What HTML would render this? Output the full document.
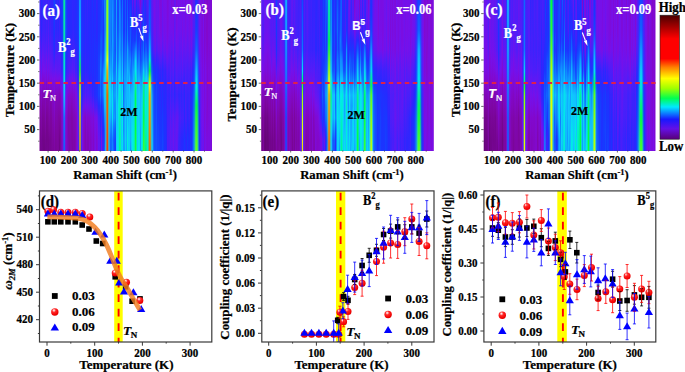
<!DOCTYPE html>
<html><head><meta charset="utf-8"><style>
html,body{margin:0;padding:0;background:#fff;}
#r{position:relative;width:685px;height:372px;overflow:hidden;background:#fff;}
#r i{position:absolute;top:0;height:150.5px;display:block;}
svg{position:absolute;left:0;top:0;}
text{font-family:"Liberation Serif",serif;font-weight:bold;}
</style></head><body><div id="r">
<i style="left:39px;width:1px;background:linear-gradient(#3724fd 0%,#3d22fb 10%,#461ffa 20%,#501df8 27%,#5e18f3 33%,#6f12ed 40%,#790ee2 47%,#7f0ad5 52%,#8108c5 57%,#7f07ae 63%,#7e06a5 70%,#7a0699 78%,#780595 86%,#74058e 93%,#750591 100%);opacity:0.50"></i>
<i style="left:40px;width:1px;background:linear-gradient(#4021fb 0%,#4121fb 10%,#4520fa 20%,#4d1df9 27%,#591af5 33%,#6715f0 40%,#770fe7 47%,#7c0cdb 52%,#8208c9 57%,#8007b7 63%,#7f07ab 70%,#7d069e 78%,#770594 86%,#74058f 93%,#73058d 100%)"></i>
<i style="left:41px;width:1px;background:linear-gradient(#2928ff 0%,#2b27ff 10%,#2d26fe 20%,#3823fc 27%,#461ffa 33%,#531cf8 40%,#6217f2 47%,#7610e9 52%,#7d0cda 57%,#8108c6 63%,#8007b7 70%,#7f06a8 78%,#7c069d 86%,#760593 93%,#74058f 100%)"></i>
<i style="left:42px;width:1px;background:linear-gradient(#3325fd 0%,#3524fd 10%,#3d22fc 20%,#4b1ef9 27%,#5a19f5 33%,#6b14ee 40%,#780ee4 47%,#7e0bd6 52%,#8208c9 57%,#8007b3 63%,#7e06a5 70%,#790698 78%,#750591 86%,#71058a 93%,#72058c 100%)"></i>
<i style="left:43px;width:1px;background:linear-gradient(#3c22fc 0%,#3f21fb 10%,#4121fb 20%,#4a1ef9 27%,#561bf6 33%,#6815ef 40%,#7610ea 47%,#7d0bd8 52%,#8208c9 57%,#8007b6 63%,#7f06a9 70%,#7a0698 78%,#750591 86%,#710589 93%,#6f0586 100%)"></i>
<i style="left:44px;width:1px;background:linear-gradient(#3a23fc 0%,#3c22fc 10%,#4121fb 20%,#4b1ef9 27%,#501df8 33%,#6316f1 40%,#7411eb 47%,#7c0cdb 52%,#8208ca 57%,#8007b3 63%,#7f06aa 70%,#7b069c 78%,#770593 86%,#72058a 93%,#6f0585 100%)"></i>
<i style="left:45px;width:1px;background:linear-gradient(#3a23fc 0%,#3923fc 10%,#3a23fc 20%,#4320fa 27%,#501df8 33%,#5e18f3 40%,#7012ec 47%,#7a0ee1 52%,#8009d2 57%,#8107bf 63%,#8007b8 70%,#7f07ad 78%,#7c069d 86%,#750591 93%,#72058b 100%)"></i>
<i style="left:46px;width:1px;background:linear-gradient(#4121fb 0%,#4221fb 10%,#461ffa 20%,#4e1df9 27%,#5a19f5 33%,#6f12ed 40%,#780ee4 47%,#7e0bd6 52%,#8108c4 57%,#7f07af 63%,#7f06a6 70%,#780595 78%,#75058f 86%,#72058b 93%,#73058d 100%)"></i>
<i style="left:47px;width:1px;background:linear-gradient(#3724fc 0%,#3724fc 10%,#3c22fc 20%,#4320fa 27%,#491ef9 33%,#591af5 40%,#6a14ef 47%,#780fe5 52%,#8009d0 57%,#8007b4 63%,#7f06a6 70%,#790697 78%,#750590 86%,#73058c 93%,#74058f 100%)"></i>
<i style="left:48px;width:1px;background:linear-gradient(#4420fa 0%,#4a1ef9 10%,#4e1df9 20%,#591af5 27%,#5f18f3 33%,#6d13ed 40%,#770fe7 47%,#7e0bd7 52%,#8208c9 57%,#7f07ad 63%,#7f07ab 70%,#7d069f 78%,#790696 86%,#73058c 93%,#72058b 100%)"></i>
<i style="left:49px;width:1px;background:linear-gradient(#3624fd 0%,#3724fc 10%,#3a23fc 20%,#4220fb 27%,#511cf8 33%,#6117f2 40%,#6f12ed 47%,#790ee2 52%,#7f0ad4 57%,#8107bf 63%,#8007b3 70%,#7f06a7 78%,#7c069c 86%,#760592 93%,#760592 100%)"></i>
<i style="left:50px;width:1px;background:linear-gradient(#3923fc 0%,#3c22fc 10%,#4320fa 20%,#4a1ef9 27%,#511cf8 33%,#591af5 40%,#6815ef 47%,#780fe5 52%,#8009d1 57%,#8007b7 63%,#7f06a9 70%,#7d069f 78%,#7b069a 86%,#760593 93%,#770593 100%)"></i>
<i style="left:51px;width:1px;background:linear-gradient(#3225fd 0%,#3524fd 10%,#3823fc 20%,#4121fb 27%,#4b1ef9 33%,#581af6 40%,#6516f0 47%,#790ee4 52%,#8109cf 57%,#8007b8 63%,#7f07ad 70%,#7e06a0 78%,#7b069b 86%,#790697 93%,#780696 100%)"></i>
<i style="left:52px;width:1px;background:linear-gradient(#3026fe 0%,#3524fd 10%,#3524fd 20%,#3d22fc 27%,#4420fa 33%,#541bf7 40%,#6017f2 47%,#7610ea 52%,#7d0bd9 57%,#8108c6 63%,#8107be 70%,#8007b1 78%,#7f06a6 86%,#7d069e 93%,#7a0699 100%)"></i>
<i style="left:53px;width:1px;background:linear-gradient(#2334fe 0%,#2430fe 10%,#252dfe 20%,#292bfe 27%,#3228fd 33%,#461ffa 40%,#6117f2 47%,#770fe7 52%,#7d0bd9 57%,#8009c9 63%,#8008bf 70%,#8007b3 78%,#7e06a7 86%,#7b069e 93%,#7a0599 100%)"></i>
<i style="left:54px;width:1px;background:linear-gradient(#1645ff 0%,#183dff 10%,#1b35ff 20%,#1f32ff 27%,#222fff 33%,#3c23fc 40%,#5d19f4 47%,#7610ea 52%,#7a0dde 57%,#7e0bd6 63%,#8109ce 70%,#8108c1 78%,#8007b4 86%,#7f06a9 93%,#7e06a0 100%)"></i>
<i style="left:55px;width:1px;background:linear-gradient(#282bff 0%,#2c29fe 10%,#3226fd 20%,#3a24fc 27%,#4121fb 33%,#531bf7 40%,#6616f1 47%,#780fe6 52%,#7f0ad2 57%,#8108c0 63%,#8007b8 70%,#7f06aa 78%,#7d06a0 86%,#7b069a 93%,#790697 100%)"></i>
<i style="left:56px;width:1px;background:linear-gradient(#2729ff 0%,#2b27fe 10%,#2d27fe 20%,#3b23fc 27%,#471ffa 33%,#531cf7 40%,#6117f2 47%,#780fe6 52%,#7e0bd6 57%,#8107c1 63%,#8007b6 70%,#7f07ad 78%,#7e06a4 86%,#7c069c 93%,#7a069a 100%)"></i>
<i style="left:57px;width:1px;background:linear-gradient(#3325fd 0%,#3325fd 10%,#3425fd 20%,#3e22fb 27%,#471ffa 33%,#511cf8 40%,#5e18f3 47%,#7510ea 52%,#7e0bd5 57%,#8107c0 63%,#8007b4 70%,#7f06aa 78%,#7e06a2 86%,#7d069f 93%,#7c069c 100%)"></i>
<i style="left:58px;width:1px;background:linear-gradient(#262aff 0%,#2928ff 10%,#2c27fe 20%,#3923fc 27%,#4620fa 33%,#531cf7 40%,#5f18f3 47%,#770fe8 52%,#7f0ad4 57%,#8107bd 63%,#8007b1 70%,#7e06a2 78%,#7d069e 86%,#7a069a 93%,#7b069a 100%)"></i>
<i style="left:59px;width:1px;background:linear-gradient(#4221fb 0%,#3f21fb 10%,#3923fc 20%,#3f21fb 27%,#481ffa 33%,#541bf7 40%,#5f18f3 47%,#780fe5 52%,#8109d0 57%,#8007b5 63%,#8007b1 70%,#7e06a1 78%,#780595 86%,#71058a 93%,#6f0586 100%)"></i>
<i style="left:60px;width:1px;background:linear-gradient(#2729ff 0%,#2828ff 10%,#2928ff 20%,#3524fd 27%,#3c22fc 33%,#4b1ef9 40%,#521cf8 47%,#6715f0 52%,#7b0ddd 57%,#8107c0 63%,#8007b8 70%,#7e06a5 78%,#7b069b 86%,#7b069a 93%,#7d069e 100%)"></i>
<i style="left:61px;width:1px;background:linear-gradient(#1a36ff 0%,#1b35ff 10%,#1b35ff 20%,#212fff 27%,#2828ff 33%,#3026fe 40%,#3c22fc 47%,#591af5 52%,#7211ec 57%,#7e0bd7 63%,#8208cd 70%,#8108c2 78%,#8007bb 86%,#8007b5 93%,#8007b4 100%)"></i>
<i style="left:62px;width:1px;background:linear-gradient(#1841f9 0%,#1742fa 10%,#1841fa 20%,#1c3cfb 27%,#2335fb 33%,#2e31fb 40%,#382efa 47%,#4d27f7 52%,#6120f0 57%,#7417e1 63%,#7713db 70%,#7c0ecf 78%,#7c0ece 86%,#7c0dcb 93%,#7c0dce 100%)"></i>
<i style="left:63px;width:1px;background:linear-gradient(#08b4be 0%,#08b3c3 10%,#08b2c8 20%,#08afcb 27%,#09aacf 33%,#0ba6d9 40%,#0da2e4 47%,#149eeb 52%,#1f96f2 57%,#2f84f6 63%,#366ef8 70%,#3a4ef3 78%,#3b49f0 86%,#3b44ee 93%,#3c41ed 100%)"></i>
<i style="left:64px;width:1px;background:linear-gradient(#02e89d 0%,#02e7a5 10%,#02e6ad 20%,#02e4b1 27%,#02e2b7 33%,#03dfc6 40%,#03ddd6 47%,#05dbe2 52%,#09d3ee 57%,#15bcf9 63%,#189dfd 70%,#196ffc 78%,#1968fc 86%,#1962fc 93%,#195cfc 100%)"></i>
<i style="left:65px;width:1px;background:linear-gradient(#106fec 0%,#106ded 10%,#106bef 20%,#1166f0 27%,#1260f1 33%,#1557f4 40%,#1a52f7 47%,#2649f9 52%,#3c42f8 57%,#5536f3 63%,#642bed 70%,#6a1ee0 78%,#6b1cdb 86%,#6b1bda 93%,#6c1ada 100%)"></i>
<i style="left:66px;width:1px;background:linear-gradient(#173dff 0%,#173eff 10%,#1740ff 20%,#1937ff 27%,#1e32ff 33%,#2729ff 40%,#3524fd 47%,#4e1df9 52%,#6416f1 57%,#770fe6 63%,#7c0cdb 70%,#8208cb 78%,#8208ca 86%,#8208c9 93%,#8208c8 100%)"></i>
<i style="left:67px;width:1px;background:linear-gradient(#212fff 0%,#2030ff 10%,#1f31ff 20%,#242cff 27%,#2729ff 33%,#3624fd 40%,#4320fa 47%,#5a19f5 52%,#6d13ed 57%,#7d0bd8 63%,#8109ce 70%,#8007ba 78%,#8007bb 86%,#8007ba 93%,#8107be 100%)"></i>
<i style="left:68px;width:1px;background:linear-gradient(#2c27fe 0%,#2e26fe 10%,#2b27ff 20%,#3026fe 27%,#3524fd 33%,#4021fb 40%,#491ef9 47%,#5e18f3 52%,#780fe6 57%,#8208cd 63%,#8007bb 70%,#7f07ac 78%,#7f06a8 86%,#7f07ad 93%,#8007b3 100%)"></i>
<i style="left:69px;width:1px;background:linear-gradient(#2a28ff 0%,#2928ff 10%,#2729ff 20%,#2f26fe 27%,#3a23fc 33%,#4320fa 40%,#521cf8 47%,#7112ec 52%,#7c0cdc 57%,#8208cb 63%,#8107bf 70%,#7f07ae 78%,#7f07ac 86%,#7f06a6 93%,#7e06a2 100%)"></i>
<i style="left:70px;width:1px;background:linear-gradient(#252bff 0%,#2729ff 10%,#2729ff 20%,#2e26fe 27%,#3325fd 33%,#4121fb 40%,#4d1df9 47%,#6815ef 52%,#790ee4 57%,#8208cb 63%,#8107c1 70%,#7f07b0 78%,#8007b1 86%,#7f07ad 93%,#7f07b0 100%)"></i>
<i style="left:71px;width:1px;background:linear-gradient(#2729ff 0%,#262aff 10%,#2729ff 20%,#2d26fe 27%,#3724fd 33%,#3f21fb 40%,#4f1df9 47%,#6715f0 52%,#790ee2 57%,#8208ca 63%,#8007b7 70%,#7f06a9 78%,#7f06a9 86%,#7f06a8 93%,#7f07ae 100%)"></i>
<i style="left:72px;width:1px;background:linear-gradient(#2d27fe 0%,#2f26fe 10%,#2e26fe 20%,#3524fd 27%,#4320fa 33%,#4e1df9 40%,#591af5 47%,#7112ec 52%,#7c0cdb 57%,#8208ca 63%,#8107bc 70%,#7f07ab 78%,#7f06a8 86%,#7f06a6 93%,#7e06a3 100%)"></i>
<i style="left:73px;width:1px;background:linear-gradient(#2c27fe 0%,#2d26fe 10%,#3026fe 20%,#3923fc 27%,#3f21fb 33%,#471ffa 40%,#511cf8 47%,#6416f1 52%,#770fe8 57%,#8009d1 63%,#8108c6 70%,#8007b5 78%,#7f07b0 86%,#7f06ab 93%,#7f06ab 100%)"></i>
<i style="left:74px;width:1px;background:linear-gradient(#2c27fe 0%,#2b27ff 10%,#2928ff 20%,#3125fd 27%,#3c22fc 33%,#471ffa 40%,#561bf7 47%,#6b14ee 52%,#780ee4 57%,#8009d1 63%,#8208c7 70%,#8007b9 78%,#8007b1 86%,#7f06a9 93%,#7f06a7 100%)"></i>
<i style="left:75px;width:1px;background:linear-gradient(#2729ff 0%,#2729ff 10%,#262aff 20%,#2828ff 27%,#2f26fe 33%,#3624fd 40%,#3f21fb 47%,#531cf7 52%,#6b14ee 57%,#7b0ddd 63%,#7f0ad3 70%,#8107be 78%,#8007b8 86%,#8007b3 93%,#8007b2 100%)"></i>
<i style="left:76px;width:1px;background:linear-gradient(#262aff 0%,#242cff 10%,#232dff 20%,#262aff 27%,#2e26fe 33%,#3823fc 40%,#4021fb 47%,#561bf6 52%,#6d13ee 57%,#7a0ee1 63%,#7d0cd9 70%,#8208c7 78%,#8208c8 86%,#8208c9 93%,#8208cd 100%)"></i>
<i style="left:77px;width:1px;background:linear-gradient(#1f31ff 0%,#1f31ff 10%,#2030ff 20%,#222eff 27%,#262aff 33%,#2828ff 40%,#2a27ff 47%,#3824fc 52%,#471ffa 57%,#581af6 63%,#6815ef 70%,#780fe6 78%,#790ee4 86%,#7a0ddf 93%,#7b0dde 100%)"></i>
<i style="left:78px;width:1px;background:linear-gradient(#1b3aff 0%,#1b3bff 10%,#1a3cff 20%,#1e38ff 27%,#2036ff 33%,#2136fa 40%,#2138f6 47%,#2934f4 52%,#2f31f4 57%,#392ff3 63%,#432bf1 70%,#4e28ef 78%,#4d27ef 86%,#4d26ef 93%,#4926f0 100%)"></i>
<i style="left:79px;width:1px;background:linear-gradient(#1290ff 0%,#1298ff 10%,#11a1fe 20%,#10a3fb 27%,#0fa6f9 33%,#06c4b3 40%,#22cd6d 47%,#65cd52 52%,#95ce4b 57%,#b9c44b 63%,#bab64b 70%,#bba34b 78%,#bb964b 86%,#bb8d4b 93%,#ba834b 100%)"></i>
<i style="left:80px;width:1px;background:linear-gradient(#138eff 0%,#1296ff 10%,#119ffe 20%,#10a2fb 27%,#0fa5f9 33%,#06c1b3 40%,#22ca6d 47%,#66cc52 52%,#95ce4b 57%,#b9c64b 63%,#bab64b 70%,#bba24b 78%,#bb954b 86%,#bb8a4b 93%,#bb7f4b 100%)"></i>
<i style="left:81px;width:1px;background:linear-gradient(#1e37ff 0%,#1e37ff 10%,#1c3aff 20%,#1d39ff 27%,#1d39ff 33%,#1c3cfa 40%,#1b3ff6 47%,#203ef4 52%,#233ef4 57%,#243ef4 63%,#2f33f4 70%,#4729f0 78%,#4828f0 86%,#4727f0 93%,#4328f1 100%)"></i>
<i style="left:82px;width:1px;background:linear-gradient(#262aff 0%,#232dff 10%,#2030ff 20%,#2030ff 27%,#2030ff 33%,#2030ff 40%,#222eff 47%,#262aff 52%,#2729ff 57%,#2e26fe 63%,#491ffa 70%,#6b14ee 78%,#7311eb 86%,#780fe6 93%,#770fe8 100%)"></i>
<i style="left:83px;width:1px;background:linear-gradient(#262aff 0%,#252bff 10%,#232dff 20%,#232dff 27%,#242cff 33%,#262aff 40%,#252bff 47%,#2f26fe 52%,#3e22fb 57%,#4520fa 63%,#6217f2 70%,#7e0bd6 78%,#8009d0 86%,#8109cf 93%,#8108cd 100%)"></i>
<i style="left:84px;width:1px;background:linear-gradient(#2828ff 0%,#262aff 10%,#252bff 20%,#242cff 27%,#262aff 33%,#262aff 40%,#2729ff 47%,#2f26fe 52%,#3a23fc 57%,#471ffa 63%,#6a14ef 70%,#8108ce 78%,#8108c5 86%,#8107be 93%,#8107bf 100%)"></i>
<i style="left:85px;width:1px;background:linear-gradient(#3026fe 0%,#3126fe 10%,#2f26fe 20%,#3026fe 27%,#3026fe 33%,#3325fd 40%,#3524fd 47%,#3c22fc 52%,#4a1ef9 57%,#561bf6 63%,#7411eb 70%,#8108c6 78%,#8007ba 86%,#8007b5 93%,#8007b3 100%)"></i>
<i style="left:86px;width:1px;background:linear-gradient(#2729ff 0%,#2729ff 10%,#262aff 20%,#2729ff 27%,#2729ff 33%,#2828ff 40%,#2a27ff 47%,#3425fd 52%,#4021fb 57%,#471ffa 63%,#6715f0 70%,#7e0bd6 78%,#8208cc 86%,#8108c3 93%,#8107bd 100%)"></i>
<i style="left:87px;width:1px;background:linear-gradient(#3624fd 0%,#3225fd 10%,#2d27fe 20%,#2b27ff 27%,#2928ff 33%,#2b27ff 40%,#2c27fe 47%,#3724fc 52%,#4320fb 57%,#511cf8 63%,#7012ec 70%,#8208cc 78%,#8107c1 86%,#8007b8 93%,#8007b5 100%)"></i>
<i style="left:88px;width:1px;background:linear-gradient(#2828ff 0%,#2729ff 10%,#2729ff 20%,#2828ff 27%,#2928ff 33%,#2e26fe 40%,#2b27fe 47%,#3424fd 52%,#4221fb 57%,#4e1df9 63%,#6a14ef 70%,#8109cf 78%,#8108c3 86%,#8007b9 93%,#8007b4 100%)"></i>
<i style="left:89px;width:1px;background:linear-gradient(#2e26fe 0%,#2a27ff 10%,#252bff 20%,#242cff 27%,#262aff 33%,#252bff 40%,#232dff 47%,#2a27ff 52%,#3724fc 57%,#491ffa 63%,#6715f0 70%,#8009d1 78%,#8208c9 86%,#8208c7 93%,#8208cd 100%)"></i>
<i style="left:90px;width:1px;background:linear-gradient(#2b27fe 0%,#2729ff 10%,#232dff 20%,#222eff 27%,#222eff 33%,#212fff 40%,#222eff 47%,#2c27fe 52%,#3624fd 57%,#4520fa 63%,#6416f1 70%,#7d0bd8 78%,#8108ce 86%,#8108c3 93%,#8108c2 100%)"></i>
<i style="left:91px;width:1px;background:linear-gradient(#262aff 0%,#262aff 10%,#262aff 20%,#2729ff 27%,#252bff 33%,#252bff 40%,#262aff 47%,#2d27fe 52%,#3524fd 57%,#4121fb 63%,#6017f2 70%,#7c0cdb 78%,#7f0ad4 86%,#8208cc 93%,#8208ca 100%)"></i>
<i style="left:92px;width:1px;background:linear-gradient(#1d33ff 0%,#2030ff 10%,#2030ff 20%,#212fff 27%,#212fff 33%,#212fff 40%,#1f31ff 47%,#222eff 52%,#2729ff 57%,#3225fd 63%,#551bf7 70%,#7a0ddf 78%,#7e0bd7 86%,#7f0ad3 93%,#7e0bd6 100%)"></i>
<i style="left:93px;width:1px;background:linear-gradient(#2c27fe 0%,#2928ff 10%,#2729ff 20%,#252bff 27%,#252bff 33%,#242cff 40%,#262aff 47%,#2928ff 52%,#2f26fe 57%,#3724fd 63%,#6117f2 70%,#7e0bd7 78%,#8109ce 86%,#8208c7 93%,#8108c6 100%)"></i>
<i style="left:94px;width:1px;background:linear-gradient(#212fff 0%,#212fff 10%,#212fff 20%,#1e32ff 27%,#1c34ff 33%,#1d33ff 40%,#1d33ff 47%,#1f31ff 52%,#232dff 57%,#242cff 63%,#461ffa 70%,#770fe7 78%,#7a0de0 86%,#7c0cdb 93%,#7d0cda 100%)"></i>
<i style="left:95px;width:1px;background:linear-gradient(#212fff 0%,#212fff 10%,#222eff 20%,#232dff 27%,#212fff 33%,#242cff 40%,#232dff 47%,#242cff 52%,#232dff 57%,#232dff 63%,#4320fa 70%,#7510ea 78%,#770fe7 86%,#780fe5 93%,#770fe8 100%)"></i>
<i style="left:96px;width:1px;background:linear-gradient(#3425fd 0%,#2f26fe 10%,#2c27fe 20%,#252bff 27%,#2030ff 33%,#1e32ff 40%,#1f31ff 47%,#1d33ff 52%,#1e32ff 57%,#1f31ff 63%,#4520fa 70%,#7710e9 78%,#7c0cdc 86%,#7e0ad5 93%,#7f0ad3 100%)"></i>
<i style="left:97px;width:1px;background:linear-gradient(#2f26fe 0%,#2b27fe 10%,#2a27ff 20%,#262aff 27%,#222eff 33%,#2030ff 40%,#1f31ff 47%,#1e32ff 52%,#1e32ff 57%,#1d33ff 63%,#3923fc 70%,#6914ef 78%,#7710e8 86%,#7b0dde 93%,#7c0cdc 100%)"></i>
<i style="left:98px;width:1px;background:linear-gradient(#1f31ff 0%,#1e32ff 10%,#1d33ff 20%,#1a36ff 27%,#173bff 33%,#1641ff 40%,#1642ff 47%,#1642ff 52%,#1644ff 57%,#1546ff 63%,#232dff 70%,#491ff9 78%,#591af5 86%,#6715f0 93%,#6416f1 100%)"></i>
<i style="left:99px;width:1px;background:linear-gradient(#1f31ff 0%,#1e32ff 10%,#1f31ff 20%,#1c34ff 27%,#1839ff 33%,#1740ff 40%,#1644ff 47%,#1644ff 52%,#1644ff 57%,#1642ff 63%,#222eff 70%,#4420fa 78%,#581af6 86%,#6815ef 93%,#6715f0 100%)"></i>
<i style="left:100px;width:1px;background:linear-gradient(#1937ff 0%,#1937ff 10%,#173eff 20%,#144fff 27%,#1353ff 33%,#1071ff 40%,#1083ff 47%,#1078ff 52%,#1069ff 57%,#1073ff 63%,#1547ff 70%,#2928ff 78%,#3125fd 86%,#3624fd 93%,#3524fd 100%)"></i>
<i style="left:101px;width:1px;background:linear-gradient(#1839ff 0%,#1740ff 10%,#1547ff 20%,#1259ff 27%,#1258ff 33%,#106fff 40%,#106aff 47%,#125aff 52%,#144eff 57%,#144eff 63%,#222eff 70%,#4021fb 78%,#591af5 86%,#7211eb 93%,#7510eb 100%)"></i>
<i style="left:102px;width:1px;background:linear-gradient(#1351ff 0%,#1645ff 10%,#1644ff 20%,#1547ff 27%,#1645ff 33%,#144bff 40%,#1161ff 47%,#1062ff 52%,#1064ff 57%,#115fff 63%,#1643ff 70%,#1b35ff 78%,#2c27fe 86%,#3d22fb 93%,#3c22fc 100%)"></i>
<i style="left:103px;width:1px;background:linear-gradient(#144cff 0%,#1a36ff 10%,#1e32ff 20%,#1d33ff 27%,#1643ff 33%,#1258ff 40%,#108bff 47%,#1094ff 52%,#1095ff 57%,#108bff 63%,#115fff 70%,#173fff 78%,#2729ff 86%,#3d22fc 93%,#3b22fc 100%)"></i>
<i style="left:104px;width:1px;background:linear-gradient(#1083ff 0%,#107eff 10%,#106aff 20%,#1072ff 27%,#107aff 33%,#1090ff 40%,#10a8ff 47%,#0fc6fe 52%,#10c0ff 57%,#10beff 63%,#10b4ff 70%,#1089ff 78%,#115fff 86%,#1353ff 93%,#1160ff 100%)"></i>
<i style="left:105px;width:1px;background:linear-gradient(#1a76eb 0%,#1b83eb 10%,#1c8beb 20%,#1caaeb 27%,#1cbaeb 33%,#22cbea 40%,#1adadd 47%,#19dadc 52%,#1ecae4 57%,#1ec8e3 63%,#22bdea 70%,#23a1eb 78%,#239deb 86%,#23a4eb 93%,#23b0eb 100%)"></i>
<i style="left:106px;width:1px;background:linear-gradient(#5be269 0%,#62e666 10%,#69e464 20%,#6ce464 27%,#6fe764 33%,#99f45d 40%,#9bc64f 47%,#9bb947 52%,#9bab3e 57%,#9b9838 63%,#9b9345 70%,#9b8c56 78%,#9b845c 86%,#9d7d5f 93%,#9d7760 100%)"></i>
<i style="left:107px;width:1px;background:linear-gradient(#88fc10 0%,#94fd0b 10%,#9dfd08 20%,#a2fe07 27%,#a7fe07 33%,#f1fe07 40%,#f7ac05 47%,#f79704 52%,#f78004 57%,#f76004 63%,#f75a03 70%,#f75105 78%,#f74905 86%,#f74405 93%,#f73d04 100%)"></i>
<i style="left:108px;width:1px;background:linear-gradient(#38c4af 0%,#3cc4ad 10%,#3fc0ac 20%,#41c0ac 27%,#43c1ac 33%,#5cceac 40%,#59c8a5 47%,#53cf9d 52%,#53ca89 57%,#53c26c 63%,#53be84 70%,#53b89d 78%,#58a8a4 86%,#5ba0a8 93%,#5e96ac 100%)"></i>
<i style="left:109px;width:1px;background:linear-gradient(#1380f9 0%,#1380f9 10%,#1380f9 20%,#137df9 27%,#1473f9 33%,#157ef9 40%,#15a5f9 47%,#15b6f9 52%,#0fd4ef 57%,#0adfe9 63%,#0dd8ec 70%,#15baf9 78%,#15b1f9 86%,#159ff9 93%,#15a9f9 100%)"></i>
<i style="left:110px;width:1px;background:linear-gradient(#107dff 0%,#1081ff 10%,#107eff 20%,#1086ff 27%,#1083ff 33%,#1096ff 40%,#10abff 47%,#10c4ff 52%,#0ccdfa 57%,#08d8f4 63%,#0ccef9 70%,#10b5ff 78%,#1089ff 86%,#1066ff 93%,#1062ff 100%)"></i>
<i style="left:111px;width:1px;background:linear-gradient(#1077ff 0%,#1074ff 10%,#106fff 20%,#1069ff 27%,#107aff 33%,#1086ff 40%,#109eff 47%,#10a3ff 52%,#10a9ff 57%,#10bcff 63%,#10b4ff 70%,#109aff 78%,#107bff 86%,#1068ff 93%,#1067ff 100%)"></i>
<i style="left:112px;width:1px;background:linear-gradient(#1084ff 0%,#1096ff 10%,#109aff 20%,#10a1ff 27%,#109bff 33%,#10b4ff 40%,#10b1ff 47%,#0dcbfb 52%,#0ad2f7 57%,#05dff0 63%,#04e3ed 70%,#04e2ee 78%,#10abff 86%,#1081ff 93%,#1086ff 100%)"></i>
<i style="left:113px;width:1px;background:linear-gradient(#1074ff 0%,#107bff 10%,#1073ff 20%,#1080ff 27%,#107eff 33%,#1075ff 40%,#1077ff 47%,#108bff 52%,#1085ff 57%,#1097ff 63%,#109fff 70%,#1096ff 78%,#106fff 86%,#125aff 93%,#1067ff 100%)"></i>
<i style="left:114px;width:1px;background:linear-gradient(#1355ff 0%,#1258ff 10%,#1062ff 20%,#115eff 27%,#115fff 33%,#1068ff 40%,#1072ff 47%,#1081ff 52%,#1094ff 57%,#109eff 63%,#1089ff 70%,#109aff 78%,#1062ff 86%,#1547ff 93%,#1641ff 100%)"></i>
<i style="left:115px;width:1px;background:linear-gradient(#144bff 0%,#144dff 10%,#1355ff 20%,#1257ff 27%,#144fff 33%,#115cff 40%,#1074ff 47%,#1086ff 52%,#1092ff 57%,#10a1ff 63%,#108dff 70%,#1081ff 78%,#1355ff 86%,#173fff 93%,#1d33ff 100%)"></i>
<i style="left:116px;width:1px;background:linear-gradient(#10a2ff 0%,#109aff 10%,#10a2ff 20%,#10a1ff 27%,#10a6ff 33%,#10bcff 40%,#0bd0f8 47%,#10beff 52%,#10c4ff 57%,#0dcbfb 63%,#0ccff9 70%,#0dcdfa 78%,#0ad3f6 86%,#0dcdfa 93%,#10c5ff 100%)"></i>
<i style="left:117px;width:1px;background:linear-gradient(#1548ff 0%,#144bff 10%,#144eff 20%,#115fff 27%,#1066ff 33%,#1069ff 40%,#107fff 47%,#1090ff 52%,#1099ff 57%,#10a6ff 63%,#10bfff 70%,#10c0ff 78%,#0bd0f8 86%,#06ddf1 93%,#04e3ed 100%)"></i>
<i style="left:118px;width:1px;background:linear-gradient(#144eff 0%,#154aff 10%,#1259ff 20%,#1069ff 27%,#1073ff 33%,#1086ff 40%,#10aeff 47%,#0fbffe 52%,#0ec3fc 57%,#08d8ef 63%,#01eae3 70%,#02e8e1 78%,#05e2e3 86%,#03e6df 93%,#07dee2 100%)"></i>
<i style="left:119px;width:1px;background:linear-gradient(#1082ff 0%,#108bff 10%,#1087ff 20%,#1099ff 27%,#10a5ff 33%,#10b1ff 40%,#0fc7fe 47%,#07dbf2 52%,#03e5ec 57%,#00eecf 63%,#00f0c5 70%,#00f1b9 78%,#00f2ad 86%,#00f3a4 93%,#00f599 100%)"></i>
<i style="left:120px;width:1px;background:linear-gradient(#1066ff 0%,#1079ff 10%,#107bff 20%,#108dff 27%,#108cff 33%,#10a8ff 40%,#10bbff 47%,#0cc8fa 52%,#08d8f3 57%,#04e5dc 63%,#04e6d6 70%,#03e8cd 78%,#01eec2 86%,#00f1ba 93%,#00f2b3 100%)"></i>
<i style="left:121px;width:1px;background:linear-gradient(#1838ff 0%,#154bff 10%,#125cff 20%,#1066ff 27%,#1071ff 33%,#1083ff 40%,#1090ff 47%,#109fff 52%,#0fb8fe 57%,#0fc1fc 63%,#0fc7fc 70%,#0dcaf9 78%,#0ec8f9 86%,#0ec9f8 93%,#09d5f1 100%)"></i>
<i style="left:122px;width:1px;background:linear-gradient(#1069ff 0%,#1073ff 10%,#1076ff 20%,#108aff 27%,#1097ff 33%,#10aaff 40%,#10c4ff 47%,#0dccfa 52%,#08d7f4 57%,#00ece8 63%,#04e2ee 70%,#01eae9 78%,#01eae9 86%,#04e3ed 93%,#08d8f4 100%)"></i>
<i style="left:123px;width:1px;background:linear-gradient(#1c34ff 0%,#1a36ff 10%,#1937ff 20%,#1740ff 27%,#144eff 33%,#115cff 40%,#1062ff 47%,#1072ff 52%,#1067ff 57%,#1072ff 63%,#1079ff 70%,#1090ff 78%,#108dff 86%,#10a2ff 93%,#10a1ff 100%)"></i>
<i style="left:124px;width:1px;background:linear-gradient(#173bff 0%,#1839ff 10%,#1b35ff 20%,#1549ff 27%,#1160ff 33%,#1075ff 40%,#108eff 47%,#10a0ff 52%,#1092ff 57%,#1098ff 63%,#109cff 70%,#10a7ff 78%,#10a6ff 86%,#10a9ff 93%,#109cff 100%)"></i>
<i style="left:125px;width:1px;background:linear-gradient(#1257ff 0%,#1259ff 10%,#1160ff 20%,#106bff 27%,#1070ff 33%,#107bff 40%,#1092ff 47%,#109cff 52%,#10a1ff 57%,#10a9ff 63%,#10b7ff 70%,#0fc6fe 78%,#0ec8fc 86%,#0bd0f8 93%,#0bd0f8 100%)"></i>
<i style="left:126px;width:1px;background:linear-gradient(#232dff 0%,#1e32ff 10%,#1838ff 20%,#1547ff 27%,#125cff 33%,#1079ff 40%,#1091ff 47%,#10a4ff 52%,#10adff 57%,#10b5ff 63%,#10a4ff 70%,#10acff 78%,#10aaff 86%,#10b0ff 93%,#10a4ff 100%)"></i>
<i style="left:127px;width:1px;background:linear-gradient(#1450ff 0%,#115fff 10%,#1072ff 20%,#1085ff 27%,#10a3ff 33%,#10a8ff 40%,#10b7ff 47%,#10b4ff 52%,#10b8ff 57%,#10baff 63%,#10c4ff 70%,#0bd2f7 78%,#04e2ee 86%,#00eddd 93%,#00eed7 100%)"></i>
<i style="left:128px;width:1px;background:linear-gradient(#252bff 0%,#1f31ff 10%,#173eff 20%,#1549ff 27%,#1072ff 33%,#1088ff 40%,#10a5ff 47%,#10a5ff 52%,#10b4ff 57%,#10b9ff 63%,#10bbff 70%,#10b9ff 78%,#0ecafb 86%,#0ad3f6 93%,#0ccef9 100%)"></i>
<i style="left:129px;width:1px;background:linear-gradient(#1a36ff 0%,#1641ff 10%,#1643ff 20%,#154aff 27%,#1160ff 33%,#1084ff 40%,#109fff 47%,#10beff 52%,#0ecafc 57%,#10c3ff 63%,#0fc6fe 70%,#0ec8fd 78%,#0dcbfb 86%,#0bd1f7 93%,#09d6f4 100%)"></i>
<i style="left:130px;width:1px;background:linear-gradient(#242cff 0%,#1547ff 10%,#1351ff 20%,#115fff 27%,#125bff 33%,#1087ff 40%,#1075ff 47%,#108dff 52%,#1094ff 57%,#10b9ff 63%,#10a7ff 70%,#10bdff 78%,#10b7ff 86%,#10afff 93%,#1091ff 100%)"></i>
<i style="left:131px;width:1px;background:linear-gradient(#262aff 0%,#1c34ff 10%,#173cff 20%,#1838ff 27%,#1642ff 33%,#115eff 40%,#1075ff 47%,#1088ff 52%,#10a2ff 57%,#10bdff 63%,#10c4ff 70%,#0ec9fc 78%,#0ccff9 86%,#0bd1f7 93%,#10c5ff 100%)"></i>
<i style="left:132px;width:1px;background:linear-gradient(#6217f2 0%,#4420fa 10%,#232dff 20%,#173cff 27%,#1450ff 33%,#1079ff 40%,#1092ff 47%,#1096ff 52%,#10aaff 57%,#10bcff 63%,#0fc7fd 70%,#0bcff8 78%,#04e1ee 86%,#03e5ec 93%,#01eae9 100%)"></i>
<i style="left:133px;width:1px;background:linear-gradient(#3724fd 0%,#2c27fe 10%,#1f31ff 20%,#173eff 27%,#1258ff 33%,#106fff 40%,#10a0ff 47%,#10b8fe 52%,#10b9fd 57%,#0ecaf9 63%,#0ad3f4 70%,#09d7f1 78%,#04e2eb 86%,#00edda 93%,#00eed2 100%)"></i>
<i style="left:134px;width:1px;background:linear-gradient(#6815ef 0%,#4221fb 10%,#222eff 20%,#1a38ff 27%,#1267ff 33%,#0e9dfc 40%,#0abbf7 47%,#0ac2e6 52%,#0ad8d5 57%,#06e3be 63%,#04e7b8 70%,#06e4b6 78%,#03f0ad 86%,#05f3a7 93%,#08f2a9 100%)"></i>
<i style="left:135px;width:1px;background:linear-gradient(#6516f1 0%,#4021fb 10%,#262aff 20%,#1642ff 27%,#1089ff 33%,#0bd1f7 40%,#00ece8 47%,#00f1bb 52%,#00f68e 57%,#00fc5c 63%,#00fd52 70%,#00fe45 78%,#05ff3e 86%,#0dff3b 93%,#14ff38 100%)"></i>
<i style="left:136px;width:1px;background:linear-gradient(#3325fd 0%,#2030ff 10%,#1644ff 20%,#115cff 27%,#1082ff 33%,#0eaffc 40%,#0ac6f7 47%,#0ad7e5 52%,#08dcd3 57%,#04e8bb 63%,#03eab6 70%,#00f2ad 78%,#02f4a0 86%,#05f599 93%,#07f596 100%)"></i>
<i style="left:137px;width:1px;background:linear-gradient(#4d1df9 0%,#3724fd 10%,#1f31ff 20%,#1a36ff 27%,#1548ff 33%,#1160ff 40%,#108bff 47%,#109dfe 52%,#10b2fd 57%,#10bffc 63%,#10c1fc 70%,#10c5fc 78%,#0ecaf9 86%,#0dccf8 93%,#0bd1f5 100%)"></i>
<i style="left:138px;width:1px;background:linear-gradient(#4b1ef9 0%,#3225fd 10%,#1e32ff 20%,#1838ff 27%,#1354ff 33%,#1078ff 40%,#109aff 47%,#10aeff 52%,#10c0ff 57%,#0fc8fd 63%,#0bcff9 70%,#09d6f5 78%,#06def0 86%,#03e5ec 93%,#01eae9 100%)"></i>
<i style="left:139px;width:1px;background:linear-gradient(#7311eb 0%,#3923fc 10%,#1e32ff 20%,#1644ff 27%,#125aff 33%,#107bff 40%,#1092ff 47%,#10aaff 52%,#10c3ff 57%,#0ccff9 63%,#0dcafb 70%,#0fc6fe 78%,#09d5f5 86%,#06ddf1 93%,#04e1ee 100%)"></i>
<i style="left:140px;width:1px;background:linear-gradient(#7f0ad4 0%,#6e13ed 10%,#4e1df9 20%,#3823fc 27%,#232dff 33%,#1549ff 40%,#106cff 47%,#1098ff 52%,#10adff 57%,#10b7ff 63%,#10b6ff 70%,#10bdff 78%,#10abff 86%,#10a1ff 93%,#109eff 100%)"></i>
<i style="left:141px;width:1px;background:linear-gradient(#6815f0 0%,#4220fb 10%,#222eff 20%,#1838ff 27%,#144eff 33%,#1354ff 40%,#107aff 47%,#108eff 52%,#10a8ff 57%,#10bdff 63%,#0ccdfa 70%,#0ecafc 78%,#09d6f5 86%,#05e1ee 93%,#04e1ee 100%)"></i>
<i style="left:142px;width:1px;background:linear-gradient(#4b1ef9 0%,#3226fd 10%,#1d33ff 20%,#1641ff 27%,#144eff 33%,#106dff 40%,#0f92fe 47%,#0db2f6 52%,#0dc5ea 57%,#0bd4e3 63%,#08dbdb 70%,#03eacd 78%,#07eacc 86%,#07efc7 93%,#0ceec7 100%)"></i>
<i style="left:143px;width:1px;background:linear-gradient(#212fff 0%,#173eff 10%,#1354ff 20%,#1063ff 27%,#1072ff 33%,#108aff 40%,#0bcdf9 47%,#01ead0 52%,#01f196 57%,#01f582 63%,#01f96a 70%,#03fc4f 78%,#16fd46 86%,#26fe3d 93%,#37fe37 100%)"></i>
<i style="left:144px;width:1px;background:linear-gradient(#3e22fa 0%,#3328fd 10%,#252ffe 20%,#1e35ff 27%,#193eff 33%,#1272ff 40%,#0dadfb 47%,#06cedf 52%,#06dab9 57%,#06e3ac 63%,#05ea9b 70%,#05ef86 78%,#10f57e 86%,#19f96c 93%,#24fa5f 100%)"></i>
<i style="left:145px;width:1px;background:linear-gradient(#3524fd 0%,#212fff 10%,#1937ff 20%,#1640ff 27%,#115dff 33%,#1083ff 40%,#10a2ff 47%,#0ec9fa 52%,#03e6e7 57%,#03e5e7 63%,#00eddf 70%,#00f0c9 78%,#01f3ad 86%,#02f598 93%,#03f96f 100%)"></i>
<i style="left:146px;width:1px;background:linear-gradient(#4520fa 0%,#3b23fc 10%,#242cff 20%,#1937ff 27%,#125bff 33%,#1086ff 40%,#10beff 47%,#08d8f4 52%,#00eed8 57%,#00f0c6 63%,#00efc9 70%,#00f0c4 78%,#00f2b4 86%,#00f3a8 93%,#00f597 100%)"></i>
<i style="left:147px;width:1px;background:linear-gradient(#561cf5 0%,#4023fb 10%,#2e28fe 20%,#2033ff 27%,#1741ff 33%,#0f6bfd 40%,#0f9af8 47%,#15c0f6 52%,#11d9eb 57%,#0aebd1 63%,#0aebce 70%,#0aead2 78%,#0aead1 86%,#0ae9cb 93%,#0ae8cf 100%)"></i>
<i style="left:148px;width:1px;background:linear-gradient(#4529f7 0%,#3831fb 10%,#3238fc 20%,#234afe 27%,#1c5cff 33%,#0e83ed 40%,#0aa8bc 47%,#3ccba8 52%,#58e3a0 57%,#5ad784 63%,#5ad37e 70%,#5acd80 78%,#5ac973 86%,#5ac371 93%,#5abd74 100%)"></i>
<i style="left:149px;width:1px;background:linear-gradient(#1745ff 0%,#1453ff 10%,#1161ff 20%,#1187ff 27%,#10acff 33%,#01e8cf 40%,#01f94a 47%,#86fb15 52%,#dcfd0d 57%,#f1ae09 63%,#f1a309 70%,#f19309 78%,#f18308 86%,#f17309 93%,#f1630a 100%)"></i>
<i style="left:150px;width:1px;background:linear-gradient(#223dfe 0%,#1d48fe 10%,#1854ff 20%,#1573ff 27%,#1391ff 33%,#05c6d9 40%,#04de72 47%,#6cea48 52%,#aef440 57%,#bcbb3a 63%,#bcb335 70%,#bca732 78%,#bc9b31 86%,#bc8f2e 93%,#bc822e 100%)"></i>
<i style="left:151px;width:1px;background:linear-gradient(#4e21f7 0%,#4826f9 10%,#412afa 20%,#3a33fc 27%,#2e3cfd 33%,#1655f6 40%,#0f76df 47%,#258fd6 52%,#34abd4 57%,#38b8d4 63%,#38bbd4 70%,#38bcd3 78%,#36bcd2 86%,#36bdd0 93%,#35bad0 100%)"></i>
<i style="left:152px;width:1px;background:linear-gradient(#6118f2 0%,#561bf6 10%,#4c1ef9 20%,#4022fb 27%,#3a25fc 33%,#2032fe 40%,#154cfd 47%,#135bfc 52%,#126cfc 57%,#138bfc 63%,#1397fc 70%,#139ffc 78%,#13abfc 86%,#13b5fc 93%,#13bafc 100%)"></i>
<i style="left:153px;width:1px;background:linear-gradient(#7012ec 0%,#6715f0 10%,#6117f2 20%,#561bf6 27%,#4d1ef9 33%,#2d27fe 40%,#1a36ff 47%,#1642ff 52%,#1351ff 57%,#125bff 63%,#115eff 70%,#1063ff 78%,#106bff 86%,#106dff 93%,#1071ff 100%)"></i>
<i style="left:154px;width:1px;background:linear-gradient(#7710e9 0%,#7610ea 10%,#7012ec 20%,#6615f0 27%,#5b19f5 33%,#3a23fc 40%,#1e32ff 47%,#1839ff 52%,#173eff 57%,#1642ff 63%,#1644ff 70%,#1546ff 78%,#1547ff 86%,#144bff 93%,#144eff 100%)"></i>
<i style="left:155px;width:1px;background:linear-gradient(#7012ec 0%,#6d13ee 10%,#6d13ee 20%,#6a14ef 27%,#6416f1 33%,#461ffa 40%,#2729ff 47%,#222eff 52%,#1c34ff 57%,#173dff 63%,#173fff 70%,#1642ff 78%,#1546ff 86%,#154aff 93%,#154aff 100%)"></i>
<i style="left:156px;width:1px;background:linear-gradient(#6615f0 0%,#6615f0 10%,#6017f2 20%,#5a19f5 27%,#4e1df9 33%,#3225fd 40%,#1b35ff 47%,#1839ff 52%,#1644ff 57%,#1643ff 63%,#1549ff 70%,#144fff 78%,#1450ff 86%,#144fff 93%,#1352ff 100%)"></i>
<i style="left:157px;width:1px;background:linear-gradient(#6e13ed 0%,#6914ef 10%,#6815f0 20%,#6217f2 27%,#571af6 33%,#3c22fc 40%,#242cff 47%,#2030ff 52%,#1c34ff 57%,#1a36ff 63%,#1a36ff 70%,#1838ff 78%,#173fff 86%,#1644ff 93%,#1546ff 100%)"></i>
<i style="left:158px;width:1px;background:linear-gradient(#6615f0 0%,#6615f0 10%,#6815ef 20%,#6715f0 27%,#6217f2 33%,#3e22fb 40%,#2729ff 47%,#242cff 52%,#1f31ff 57%,#1b35ff 63%,#1c34ff 70%,#1839ff 78%,#1740ff 86%,#1644ff 93%,#1546ff 100%)"></i>
<i style="left:159px;width:1px;background:linear-gradient(#7a0de0 0%,#7610e9 10%,#7411eb 20%,#6a14ee 27%,#6017f2 33%,#4b1ef9 40%,#3325fd 47%,#2a27ff 52%,#262aff 57%,#252bff 63%,#212fff 70%,#1d33ff 78%,#1a36ff 86%,#173cff 93%,#1740ff 100%)"></i>
<i style="left:160px;width:1px;background:linear-gradient(#7c0cdc 0%,#7b0dde 10%,#790ee2 20%,#7411eb 27%,#6914ef 33%,#4f1df9 40%,#2f26fe 47%,#2828ff 52%,#262aff 57%,#212fff 63%,#1e32ff 70%,#1c34ff 78%,#1a36ff 86%,#183aff 93%,#1839ff 100%)"></i>
<i style="left:161px;width:1px;background:linear-gradient(#7b0ddf 0%,#7a0de0 10%,#780ee4 20%,#7510eb 27%,#6c13ee 33%,#4f1df8 40%,#3724fc 47%,#3524fd 52%,#3126fe 57%,#2a28ff 63%,#262aff 70%,#1f31ff 78%,#1b35ff 86%,#1838ff 93%,#183aff 100%)"></i>
<i style="left:162px;width:1px;background:linear-gradient(#6d13ee 0%,#6815ef 10%,#6615f0 20%,#6117f2 27%,#561bf6 33%,#3e22fb 40%,#2928ff 47%,#242cff 52%,#222eff 57%,#2030ff 63%,#1c34ff 70%,#183aff 78%,#173dff 86%,#1643ff 93%,#1644ff 100%)"></i>
<i style="left:163px;width:1px;background:linear-gradient(#770fe7 0%,#7510ea 10%,#7112ec 20%,#6b14ee 27%,#6217f2 33%,#481ffa 40%,#3225fd 47%,#3125fe 52%,#2e26fe 57%,#2729ff 63%,#242cff 70%,#1f31ff 78%,#1a36ff 86%,#183bff 93%,#173cff 100%)"></i>
<i style="left:164px;width:1px;background:linear-gradient(#7710e9 0%,#770fe8 10%,#770fe7 20%,#7610e9 27%,#6c13ee 33%,#531cf8 40%,#3b22fc 47%,#3425fd 52%,#2e26fe 57%,#2b27fe 63%,#2729ff 70%,#212fff 78%,#2030ff 86%,#1f31ff 93%,#1e32ff 100%)"></i>
<i style="left:165px;width:1px;background:linear-gradient(#7710e9 0%,#7411eb 10%,#7112ec 20%,#6a14ef 27%,#6017f3 33%,#491ffa 40%,#3125fd 47%,#2c27fe 52%,#2729ff 57%,#252bff 63%,#222eff 70%,#2030ff 78%,#1f31ff 86%,#1e32ff 93%,#1f31ff 100%)"></i>
<i style="left:166px;width:1px;background:linear-gradient(#780fe6 0%,#770fe7 10%,#770fe8 20%,#7510ea 27%,#7112ec 33%,#591af5 40%,#4320fb 47%,#3a23fc 52%,#3026fe 57%,#2c27fe 63%,#2e26fe 70%,#2928ff 78%,#2928ff 86%,#2729ff 93%,#242cff 100%)"></i>
<i style="left:167px;width:1px;background:linear-gradient(#7d0bd8 0%,#7c0cdc 10%,#7a0ddf 20%,#780ee4 27%,#7211eb 33%,#5f18f3 40%,#4c1ef9 47%,#461ffa 52%,#3d22fb 57%,#3724fd 63%,#3e22fb 70%,#4021fb 78%,#4520fa 86%,#4c1ef9 93%,#511cf8 100%)"></i>
<i style="left:168px;width:1px;background:linear-gradient(#7b0ddf 0%,#7a0ee1 10%,#780fe6 20%,#7112ec 27%,#6715f0 33%,#581af6 40%,#4221fb 47%,#3c22fc 52%,#3923fc 57%,#3524fd 63%,#3a23fc 70%,#4221fb 78%,#481ffa 86%,#4b1ef9 93%,#4c1ef9 100%)"></i>
<i style="left:169px;width:1px;background:linear-gradient(#7610e9 0%,#7411eb 10%,#7211ec 20%,#6c13ee 27%,#6316f1 33%,#521cf8 40%,#4420fa 47%,#3f21fb 52%,#3823fc 57%,#3026fe 63%,#3724fd 70%,#4420fa 78%,#491ffa 86%,#4f1df9 93%,#4e1df9 100%)"></i>
<i style="left:170px;width:1px;background:linear-gradient(#7211eb 0%,#7610e9 10%,#7211ec 20%,#6c13ee 27%,#6914ef 33%,#6117f2 40%,#551bf7 47%,#521cf8 52%,#501df8 57%,#471ffa 63%,#511cf8 70%,#5b19f5 78%,#6117f2 86%,#6316f1 93%,#6117f2 100%)"></i>
<i style="left:171px;width:1px;background:linear-gradient(#7c0cdb 0%,#780fe4 10%,#7211eb 20%,#6516f1 27%,#5b19f5 33%,#4f1df9 40%,#4a1ef9 47%,#4021fb 52%,#3923fc 57%,#3325fd 63%,#4121fb 70%,#4a1ef9 78%,#551bf7 86%,#5b19f4 93%,#591af5 100%)"></i>
<i style="left:172px;width:1px;background:linear-gradient(#790ee3 0%,#770fe8 10%,#7211eb 20%,#6d13ee 27%,#6117f2 33%,#5a19f5 40%,#501df8 47%,#4a1ef9 52%,#4121fb 57%,#3c22fc 63%,#481ffa 70%,#561bf7 78%,#5b19f5 86%,#5f18f3 93%,#5b19f5 100%)"></i>
<i style="left:173px;width:1px;background:linear-gradient(#7a0de0 0%,#790ee2 10%,#780ee4 20%,#7710e8 27%,#7112ec 33%,#6715f0 40%,#5a19f5 47%,#511cf8 52%,#4b1ef9 57%,#4221fb 63%,#4d1df9 70%,#6117f2 78%,#6914ef 86%,#6b14ee 93%,#6914ef 100%)"></i>
<i style="left:174px;width:1px;background:linear-gradient(#6316f1 0%,#5f18f3 10%,#5c19f4 20%,#571af6 27%,#4f1df8 33%,#461ffa 40%,#3e22fb 47%,#3524fd 52%,#2e26fe 57%,#2928ff 63%,#3a23fc 70%,#4f1df9 78%,#561bf6 86%,#591af5 93%,#571af6 100%)"></i>
<i style="left:175px;width:1px;background:linear-gradient(#6a14ef 0%,#6914ef 10%,#6715f0 20%,#6516f1 27%,#5d18f4 33%,#551bf7 40%,#4b1ef9 47%,#4520fa 52%,#3c22fc 57%,#3524fd 63%,#4320fb 70%,#571af6 78%,#5b19f5 86%,#5e18f3 93%,#5d18f4 100%)"></i>
<i style="left:176px;width:1px;background:linear-gradient(#7b0dde 0%,#790ee2 10%,#780fe6 20%,#7411eb 27%,#6d13ed 33%,#6316f2 40%,#581af6 47%,#501df8 52%,#491ef9 57%,#4021fb 63%,#4e1df9 70%,#6117f2 78%,#6516f1 86%,#6615f0 93%,#6715f0 100%)"></i>
<i style="left:177px;width:1px;background:linear-gradient(#780fe5 0%,#770fe8 10%,#7411eb 20%,#6d13ee 27%,#6a14ef 33%,#5e18f3 40%,#521cf8 47%,#4c1ef9 52%,#491ffa 57%,#4021fb 63%,#4e1df9 70%,#6217f2 78%,#6217f2 86%,#5d18f4 93%,#5e18f3 100%)"></i>
<i style="left:178px;width:1px;background:linear-gradient(#7211eb 0%,#6e13ed 10%,#6d13ed 20%,#6b14ee 27%,#6715f0 33%,#5a19f5 40%,#4e1df9 47%,#4520fa 52%,#3e22fb 57%,#3424fd 63%,#4221fb 70%,#551bf7 78%,#4d1df9 86%,#4221fb 93%,#3c22fc 100%)"></i>
<i style="left:179px;width:1px;background:linear-gradient(#7710e8 0%,#7211ec 10%,#6b14ee 20%,#6117f2 27%,#5d18f4 33%,#541bf7 40%,#4c1ef9 47%,#4420fa 52%,#4021fb 57%,#3026fe 63%,#3724fd 70%,#4420fa 78%,#3e22fb 86%,#3624fd 93%,#3a23fc 100%)"></i>
<i style="left:180px;width:1px;background:linear-gradient(#780fe6 0%,#7311eb 10%,#7012ed 20%,#6815f0 27%,#6316f1 33%,#5a19f5 40%,#521cf8 47%,#4b1ef9 52%,#4320fb 57%,#3a23fc 63%,#4021fb 70%,#4b1ef9 78%,#3c22fc 86%,#3225fd 93%,#2f26fe 100%)"></i>
<i style="left:181px;width:1px;background:linear-gradient(#7311eb 0%,#6f12ed 10%,#6a14ee 20%,#6316f1 27%,#5f18f3 33%,#531cf8 40%,#491ff9 47%,#4021fb 52%,#3624fd 57%,#2e26fe 63%,#3425fd 70%,#3e22fb 78%,#3325fd 86%,#2a27ff 93%,#2928ff 100%)"></i>
<i style="left:182px;width:1px;background:linear-gradient(#790ee3 0%,#780fe5 10%,#790ee4 20%,#7610ea 27%,#6f12ed 33%,#6416f1 40%,#5a19f5 47%,#4d1df9 52%,#461ffa 57%,#3c22fc 63%,#3c22fc 70%,#4320fb 78%,#3425fd 86%,#2828ff 93%,#262aff 100%)"></i>
<i style="left:183px;width:1px;background:linear-gradient(#7211eb 0%,#6e13ed 10%,#7012ec 20%,#6914ef 27%,#6117f2 33%,#551bf7 40%,#4b1ef9 47%,#4121fb 52%,#3b23fc 57%,#3823fc 63%,#3b23fc 70%,#4220fb 78%,#3126fe 86%,#252bff 93%,#232dff 100%)"></i>
<i style="left:184px;width:1px;background:linear-gradient(#7411eb 0%,#7012ec 10%,#6f12ed 20%,#6516f1 27%,#5f18f3 33%,#551bf7 40%,#4420fa 47%,#3624fd 52%,#3125fe 57%,#262aff 63%,#242cff 70%,#2828ff 78%,#222eff 86%,#1b35ff 93%,#1c34ff 100%)"></i>
<i style="left:185px;width:1px;background:linear-gradient(#7b0ddd 0%,#790ee2 10%,#780fe5 20%,#7311eb 27%,#6815ef 33%,#581af6 40%,#511cf8 47%,#4d1ef9 52%,#471ffa 57%,#4320fa 63%,#481ffa 70%,#461ffa 78%,#3225fd 86%,#252bff 93%,#212fff 100%)"></i>
<i style="left:186px;width:1px;background:linear-gradient(#780fe6 0%,#7610e9 10%,#7311eb 20%,#6d13ed 27%,#6316f2 33%,#581af6 40%,#4b1ef9 47%,#4420fa 52%,#4021fb 57%,#3d22fb 63%,#3923fc 70%,#3d22fc 78%,#3524fd 86%,#2a27ff 93%,#2d27fe 100%)"></i>
<i style="left:187px;width:1px;background:linear-gradient(#7411eb 0%,#7211ec 10%,#6c13ee 20%,#6316f1 27%,#5f18f3 33%,#521cf8 40%,#4520fa 47%,#4220fb 52%,#4021fb 57%,#3524fd 63%,#3026fe 70%,#2c27fe 78%,#232dff 86%,#1c34ff 93%,#1d33ff 100%)"></i>
<i style="left:188px;width:1px;background:linear-gradient(#780fe5 0%,#7710e9 10%,#7211ec 20%,#6b14ee 27%,#6217f2 33%,#581af5 40%,#4b1ef9 47%,#481ffa 52%,#4221fb 57%,#3824fc 63%,#3923fc 70%,#3624fd 78%,#2a27ff 86%,#242cff 93%,#262aff 100%)"></i>
<i style="left:189px;width:1px;background:linear-gradient(#790ee2 0%,#780ee4 10%,#770fe7 20%,#7112ec 27%,#6c13ee 33%,#5c19f4 40%,#4d1df9 47%,#471ffa 52%,#4420fa 57%,#3d22fb 63%,#3f21fb 70%,#3c22fc 78%,#3026fe 86%,#262aff 93%,#252bff 100%)"></i>
<i style="left:190px;width:1px;background:linear-gradient(#7211eb 0%,#6f12ed 10%,#6a14ef 20%,#6117f2 27%,#5c19f4 33%,#4d1ef9 40%,#3b23fc 47%,#3325fd 52%,#2c27fe 57%,#252bff 63%,#252bff 70%,#262aff 78%,#2030ff 86%,#1c34ff 93%,#1b35ff 100%)"></i>
<i style="left:191px;width:1px;background:linear-gradient(#790ee3 0%,#780fe5 10%,#770fe7 20%,#7112ec 27%,#6b14ee 33%,#5a19f5 40%,#471ffa 47%,#3c22fc 52%,#3026fe 57%,#252bff 63%,#242cff 70%,#242cff 78%,#212fff 86%,#1f31ff 93%,#2030ff 100%)"></i>
<i style="left:192px;width:1px;background:linear-gradient(#7012ec 0%,#6815ef 10%,#6516f1 20%,#5c19f4 27%,#521cf8 33%,#3f22fb 40%,#2f26fe 47%,#222eff 52%,#1d33ff 57%,#183aff 63%,#173eff 70%,#1644ff 78%,#1546ff 86%,#144dff 93%,#144dff 100%)"></i>
<i style="left:193px;width:1px;background:linear-gradient(#581af4 0%,#521cf7 10%,#501ef8 20%,#4a1ff9 27%,#4123fa 33%,#312afd 40%,#2332ff 47%,#1c3aff 52%,#1645fe 57%,#1354fb 63%,#1162f7 70%,#116bf6 78%,#1273f6 86%,#137bf5 93%,#147bf5 100%)"></i>
<i style="left:194px;width:1px;background:linear-gradient(#581bf3 0%,#501ff5 10%,#4a22f7 20%,#412afa 27%,#3731fb 33%,#293ffd 40%,#1e50ff 47%,#185bfd 52%,#116cfa 57%,#0e7ce7 63%,#0c8cd3 70%,#1597cc 78%,#1ba3c9 86%,#20a9c7 93%,#25acc5 100%)"></i>
<i style="left:195px;width:1px;background:linear-gradient(#2f2afd 0%,#292ffd 10%,#2536fe 20%,#1f44fe 27%,#1a52fe 33%,#1672ff 40%,#1292ff 47%,#0eaafa 52%,#06c0ef 57%,#05cebc 63%,#05dd81 70%,#1ee36e 78%,#2fe767 86%,#3dea61 93%,#4bed5c 100%)"></i>
<i style="left:196px;width:1px;background:linear-gradient(#2030ff 0%,#1a36ff 10%,#173fff 20%,#1352ff 27%,#1064ff 33%,#108eff 40%,#10b6ff 47%,#0bd1f8 52%,#01ebe9 57%,#00f4a0 63%,#00fd4d 70%,#24ff32 78%,#3cff28 86%,#50ff20 93%,#64ff18 100%)"></i>
<i style="left:197px;width:1px;background:linear-gradient(#302afc 0%,#2a2efd 10%,#2735fd 20%,#2243fe 27%,#1d51fe 33%,#1870ff 40%,#148fff 47%,#0fa4fa 52%,#07bcef 57%,#05c8bc 63%,#05d581 70%,#1edd6e 78%,#2fe167 86%,#3de461 93%,#4be75c 100%)"></i>
<i style="left:198px;width:1px;background:linear-gradient(#4f1ef6 0%,#4c20f7 10%,#4923f7 20%,#4229fa 27%,#3a30fb 33%,#303efd 40%,#254bfe 47%,#1f54fd 52%,#185ffa 57%,#1366e7 63%,#1077d3 70%,#1682cc 78%,#1b88c9 86%,#208ec7 93%,#2590c5 100%)"></i>
<i style="left:199px;width:1px;background:linear-gradient(#6c13ee 0%,#6a15ee 10%,#6815ef 20%,#6617f0 27%,#6318f1 33%,#5b1df4 40%,#5122f7 47%,#4b25f9 52%,#4428f9 57%,#3c2af7 63%,#312ef5 70%,#2a31f6 78%,#2634f6 86%,#2239f5 93%,#203cf5 100%)"></i>
<i style="left:200px;width:1px;background:linear-gradient(#780ee4 0%,#780fe6 10%,#770fe6 20%,#770fe8 27%,#7610e9 33%,#6f12ed 40%,#6a14ef 47%,#6615f0 52%,#6017f2 57%,#5c19f4 63%,#581af6 70%,#521cf8 78%,#4d1df9 86%,#4b1ef9 93%,#481ffa 100%)"></i>
<i style="left:201px;width:1px;background:linear-gradient(#7b0dde 0%,#7b0ddd 10%,#7c0cdc 20%,#7c0cdb 27%,#7a0ddf 33%,#790ee4 40%,#7510ea 47%,#7610ea 52%,#7510ea 57%,#7012ec 63%,#6e13ed 70%,#7012ec 78%,#6815ef 86%,#6416f1 93%,#6715f0 100%)"></i>
<i style="left:202px;width:1px;background:linear-gradient(#7d0bd9 0%,#7d0bd8 10%,#7d0bd7 20%,#7e0bd7 27%,#7d0bd9 33%,#7c0cdb 40%,#7b0ddd 47%,#7a0de0 52%,#790ee2 57%,#790ee2 63%,#780fe5 70%,#7610ea 78%,#7411eb 86%,#7012ec 93%,#6d13ed 100%)"></i>
<i style="left:203px;width:1px;background:linear-gradient(#6c13ee 0%,#7411eb 10%,#7610ea 20%,#770fe7 27%,#770fe7 33%,#770fe8 40%,#7311eb 47%,#7411eb 52%,#7610ea 57%,#7411eb 63%,#7411eb 70%,#7211eb 78%,#6c13ee 86%,#6516f1 93%,#6416f1 100%)"></i>
<i style="left:204px;width:1px;background:linear-gradient(#8108ce 0%,#8109cf 10%,#8009d0 20%,#8009d0 27%,#8009d1 33%,#7e0ad5 40%,#7d0bd9 47%,#7d0bd9 52%,#7c0cda 57%,#7d0bd8 63%,#7d0cd9 70%,#7e0bd7 78%,#7d0cd9 86%,#7c0cdb 93%,#7c0cdc 100%)"></i>
<i style="left:205px;width:1px;background:linear-gradient(#7e0bd7 0%,#7e0bd7 10%,#7d0bd8 20%,#7c0cda 27%,#7b0ddf 33%,#790ee3 40%,#7710e9 47%,#7610e9 52%,#7610ea 57%,#780fe6 63%,#780ee4 70%,#780fe5 78%,#770fe8 86%,#7610e9 93%,#7610ea 100%)"></i>
<i style="left:206px;width:1px;background:linear-gradient(#8009d0 0%,#8109ce 10%,#8108cd 20%,#8109cf 27%,#7f0ad3 33%,#7e0bd6 40%,#7c0cdc 47%,#7b0dde 52%,#7c0cdc 57%,#7c0cdb 63%,#7d0cda 70%,#7e0bd6 78%,#7d0cd9 86%,#7b0ddf 93%,#7a0de0 100%)"></i>
<i style="left:207px;width:1px;background:linear-gradient(#8208ca 0%,#8208cc 10%,#8208cd 20%,#8208cb 27%,#8208cd 33%,#7f0ad3 40%,#7f0ad2 47%,#8009d0 52%,#8109cf 57%,#800ad2 63%,#8109cf 70%,#7f0ad4 78%,#7d0bd8 86%,#7b0cdd 93%,#7c0cda 100%)"></i>
<i style="left:208px;width:1px;background:linear-gradient(#7f0ad4 0%,#7e0bd6 10%,#7e0bd7 20%,#7d0bd8 27%,#7c0cda 33%,#7c0cda 40%,#7b0ddd 47%,#7b0cdd 52%,#7c0cdb 57%,#7c0cda 63%,#7b0cdd 70%,#7c0cdb 78%,#7b0dde 86%,#7a0de1 93%,#7a0de0 100%)"></i>
<i style="left:209px;width:1px;background:linear-gradient(#7f0ad4 0%,#7e0bd7 10%,#7d0bd7 20%,#7d0cda 27%,#7f0ad4 33%,#7c0cda 40%,#7c0cdb 47%,#7b0cdd 52%,#7c0cdc 57%,#7c0cdc 63%,#7c0cdb 70%,#7b0dde 78%,#7a0ddf 86%,#7a0de0 93%,#7a0de0 100%)"></i>
<i style="left:210px;width:1px;background:linear-gradient(#7d0bd8 0%,#7d0bd8 10%,#7d0bd7 20%,#7e0bd7 27%,#7c0cda 33%,#7c0cdc 40%,#7b0dde 47%,#7a0de0 52%,#7a0de0 57%,#7b0cdd 63%,#7a0ddf 70%,#7a0ddf 78%,#7a0ddf 86%,#7a0ee1 93%,#7a0ee1 100%)"></i>
<i style="left:211px;width:1px;background:linear-gradient(#8009d1 0%,#8009d0 10%,#7f0ad3 20%,#7f0ad3 27%,#800ad2 33%,#8009d1 40%,#8009d1 47%,#8109cf 52%,#8108cd 57%,#8009d0 63%,#8109cf 70%,#8109cf 78%,#7f0ad3 86%,#7d0bd8 93%,#7d0bd9 100%)"></i>
<i style="left:261px;width:1px;background:linear-gradient(#571af6 0%,#5a19f5 10%,#5c19f4 20%,#6815ef 27%,#7411eb 33%,#790ee2 40%,#7c0cdc 47%,#8009d1 52%,#8108c6 57%,#8007ba 63%,#7f07ae 70%,#780696 78%,#750590 86%,#72058c 93%,#73058d 100%);opacity:0.80"></i>
<i style="left:262px;width:1px;background:linear-gradient(#5c19f4 0%,#5b19f5 10%,#5a19f5 20%,#6017f3 27%,#6117f2 33%,#7012ec 40%,#780fe6 47%,#7c0cda 52%,#8108ce 57%,#8007b9 63%,#7f07ac 70%,#770594 78%,#73058e 86%,#700587 93%,#700588 100%)"></i>
<i style="left:263px;width:1px;background:linear-gradient(#541bf7 0%,#531cf8 10%,#501df8 20%,#571af6 27%,#6316f1 33%,#6f12ed 40%,#780fe6 47%,#7d0bd9 52%,#8109ce 57%,#8107be 63%,#8007b2 70%,#7e069f 78%,#7c069c 86%,#7a0699 93%,#7d069e 100%)"></i>
<i style="left:264px;width:1px;background:linear-gradient(#6715f0 0%,#6815f0 10%,#6516f1 20%,#6e13ed 27%,#7112ec 33%,#770fe6 40%,#7b0cdd 47%,#8109cf 52%,#8108c3 57%,#8007b1 63%,#7e06a5 70%,#74058f 78%,#6e0584 86%,#6a047d 93%,#68047a 100%)"></i>
<i style="left:265px;width:1px;background:linear-gradient(#6c13ee 0%,#6b14ee 10%,#6914ef 20%,#6f12ed 27%,#7610e9 33%,#7a0ee1 40%,#7e0bd7 47%,#8208c7 52%,#8007bb 57%,#7f06a9 63%,#7a0699 70%,#700588 78%,#6b047f 86%,#660476 93%,#660476 100%)"></i>
<i style="left:266px;width:1px;background:linear-gradient(#6715f0 0%,#6914ef 10%,#6b14ee 20%,#7211ec 27%,#7510ea 33%,#790ee2 40%,#7c0cdc 47%,#8009d1 52%,#8108c4 57%,#7f07ae 63%,#7e06a1 70%,#72058c 78%,#6e0583 86%,#69047b 93%,#69047c 100%)"></i>
<i style="left:267px;width:1px;background:linear-gradient(#6615f0 0%,#6815ef 10%,#6b14ee 20%,#7311eb 27%,#780fe5 33%,#7c0cda 40%,#7f0ad3 47%,#8208cb 52%,#8107bc 57%,#7f07ae 63%,#7c069c 70%,#700587 78%,#6b047f 86%,#68047a 93%,#69047b 100%)"></i>
<i style="left:268px;width:1px;background:linear-gradient(#6a14ef 0%,#6a14ef 10%,#6914ef 20%,#7012ec 27%,#770fe7 33%,#7a0de0 40%,#7d0bd9 47%,#8109cf 52%,#8108c2 57%,#8007b3 63%,#7f06a6 70%,#760592 78%,#700587 86%,#6b047e 93%,#69047c 100%)"></i>
<i style="left:269px;width:1px;background:linear-gradient(#5e18f3 0%,#6017f2 10%,#6316f1 20%,#6b14ee 27%,#7311eb 33%,#780ee4 40%,#7b0dde 47%,#7e0ad5 52%,#8208cd 57%,#8007ba 63%,#7f06ab 70%,#7a0699 78%,#750591 86%,#710589 93%,#73058e 100%)"></i>
<i style="left:270px;width:1px;background:linear-gradient(#5d18f4 0%,#581af6 10%,#5a19f5 20%,#5e18f3 27%,#6715f0 33%,#7610ea 40%,#7c0cdc 47%,#8009d0 52%,#8108c2 57%,#8007b2 63%,#7f06a7 70%,#7b069b 78%,#770595 86%,#72058b 93%,#72058b 100%)"></i>
<i style="left:271px;width:1px;background:linear-gradient(#5e18f3 0%,#571af6 10%,#541bf7 20%,#5b19f4 27%,#5c19f4 33%,#6217f2 40%,#7411eb 47%,#7b0ddd 52%,#800ad2 57%,#8107c1 63%,#8007b4 70%,#7f06a7 78%,#7b069b 86%,#750591 93%,#73058c 100%)"></i>
<i style="left:272px;width:1px;background:linear-gradient(#591af5 0%,#5a19f5 10%,#5a19f5 20%,#6017f2 27%,#6815f0 33%,#7112ec 40%,#780ee4 47%,#7e0bd7 52%,#8208c9 57%,#8007b6 63%,#7f06a9 70%,#7b069b 78%,#760592 86%,#72058b 93%,#72058a 100%)"></i>
<i style="left:273px;width:1px;background:linear-gradient(#4d1ef9 0%,#501cf8 10%,#541bf7 20%,#5e18f3 27%,#6914ef 33%,#7710e9 40%,#790ee2 47%,#7c0cdb 52%,#7f0ad4 57%,#8208c9 63%,#8107bc 70%,#7f06ab 78%,#7d069f 86%,#770594 93%,#760592 100%)"></i>
<i style="left:274px;width:1px;background:linear-gradient(#6117f2 0%,#5d18f4 10%,#5a19f5 20%,#5e18f3 27%,#6516f1 33%,#7411eb 40%,#7b0dde 47%,#8109cf 52%,#8107c1 57%,#8007b1 63%,#7f06a6 70%,#790697 78%,#750590 86%,#72058b 93%,#72058b 100%)"></i>
<i style="left:275px;width:1px;background:linear-gradient(#4325fa 0%,#4622f9 10%,#4821f8 20%,#501ef5 27%,#551cf4 33%,#6516ef 40%,#6f11e7 47%,#7a0cdb 52%,#7f0ad1 57%,#7f08c7 63%,#7f08b9 70%,#7e06a8 78%,#7a059e 86%,#770597 93%,#75058f 100%)"></i>
<i style="left:276px;width:1px;background:linear-gradient(#173fff 0%,#1839ff 10%,#1b35ff 20%,#1e32ff 27%,#2030ff 33%,#3624fd 40%,#521cf8 47%,#6914ef 52%,#7610ea 57%,#7a0de1 63%,#7e0bd6 70%,#8208c8 78%,#8007b9 86%,#7f07ad 93%,#7e06a0 100%)"></i>
<i style="left:277px;width:1px;background:linear-gradient(#3b27fb 0%,#4024fa 10%,#4323fa 20%,#4920f8 27%,#4c1ff7 33%,#5d18f2 40%,#6d13ed 47%,#770ee0 52%,#7e0bd6 57%,#7f08c4 63%,#7f08b7 70%,#7e06a8 78%,#7b069f 86%,#780598 93%,#790596 100%)"></i>
<i style="left:278px;width:1px;background:linear-gradient(#4d1df9 0%,#4d1df9 10%,#4d1df9 20%,#521cf8 27%,#551bf7 33%,#6117f2 40%,#7012ec 47%,#790ee2 52%,#7d0bd9 57%,#8208ca 63%,#8007bb 70%,#7f06aa 78%,#7e06a2 86%,#7a0699 93%,#7a0698 100%)"></i>
<i style="left:279px;width:1px;background:linear-gradient(#541bf7 0%,#521cf8 10%,#531cf8 20%,#581af5 27%,#5a19f5 33%,#6815f0 40%,#780fe6 47%,#7d0cda 52%,#8108ce 57%,#8107bc 63%,#8007b2 70%,#7e06a1 78%,#7c069d 86%,#7b069b 93%,#7e069f 100%)"></i>
<i style="left:280px;width:1px;background:linear-gradient(#6615f0 0%,#6516f1 10%,#6715f0 20%,#6914ef 27%,#6d13ed 33%,#770fe7 40%,#7c0cdb 47%,#7f0ad3 52%,#8108c3 57%,#8007b4 63%,#7f06a7 70%,#790697 78%,#760591 86%,#760592 93%,#780595 100%)"></i>
<i style="left:281px;width:1px;background:linear-gradient(#7012ec 0%,#6d13ee 10%,#6914ef 20%,#6815ef 27%,#6914ef 33%,#7610ea 40%,#7a0ee1 47%,#7e0bd6 52%,#8108c5 57%,#8007b8 63%,#7f06a8 70%,#7a0699 78%,#74058f 86%,#71058a 93%,#700587 100%)"></i>
<i style="left:282px;width:1px;background:linear-gradient(#5c19f4 0%,#5a19f5 10%,#5b19f5 20%,#5e18f3 27%,#6117f2 33%,#7112ec 40%,#780fe5 47%,#7d0bd8 52%,#8109d0 57%,#8107c0 63%,#8007b4 70%,#7e06a4 78%,#7e06a2 86%,#7b069b 93%,#7c069c 100%)"></i>
<i style="left:283px;width:1px;background:linear-gradient(#461ffa 0%,#491ff9 10%,#4d1df9 20%,#551bf7 27%,#5c19f4 33%,#6615f0 40%,#7211eb 47%,#790ee3 52%,#7d0cd9 57%,#8208cd 63%,#8107c0 70%,#7f07ab 78%,#7e06a3 86%,#7d069f 93%,#7e06a0 100%)"></i>
<i style="left:284px;width:1px;background:linear-gradient(#3230fd 0%,#322ffd 10%,#332efd 20%,#372dfc 27%,#3c2afb 33%,#4b26f9 40%,#5621f5 47%,#611df1 52%,#6b18ed 57%,#7213e2 63%,#7611d9 70%,#7a0dcb 78%,#790dc7 86%,#790cc2 93%,#790cc5 100%)"></i>
<i style="left:285px;width:1px;background:linear-gradient(#1894ff 0%,#198cff 10%,#1984ff 20%,#1a7fff 27%,#1b79fe 33%,#1f71fe 40%,#2267fd 47%,#275ffc 52%,#2a56fa 57%,#2f4af8 63%,#3241f6 70%,#3535f2 78%,#3634f1 86%,#3634f1 93%,#3634f1 100%)"></i>
<i style="left:286px;width:1px;background:linear-gradient(#13adff 0%,#13a3ff 10%,#149aff 20%,#1594ff 27%,#158dff 33%,#1783ff 40%,#1878fe 47%,#1a6ffe 52%,#1c65fd 57%,#1f57fc 63%,#224cfb 70%,#253ef9 78%,#253ef8 86%,#253ef8 93%,#253ef8 100%)"></i>
<i style="left:287px;width:1px;background:linear-gradient(#323afd 0%,#3238fc 10%,#3337fc 20%,#3634fc 27%,#3833fc 33%,#3c30fb 40%,#452bfa 47%,#5127f6 52%,#5f21f0 57%,#6a1be9 63%,#6f15de 70%,#7311d1 78%,#7211cc 86%,#7211cb 93%,#7211cb 100%)"></i>
<i style="left:288px;width:1px;background:linear-gradient(#4320fb 0%,#4520fa 10%,#481ffa 20%,#4a1ef9 27%,#501df8 33%,#581af6 40%,#6316f2 47%,#6e13ed 52%,#790ee3 57%,#7f0ad3 63%,#8208ca 70%,#8007b7 78%,#7f07b0 86%,#7f07ac 93%,#7f07ac 100%)"></i>
<i style="left:289px;width:1px;background:linear-gradient(#4121fb 0%,#3f21fb 10%,#3c22fc 20%,#3b22fc 27%,#4221fb 33%,#501df8 40%,#5b19f4 47%,#6d13ee 52%,#790ee3 57%,#8009d1 63%,#8108c6 70%,#8007b8 78%,#8007b7 86%,#8007b8 93%,#8107bf 100%)"></i>
<i style="left:290px;width:1px;background:linear-gradient(#481ffa 0%,#471ffa 10%,#461ffa 20%,#481ffa 27%,#501df8 33%,#5d18f4 40%,#6715f0 47%,#780fe5 52%,#7c0cda 57%,#8208cc 63%,#8107c0 70%,#7f07af 78%,#8007b1 86%,#7f07ad 93%,#8007b1 100%)"></i>
<i style="left:291px;width:1px;background:linear-gradient(#5c19f4 0%,#5d18f4 10%,#6117f2 20%,#6416f1 27%,#6615f0 33%,#6d13ee 40%,#7710e8 47%,#7a0de1 52%,#7f0ad3 57%,#8108c6 63%,#8007b4 70%,#7f06a7 78%,#7e06a5 86%,#7f06a6 93%,#7f06a7 100%)"></i>
<i style="left:292px;width:1px;background:linear-gradient(#6117f2 0%,#5c19f4 10%,#5c19f4 20%,#5b19f4 27%,#5a19f5 33%,#6316f1 40%,#7311eb 47%,#790ee2 52%,#7f0ad4 57%,#8108c3 63%,#8007b1 70%,#7e06a0 78%,#7b069a 86%,#790696 93%,#780595 100%)"></i>
<i style="left:293px;width:1px;background:linear-gradient(#501df8 0%,#4b1ef9 10%,#471ffa 20%,#471ffa 27%,#4d1df9 33%,#5a19f5 40%,#6d13ed 47%,#790ee3 52%,#7d0bd7 57%,#8208c9 63%,#8108c2 70%,#8007b5 78%,#7f07af 86%,#7f06a7 93%,#7e06a5 100%)"></i>
<i style="left:294px;width:1px;background:linear-gradient(#5d18f4 0%,#591af5 10%,#5a19f5 20%,#5b19f4 27%,#6217f2 33%,#6c13ee 40%,#790ee3 47%,#7d0bd9 52%,#8208cb 57%,#8007b9 63%,#7f07ab 70%,#7c069c 78%,#7a0699 86%,#790697 93%,#790698 100%)"></i>
<i style="left:295px;width:1px;background:linear-gradient(#4e1df9 0%,#4c1ef9 10%,#4b1ef9 20%,#4f1df8 27%,#501df8 33%,#5e18f3 40%,#6b14ee 47%,#770fe8 52%,#7b0ddd 57%,#8109ce 63%,#8108c3 70%,#8007b4 78%,#8007b1 86%,#7f07b0 93%,#8007b5 100%)"></i>
<i style="left:296px;width:1px;background:linear-gradient(#4620fa 0%,#461ffa 10%,#461ffa 20%,#4d1df9 27%,#501df8 33%,#6117f2 40%,#6d13ed 47%,#790ee2 52%,#7d0bd8 57%,#8208c7 63%,#8107bc 70%,#7f07ac 78%,#7f06aa 86%,#7e06a5 93%,#7f06a7 100%)"></i>
<i style="left:297px;width:1px;background:linear-gradient(#481ffa 0%,#4420fa 10%,#4220fb 20%,#4121fb 27%,#4320fb 33%,#4c1ef9 40%,#5a19f5 47%,#6715f0 52%,#7510ea 57%,#7c0cda 63%,#8208ca 70%,#8107bc 78%,#8007b6 86%,#7f07ae 93%,#7f07af 100%)"></i>
<i style="left:298px;width:1px;background:linear-gradient(#3d22fb 0%,#4021fb 10%,#3d22fc 20%,#4320fb 27%,#471ffa 33%,#561bf6 40%,#6316f1 47%,#7411eb 52%,#790ee3 57%,#8009d2 63%,#8208c7 70%,#8007b4 78%,#7f07ae 86%,#7f06a8 93%,#7f07ad 100%)"></i>
<i style="left:299px;width:1px;background:linear-gradient(#3e22fb 0%,#4320fb 10%,#4520fa 20%,#4d1df9 27%,#511cf8 33%,#5b19f5 40%,#6815f0 47%,#7211ec 52%,#790ee3 57%,#7d0cd9 63%,#8109ce 70%,#8107c0 78%,#8007b8 86%,#8007b7 93%,#8007b4 100%)"></i>
<i style="left:300px;width:1px;background:linear-gradient(#4c1ef9 0%,#4620fa 10%,#4320fb 20%,#4320fa 27%,#471ffa 33%,#4e1df9 40%,#581af5 47%,#5d18f4 52%,#6316f1 57%,#6316f1 63%,#6b14ee 70%,#780fe6 78%,#780fe5 86%,#780fe5 93%,#780fe6 100%)"></i>
<i style="left:301px;width:1px;background:linear-gradient(#3429fd 0%,#342cfd 10%,#302ffd 20%,#3131fd 27%,#2f35fd 33%,#323efd 40%,#3247fa 47%,#304de1 52%,#3a4fd2 57%,#4d4fcb 63%,#564fca 70%,#624cc9 78%,#634dc9 86%,#634aca 93%,#5e47cb 100%)"></i>
<i style="left:302px;width:1px;background:linear-gradient(#1646ff 0%,#1453ff 10%,#1260ff 20%,#116bff 27%,#1076ff 33%,#10afff 40%,#06dbf0 47%,#01f578 52%,#40fb2a 57%,#a9fb05 63%,#befb05 70%,#dafb05 78%,#f3fb05 86%,#faea05 93%,#fad205 100%)"></i>
<i style="left:303px;width:1px;background:linear-gradient(#3626fc 0%,#3328fd 10%,#2e2bfe 20%,#2b2cfe 27%,#2a2efe 33%,#2e32fd 40%,#3135fc 47%,#2e38f1 52%,#3238eb 57%,#3d38e7 63%,#4537e6 70%,#5034e5 78%,#5534e4 86%,#5731e4 93%,#5231e5 100%)"></i>
<i style="left:304px;width:1px;background:linear-gradient(#551bf7 0%,#521cf8 10%,#4f1df8 20%,#4f1df9 27%,#4b1ef9 33%,#521cf8 40%,#5f18f3 47%,#6815f0 52%,#6d13ee 57%,#7311eb 63%,#7b0dde 70%,#8009d0 78%,#8208cc 86%,#8108c6 93%,#8108c5 100%)"></i>
<i style="left:305px;width:1px;background:linear-gradient(#3e22fb 0%,#3c22fc 10%,#3c22fc 20%,#3c22fc 27%,#3b23fc 33%,#4620fa 40%,#521cf8 47%,#5d18f4 52%,#6a14ef 57%,#7311eb 63%,#7b0dde 70%,#8108c6 78%,#8107bc 86%,#8007b4 93%,#7f07af 100%)"></i>
<i style="left:306px;width:1px;background:linear-gradient(#4d1df9 0%,#491ffa 10%,#471ffa 20%,#4320fa 27%,#481ffa 33%,#581af6 40%,#6914ef 47%,#7211ec 52%,#770fe7 57%,#7b0ddd 63%,#7f0ad2 70%,#8107bd 78%,#8007b3 86%,#7f06a7 93%,#7f06a7 100%)"></i>
<i style="left:307px;width:1px;background:linear-gradient(#531cf8 0%,#511cf8 10%,#511cf8 20%,#4c1ef9 27%,#4c1ef9 33%,#541bf7 40%,#5e18f3 47%,#6914ef 52%,#7411eb 57%,#790ee2 63%,#7f0ad4 70%,#8107bd 78%,#8007b7 86%,#7f07af 93%,#7f07af 100%)"></i>
<i style="left:308px;width:1px;background:linear-gradient(#3d22fb 0%,#4221fb 10%,#4320fa 20%,#4221fb 27%,#3e22fb 33%,#4c1ef9 40%,#581af6 47%,#6416f1 52%,#7012ec 57%,#790ee2 63%,#7f0ad2 70%,#8107bc 78%,#8007b5 86%,#7f07ad 93%,#7f07ac 100%)"></i>
<i style="left:309px;width:1px;background:linear-gradient(#3b23fc 0%,#3b22fc 10%,#3c22fc 20%,#3c22fc 27%,#3c22fc 33%,#481ffa 40%,#541bf7 47%,#5e18f3 52%,#6d13ed 57%,#7610e9 63%,#7c0cdb 70%,#8208c8 78%,#8108c3 86%,#8108c4 93%,#8108c5 100%)"></i>
<i style="left:310px;width:1px;background:linear-gradient(#3a23fc 0%,#3923fc 10%,#3923fc 20%,#3824fc 27%,#3a23fc 33%,#4520fa 40%,#531cf8 47%,#6117f2 52%,#6e13ed 57%,#780fe5 63%,#7d0bd9 70%,#8108c6 78%,#8107bf 86%,#8007b8 93%,#8007b9 100%)"></i>
<i style="left:311px;width:1px;background:linear-gradient(#3e22fb 0%,#3f21fb 10%,#3d22fc 20%,#3b23fc 27%,#3c22fc 33%,#491ffa 40%,#561bf7 47%,#6316f1 52%,#7311eb 57%,#7a0de0 63%,#8109cf 70%,#8107be 78%,#8007b7 86%,#8007b4 93%,#8007b5 100%)"></i>
<i style="left:312px;width:1px;background:linear-gradient(#3524fd 0%,#3325fd 10%,#3524fd 20%,#3425fd 27%,#3823fc 33%,#4520fa 40%,#531cf8 47%,#5c19f4 52%,#6416f1 57%,#6b14ee 63%,#780fe6 70%,#7e0bd6 78%,#800ad2 86%,#8208cc 93%,#8208cc 100%)"></i>
<i style="left:313px;width:1px;background:linear-gradient(#3325fd 0%,#3624fd 10%,#3923fc 20%,#3b23fc 27%,#3b23fc 33%,#4620fa 40%,#561bf7 47%,#6217f2 52%,#7012ec 57%,#780fe6 63%,#7f0ad3 70%,#8007bb 78%,#8007b7 86%,#8007b6 93%,#8007b3 100%)"></i>
<i style="left:314px;width:1px;background:linear-gradient(#3425fd 0%,#3923fc 10%,#3c22fc 20%,#3d22fc 27%,#3e22fb 33%,#4d1df9 40%,#591af5 47%,#6117f2 52%,#6b14ee 57%,#7311eb 63%,#7b0dde 70%,#8208c9 78%,#8107bd 86%,#8007b3 93%,#7f07ae 100%)"></i>
<i style="left:315px;width:1px;background:linear-gradient(#3026fe 0%,#2f26fe 10%,#2d27fe 20%,#2b27ff 27%,#2a27ff 33%,#3724fd 40%,#4420fa 47%,#4f1df8 52%,#5b19f4 57%,#6416f1 63%,#7610ea 70%,#7e0ad5 78%,#7f0ad4 86%,#7e0bd6 93%,#7d0bd8 100%)"></i>
<i style="left:316px;width:1px;background:linear-gradient(#2e26fe 0%,#2c27fe 10%,#2c27fe 20%,#2a27ff 27%,#2828ff 33%,#3b23fc 40%,#4a1ef9 47%,#511cf8 52%,#5b19f4 57%,#6217f2 63%,#7411eb 70%,#7f0ad5 78%,#8009d1 86%,#8109ce 93%,#8208cc 100%)"></i>
<i style="left:317px;width:1px;background:linear-gradient(#3225fd 0%,#3325fd 10%,#3524fd 20%,#3325fd 27%,#3624fd 33%,#4420fa 40%,#4b1ef9 47%,#4d1df9 52%,#541bf7 57%,#5d18f4 63%,#6e13ed 70%,#7e0bd6 78%,#8109cf 86%,#8208c8 93%,#8208c7 100%)"></i>
<i style="left:318px;width:1px;background:linear-gradient(#3b23fc 0%,#3624fd 10%,#3125fd 20%,#2f26fe 27%,#2c27fe 33%,#3823fc 40%,#461ffa 47%,#4a1ef9 52%,#4c1ef9 57%,#581af6 63%,#6914ef 70%,#7a0ee1 78%,#7f0ad4 86%,#8208ca 93%,#8208cd 100%)"></i>
<i style="left:319px;width:1px;background:linear-gradient(#3d22fb 0%,#3c22fc 10%,#3f21fb 20%,#3e22fb 27%,#3923fc 33%,#3f21fb 40%,#481ffa 47%,#481ffa 52%,#4b1ef9 57%,#471ffa 63%,#581af6 70%,#6b14ee 78%,#7a0de1 86%,#8009d1 93%,#8109ce 100%)"></i>
<i style="left:320px;width:1px;background:linear-gradient(#2828ff 0%,#2928ff 10%,#2b27ff 20%,#2b27ff 27%,#2928ff 33%,#3026fe 40%,#3325fd 47%,#3425fd 52%,#3125fe 57%,#2f26fe 63%,#3824fc 70%,#481ffa 78%,#6715f0 86%,#7b0ddf 93%,#7b0dde 100%)"></i>
<i style="left:321px;width:1px;background:linear-gradient(#2d26fe 0%,#2e26fe 10%,#3026fe 20%,#2c27fe 27%,#2729ff 33%,#232dff 40%,#222eff 47%,#1f31ff 52%,#2030ff 57%,#1e32ff 63%,#252bff 70%,#3425fd 78%,#5f18f3 86%,#790ee2 93%,#790ee3 100%)"></i>
<i style="left:322px;width:1px;background:linear-gradient(#212fff 0%,#232dff 10%,#212fff 20%,#1d33ff 27%,#1b35ff 33%,#1937ff 40%,#1838ff 47%,#1646ff 52%,#144dff 57%,#115eff 63%,#144cff 70%,#173dff 78%,#3524fd 86%,#591af5 93%,#5b19f5 100%)"></i>
<i style="left:323px;width:1px;background:linear-gradient(#1641ff 0%,#173fff 10%,#173cff 20%,#173cff 27%,#1643ff 33%,#1937ff 40%,#1643ff 47%,#1642ff 52%,#1641ff 57%,#1641ff 63%,#1641ff 70%,#252bff 78%,#3d22fc 86%,#4e1df9 93%,#3d22fb 100%)"></i>
<i style="left:324px;width:1px;background:linear-gradient(#1839ff 0%,#1d33ff 10%,#212fff 20%,#1f31ff 27%,#1e32ff 33%,#173cff 40%,#154aff 47%,#1355ff 52%,#1355ff 57%,#144fff 63%,#1642ff 70%,#173dff 78%,#3b23fc 86%,#6316f1 93%,#6017f2 100%)"></i>
<i style="left:325px;width:1px;background:linear-gradient(#144eff 0%,#144fff 10%,#1256ff 20%,#1353ff 27%,#154bff 33%,#144cff 40%,#125aff 47%,#1068ff 52%,#1080ff 57%,#1090ff 63%,#1078ff 70%,#1067ff 78%,#1a36ff 86%,#3026fe 93%,#2b27fe 100%)"></i>
<i style="left:326px;width:1px;background:linear-gradient(#1063ff 0%,#144fff 10%,#173bff 20%,#183aff 27%,#173cff 33%,#1354ff 40%,#1062ff 47%,#1085ff 52%,#108dff 57%,#109eff 63%,#1089ff 70%,#1079ff 78%,#1257ff 86%,#1645ff 93%,#1451ff 100%)"></i>
<i style="left:327px;width:1px;background:linear-gradient(#116cf2 0%,#1167ed 10%,#116be8 20%,#1070df 27%,#1579dc 33%,#2084d7 40%,#2b9ad4 47%,#33a2d4 52%,#39bcd4 57%,#39bbd4 63%,#39b2d4 70%,#39add4 78%,#399dd4 86%,#3982d4 93%,#398ad4 100%)"></i>
<i style="left:328px;width:1px;background:linear-gradient(#04d7c1 0%,#04dbac 10%,#04de96 20%,#04e46a 27%,#23e15e 33%,#59e848 40%,#8aee38 47%,#aff437 52%,#c8e935 57%,#c7b932 63%,#c7ae34 70%,#c99e36 78%,#c98f37 86%,#ca8137 93%,#c87735 100%)"></i>
<i style="left:329px;width:1px;background:linear-gradient(#02e3b8 0%,#02e69f 10%,#02e986 20%,#02ef54 27%,#25f046 33%,#64f42d 40%,#9cf61b 47%,#c7fa1a 52%,#e5eb19 57%,#e4b114 63%,#e4a617 70%,#e49619 78%,#e5861a 86%,#e6761a 93%,#e6671a 100%)"></i>
<i style="left:330px;width:1px;background:linear-gradient(#0f7aeb 0%,#0d84e3 10%,#0c92dc 20%,#0ca7ce 27%,#16b1ca 33%,#28c1c2 40%,#38d3bd 47%,#3de6b3 52%,#42eda6 57%,#42e080 63%,#42dc8b 70%,#42d4a6 78%,#45c9b0 86%,#48bbb6 93%,#48b9b4 100%)"></i>
<i style="left:331px;width:1px;background:linear-gradient(#107ffe 0%,#108afd 10%,#1092fc 20%,#1094fb 27%,#109efb 33%,#12a4fb 40%,#13b9fa 47%,#0adeed 52%,#05efc7 57%,#05f2a5 63%,#05f0b4 70%,#05ecd1 78%,#0dd7ee 86%,#14c2fa 93%,#14c2fa 100%)"></i>
<i style="left:332px;width:1px;background:linear-gradient(#1a36ff 0%,#173bff 10%,#183aff 20%,#1546ff 27%,#1641ff 33%,#1353ff 40%,#1160ff 47%,#108bff 52%,#10a5ff 57%,#10c2ff 63%,#10c3ff 70%,#10beff 78%,#1099ff 86%,#106fff 93%,#1075ff 100%)"></i>
<i style="left:333px;width:1px;background:linear-gradient(#222eff 0%,#1c34ff 10%,#1937ff 20%,#1937ff 27%,#1b35ff 33%,#1642ff 40%,#1257ff 47%,#1074ff 52%,#109bff 57%,#10c3ff 63%,#10b9ff 70%,#10b0ff 78%,#1083ff 86%,#1259ff 93%,#1259ff 100%)"></i>
<i style="left:334px;width:1px;background:linear-gradient(#173eff 0%,#1740ff 10%,#144cff 20%,#154aff 27%,#1547ff 33%,#1548ff 40%,#1160ff 47%,#106fff 52%,#1090ff 57%,#0ec8fd 63%,#0dcafb 70%,#0ccdfa 78%,#1099ff 86%,#1063ff 93%,#144fff 100%)"></i>
<i style="left:335px;width:1px;background:linear-gradient(#242cff 0%,#2729ff 10%,#2030ff 20%,#252bff 27%,#2b27fe 33%,#2a27ff 40%,#222eff 47%,#1b35ff 52%,#154aff 57%,#106fff 63%,#106cff 70%,#1084ff 78%,#144cff 86%,#212fff 93%,#2928ff 100%)"></i>
<i style="left:336px;width:1px;background:linear-gradient(#173bff 0%,#1740ff 10%,#173fff 20%,#1b35ff 27%,#1c34ff 33%,#154bff 40%,#1353ff 47%,#1074ff 52%,#108cff 57%,#10b5ff 63%,#10adff 70%,#10acff 78%,#108bff 86%,#1080ff 93%,#1082ff 100%)"></i>
<i style="left:337px;width:1px;background:linear-gradient(#144fff 0%,#1063ff 10%,#1069ff 20%,#1062ff 27%,#115fff 33%,#1077ff 40%,#107cff 47%,#10a2ff 52%,#0ec9fc 57%,#07daf2 63%,#04e1ee 70%,#01e9ea 78%,#06ddf1 86%,#0bcff8 93%,#09d5f5 100%)"></i>
<i style="left:338px;width:1px;background:linear-gradient(#173eff 0%,#1546ff 10%,#1642ff 20%,#1740ff 27%,#1643ff 33%,#1066ff 40%,#107eff 47%,#10a6ff 52%,#0fc8fd 57%,#03e5ec 63%,#09d6f5 70%,#06dcf1 78%,#06ddf1 86%,#09d5f5 93%,#0bcff8 100%)"></i>
<i style="left:339px;width:1px;background:linear-gradient(#252bff 0%,#1839ff 10%,#1645ff 20%,#1356ff 27%,#1352ff 33%,#1259ff 40%,#125bff 47%,#1074ff 52%,#108aff 57%,#10abff 63%,#0fc7fd 70%,#08d8f3 78%,#0ecafb 86%,#10b0fd 93%,#109bfd 100%)"></i>
<i style="left:340px;width:1px;background:linear-gradient(#144dff 0%,#1258ff 10%,#1063ff 20%,#1077ff 27%,#106eff 33%,#108fff 40%,#109dff 47%,#10bcff 52%,#0bd0f8 57%,#01eae9 63%,#01eae5 70%,#03e7df 78%,#04e4db 86%,#04e4d6 93%,#03e9ce 100%)"></i>
<i style="left:341px;width:1px;background:linear-gradient(#115dff 0%,#115dff 10%,#125aff 20%,#1259ff 27%,#1160ff 33%,#108cff 40%,#109fff 47%,#10bdff 52%,#0ad4f6 57%,#00ece8 63%,#00eed9 70%,#00f0c5 78%,#00f2b3 86%,#00f4a3 93%,#00f694 100%)"></i>
<i style="left:342px;width:1px;background:linear-gradient(#3624fd 0%,#2c27fe 10%,#262aff 20%,#1d33ff 27%,#1548ff 33%,#1073ff 40%,#1097ff 47%,#10b9ff 52%,#09d6f4 57%,#00eed8 63%,#00edde 70%,#00edd9 78%,#00eed4 86%,#01edd0 93%,#03e9ce 100%)"></i>
<i style="left:343px;width:1px;background:linear-gradient(#3425fd 0%,#2d27fe 10%,#2d27fe 20%,#2928ff 27%,#1f31ff 33%,#173fff 40%,#1355ff 47%,#1082ff 52%,#10a5ff 57%,#0dcdfa 63%,#09d4f6 70%,#0bd0f7 78%,#10c5fe 86%,#0fc8fb 93%,#0fc7fc 100%)"></i>
<i style="left:344px;width:1px;background:linear-gradient(#1e32ff 0%,#212fff 10%,#3225fd 20%,#3026fe 27%,#1f31ff 33%,#1937ff 40%,#144dff 47%,#1079ff 52%,#108cff 57%,#10acff 63%,#10a4ff 70%,#10acff 78%,#10bfff 86%,#07daf2 93%,#01e9ea 100%)"></i>
<i style="left:345px;width:1px;background:linear-gradient(#4520fa 0%,#4520fa 10%,#4221fb 20%,#2729ff 27%,#1c34ff 33%,#1644ff 40%,#1161ff 47%,#1082ff 52%,#10a0ff 57%,#0ecafc 63%,#0fc7fd 70%,#0fc6fe 78%,#0dcbfb 86%,#0ec9fc 93%,#0ec8fd 100%)"></i>
<i style="left:346px;width:1px;background:linear-gradient(#2f26fe 0%,#232dff 10%,#1b35ff 20%,#1257ff 27%,#108eff 33%,#10a1ff 40%,#10b7ff 47%,#0ad3f6 52%,#02e6ec 57%,#00ece8 63%,#00f1be 70%,#00efca 78%,#00eed8 86%,#00ede0 93%,#00efcd 100%)"></i>
<i style="left:347px;width:1px;background:linear-gradient(#252bff 0%,#2b27ff 10%,#2928ff 20%,#1f31ff 27%,#1644ff 33%,#1450ff 40%,#1069ff 47%,#107dff 52%,#10a0ff 57%,#10bcff 63%,#10c4ff 70%,#0fc7fd 78%,#0ccdfa 86%,#0ccef9 93%,#0ad2f7 100%)"></i>
<i style="left:348px;width:1px;background:linear-gradient(#551bf7 0%,#5e18f3 10%,#561bf6 20%,#3c22fc 27%,#2a28ff 33%,#1c34ff 40%,#144fff 47%,#1062ff 52%,#107eff 57%,#10a3ff 63%,#1095ff 70%,#10a8ff 78%,#10b1ff 86%,#10beff 93%,#0dccfa 100%)"></i>
<i style="left:349px;width:1px;background:linear-gradient(#7012ec 0%,#6914ef 10%,#5c19f4 20%,#3624fd 27%,#1b35ff 33%,#115fff 40%,#1088ff 47%,#10a3ff 52%,#10b8ff 57%,#06ddf1 63%,#08d8f3 70%,#08d8f3 78%,#07dbf2 86%,#05e0ef 93%,#09d7f4 100%)"></i>
<i style="left:350px;width:1px;background:linear-gradient(#571af6 0%,#481ffa 10%,#4320fa 20%,#242cff 27%,#1b35ff 33%,#1356ff 40%,#1160ff 47%,#107bff 52%,#108eff 57%,#10beff 63%,#10aeff 70%,#10b1ff 78%,#10b2ff 86%,#10b6ff 93%,#10aaff 100%)"></i>
<i style="left:351px;width:1px;background:linear-gradient(#3824fc 0%,#3823fc 10%,#4121fb 20%,#2b27fe 27%,#1f31ff 33%,#1548ff 40%,#1062ff 47%,#107fff 52%,#1098ff 57%,#10b1ff 63%,#10a1ff 70%,#10a5ff 78%,#10afff 86%,#10b6ff 93%,#0fc7fd 100%)"></i>
<i style="left:352px;width:1px;background:linear-gradient(#5d18f4 0%,#591af5 10%,#4f1df8 20%,#2c27fe 27%,#1b35ff 33%,#1547ff 40%,#1352ff 47%,#1073ff 52%,#1097ff 57%,#10baff 63%,#10a7ff 70%,#0dccfa 78%,#0dcafb 86%,#0ec9fc 93%,#0dcbfb 100%)"></i>
<i style="left:353px;width:1px;background:linear-gradient(#4c1ef9 0%,#511cf8 10%,#4e1df9 20%,#3125fe 27%,#1a36ff 33%,#144eff 40%,#106bff 47%,#108eff 52%,#10baff 57%,#09d5f5 63%,#0bd0f8 70%,#08d9f3 78%,#07dcf1 86%,#09d6f5 93%,#0ad3f6 100%)"></i>
<i style="left:354px;width:1px;background:linear-gradient(#8009d0 0%,#7b0dde 10%,#770fe8 20%,#4d1df9 27%,#3a23fc 33%,#232dff 40%,#1641ff 47%,#1161ff 52%,#1083ff 57%,#10b7ff 63%,#10aeff 70%,#10adff 78%,#10b3ff 86%,#10b6ff 93%,#10a6ff 100%)"></i>
<i style="left:355px;width:1px;background:linear-gradient(#790ee2 0%,#7610ea 10%,#6c13ee 20%,#4e1df9 27%,#3125fd 33%,#1937ff 40%,#1353ff 47%,#1077ff 52%,#109dff 57%,#10bbff 63%,#10bfff 70%,#0ec8fd 78%,#10c2ff 86%,#10c2ff 93%,#10bbff 100%)"></i>
<i style="left:356px;width:1px;background:linear-gradient(#7411eb 0%,#6914ef 10%,#571af6 20%,#2f27fd 27%,#1b3bff 33%,#1360ff 40%,#107aff 47%,#0d8dfb 52%,#0ca3f4 57%,#0cc6e6 63%,#0cc4e2 70%,#0ad6d8 78%,#08dbd1 86%,#09decc 93%,#0ddbcc 100%)"></i>
<i style="left:357px;width:1px;background:linear-gradient(#7710e8 0%,#6e13ed 10%,#521cf8 20%,#242dff 27%,#1358ff 33%,#109bff 40%,#0ec4fd 47%,#05dcf0 52%,#01ecd0 57%,#01f498 63%,#00f685 70%,#00fa6a 78%,#00fd53 86%,#05fe45 93%,#13fe3f 100%)"></i>
<i style="left:358px;width:1px;background:linear-gradient(#7211ec 0%,#5f18f3 10%,#511cf8 20%,#272aff 27%,#1649ff 33%,#117bff 40%,#0f9dfe 47%,#0abcf7 52%,#08d5e5 57%,#03e9c1 63%,#02ecb5 70%,#02efa7 78%,#03ed9c 86%,#07eb95 93%,#0fe994 100%)"></i>
<i style="left:359px;width:1px;background:linear-gradient(#8009d0 0%,#7d0bd9 10%,#6d13ed 20%,#4520fa 27%,#232eff 33%,#1646ff 40%,#1068ff 47%,#107cfe 52%,#0f9dfd 57%,#0fc4fb 63%,#0dcef6 70%,#0bd1f3 78%,#0ec7f8 86%,#10b3f8 93%,#10a1f8 100%)"></i>
<i style="left:360px;width:1px;background:linear-gradient(#4b1ef9 0%,#4520fa 10%,#3624fd 20%,#1d33ff 27%,#1351ff 33%,#107eff 40%,#10afff 47%,#10c4ff 52%,#09d6f4 57%,#02e7eb 63%,#00ece8 70%,#02e7eb 78%,#00ede3 86%,#00eddb 93%,#00eed6 100%)"></i>
<i style="left:361px;width:1px;background:linear-gradient(#6316f1 0%,#561bf7 10%,#561bf6 20%,#4520fa 27%,#2928ff 33%,#1547ff 40%,#125cff 47%,#1095ff 52%,#0fc7fd 57%,#05dfef 63%,#04e2ee 70%,#00eed8 78%,#01eae9 86%,#03e5ec 93%,#02e7eb 100%)"></i>
<i style="left:362px;width:1px;background:linear-gradient(#3724fc 0%,#3325fd 10%,#2f26fe 20%,#232dff 27%,#1838ff 33%,#1640ff 40%,#1061ff 47%,#1073ff 52%,#109cff 57%,#10beff 63%,#0fc7fd 70%,#0ad2f7 78%,#0ad2f7 86%,#0ec9fc 93%,#0fc7fd 100%)"></i>
<i style="left:363px;width:1px;background:linear-gradient(#5f18f3 0%,#5a19f5 10%,#4c1ef8 20%,#3427fd 27%,#233aff 33%,#1654ff 40%,#116cfd 47%,#0e7af7 52%,#0c98e9 57%,#0cb5d9 63%,#0cb3d5 70%,#0fc6d2 78%,#13d1d0 86%,#17d2cf 93%,#17dac9 100%)"></i>
<i style="left:364px;width:1px;background:linear-gradient(#4221fb 0%,#3e22fb 10%,#4420fa 20%,#1937ff 27%,#1175ff 33%,#10a7ff 40%,#09d1f5 47%,#01e9dc 52%,#01f0a3 57%,#01f963 63%,#01fc4f 70%,#0dfe42 78%,#1efe3b 86%,#2bfe36 93%,#3afe2f 100%)"></i>
<i style="left:365px;width:1px;background:linear-gradient(#3c22fc 0%,#3026fe 10%,#3823fc 20%,#1d33ff 27%,#135cff 33%,#108dff 40%,#0cb4fa 47%,#08d7ec 52%,#06e0cb 57%,#02f0a2 63%,#02f098 70%,#07f688 78%,#10f68a 86%,#17f780 93%,#1ff777 100%)"></i>
<i style="left:366px;width:1px;background:linear-gradient(#571af6 0%,#6117f2 10%,#5f17f3 20%,#4a1ff9 27%,#2a2aff 33%,#1c38ff 40%,#125fff 47%,#0f74fe 52%,#0f8bfb 57%,#0facf9 63%,#0fbaf8 70%,#10b7f8 78%,#11bdf8 86%,#11bdf7 93%,#12c0f7 100%)"></i>
<i style="left:367px;width:1px;background:linear-gradient(#6217f2 0%,#6017f3 10%,#551bf7 20%,#491ffa 27%,#3424fd 33%,#222eff 40%,#1643ff 47%,#1257ff 52%,#107dff 57%,#10a0ff 63%,#10b8ff 70%,#0fc6fe 78%,#0dccfb 86%,#0bd2f7 93%,#08d9f3 100%)"></i>
<i style="left:368px;width:1px;background:linear-gradient(#7f0ad3 0%,#780ee4 10%,#6e13ed 20%,#531cf8 27%,#3e22fb 33%,#242cff 40%,#1547ff 47%,#1062ff 52%,#1080ff 57%,#10a6ff 63%,#10a8ff 70%,#10a0ff 78%,#10a8ff 86%,#10b3ff 93%,#10bcff 100%)"></i>
<i style="left:369px;width:1px;background:linear-gradient(#6d13ec 0%,#5c1af2 10%,#4d20f8 20%,#312bfd 27%,#2435ff 33%,#1455ff 40%,#1169fd 47%,#0e7ff4 52%,#1093eb 57%,#19c3e7 63%,#1bcbe5 70%,#1ad8dc 78%,#1bdadb 86%,#1cdbda 93%,#20d4df 100%)"></i>
<i style="left:370px;width:1px;background:linear-gradient(#2d2bfd 0%,#2630fe 10%,#253bfd 20%,#1e52fe 27%,#1c72fe 33%,#1492ff 40%,#0bacf5 47%,#05c7b9 52%,#0fdd79 57%,#49eb61 63%,#5aee5a 70%,#6ef54d 78%,#7bf24e 86%,#86f04f 93%,#92ee50 100%)"></i>
<i style="left:371px;width:1px;background:linear-gradient(#232fff 0%,#1c36ff 10%,#1944ff 20%,#1464ff 27%,#138eff 33%,#11b5ff 40%,#06d4f1 47%,#01eb9f 52%,#0ef748 57%,#5efa28 63%,#76fb1e 70%,#95fc11 78%,#a5fc10 86%,#b3fd10 93%,#c2fd10 100%)"></i>
<i style="left:372px;width:1px;background:linear-gradient(#4621f9 0%,#4323fa 10%,#4028fa 20%,#3733fb 27%,#2e42fd 33%,#1d55ff 40%,#116ffb 47%,#0c88e3 52%,#0f9fcb 57%,#26bcc1 63%,#2dc4bf 70%,#36cabb 78%,#3bcebb 86%,#3fd4bb 93%,#43d5ba 100%)"></i>
<i style="left:373px;width:1px;background:linear-gradient(#5d18f3 0%,#5f18f2 10%,#6118f2 20%,#5d19f3 27%,#561cf6 33%,#3c25fb 40%,#2231ff 47%,#193afd 52%,#154efc 57%,#1263fb 63%,#126afb 70%,#126efb 78%,#1375fb 86%,#1376fb 93%,#1379fb 100%)"></i>
<i style="left:374px;width:1px;background:linear-gradient(#6a14ef 0%,#6c13ee 10%,#6d13ee 20%,#6914ef 27%,#6316f2 33%,#491ffa 40%,#2e26fe 47%,#232dff 52%,#1937ff 57%,#1548ff 63%,#1354ff 70%,#115cff 78%,#115cff 86%,#125bff 93%,#125cff 100%)"></i>
<i style="left:375px;width:1px;background:linear-gradient(#7610e9 0%,#7311eb 10%,#6f12ed 20%,#6815f0 27%,#6316f1 33%,#491ffa 40%,#2d27fe 47%,#222eff 52%,#1937ff 57%,#1644ff 63%,#1547ff 70%,#144dff 78%,#144cff 86%,#154bff 93%,#144dff 100%)"></i>
<i style="left:376px;width:1px;background:linear-gradient(#6e13ed 0%,#6e13ed 10%,#6e13ed 20%,#6b14ee 27%,#6615f0 33%,#4a1ef9 40%,#2b27ff 47%,#242cff 52%,#1d33ff 57%,#173dff 63%,#1643ff 70%,#1646ff 78%,#1546ff 86%,#1644ff 93%,#1644ff 100%)"></i>
<i style="left:377px;width:1px;background:linear-gradient(#7411eb 0%,#7510ea 10%,#7610ea 20%,#7610ea 27%,#7012ec 33%,#541bf7 40%,#3724fc 47%,#3026fe 52%,#2729ff 57%,#2030ff 63%,#1d33ff 70%,#1b35ff 78%,#1d33ff 86%,#1f31ff 93%,#222eff 100%)"></i>
<i style="left:378px;width:1px;background:linear-gradient(#7c0cdb 0%,#7b0dde 10%,#7b0ddf 20%,#780ee4 27%,#7610e9 33%,#561bf7 40%,#3a23fc 47%,#2b27fe 52%,#232dff 57%,#1b35ff 63%,#1937ff 70%,#183aff 78%,#1839ff 86%,#1838ff 93%,#183aff 100%)"></i>
<i style="left:379px;width:1px;background:linear-gradient(#7112ec 0%,#6f12ed 10%,#7012ec 20%,#7012ed 27%,#7012ec 33%,#551bf7 40%,#3524fd 47%,#2b27fe 52%,#232dff 57%,#1c34ff 63%,#1839ff 70%,#1838ff 78%,#173bff 86%,#173fff 93%,#1642ff 100%)"></i>
<i style="left:380px;width:1px;background:linear-gradient(#780ee4 0%,#780ee4 10%,#780fe5 20%,#7610e9 27%,#7112ec 33%,#4f1df8 40%,#3524fd 47%,#2b27ff 52%,#242cff 57%,#1c34ff 63%,#1937ff 70%,#173fff 78%,#1740ff 86%,#1740ff 93%,#1740ff 100%)"></i>
<i style="left:381px;width:1px;background:linear-gradient(#790ee1 0%,#780ee4 10%,#770fe6 20%,#7411eb 27%,#7012ec 33%,#4f1df9 40%,#3624fd 47%,#2e26fe 52%,#252bff 57%,#1d33ff 63%,#2030ff 70%,#1c34ff 78%,#1a36ff 86%,#1a36ff 93%,#1c34ff 100%)"></i>
<i style="left:382px;width:1px;background:linear-gradient(#790ee3 0%,#790ee2 10%,#7a0de0 20%,#7a0ee1 27%,#790ee3 33%,#5f18f3 40%,#4320fb 47%,#3724fd 52%,#2b27ff 57%,#2030ff 63%,#2030ff 70%,#1e32ff 78%,#1c34ff 86%,#1b35ff 93%,#1a36ff 100%)"></i>
<i style="left:383px;width:1px;background:linear-gradient(#780fe6 0%,#790ee3 10%,#790ee3 20%,#780fe6 27%,#7610e9 33%,#5c19f4 40%,#3c22fc 47%,#3524fd 52%,#2928ff 57%,#2030ff 63%,#1d33ff 70%,#1c34ff 78%,#1a36ff 86%,#1b35ff 93%,#1c34ff 100%)"></i>
<i style="left:384px;width:1px;background:linear-gradient(#7311eb 0%,#7012ec 10%,#7112ec 20%,#6d13ee 27%,#6c13ee 33%,#541bf7 40%,#3b22fc 47%,#3125fe 52%,#2a28ff 57%,#222eff 63%,#1d33ff 70%,#1a36ff 78%,#1a36ff 86%,#1a36ff 93%,#1c34ff 100%)"></i>
<i style="left:385px;width:1px;background:linear-gradient(#7311eb 0%,#7112ec 10%,#7311eb 20%,#7411eb 27%,#7311eb 33%,#571af6 40%,#4021fb 47%,#3624fd 52%,#2a27ff 57%,#232dff 63%,#1f31ff 70%,#1937ff 78%,#173cff 86%,#173fff 93%,#173fff 100%)"></i>
<i style="left:386px;width:1px;background:linear-gradient(#6b14ee 0%,#6715f0 10%,#6715f0 20%,#6416f1 27%,#6416f1 33%,#4b1ef9 40%,#3a23fc 47%,#3225fd 52%,#2a27ff 57%,#232dff 63%,#1f31ff 70%,#1937ff 78%,#1838ff 86%,#1839ff 93%,#1838ff 100%)"></i>
<i style="left:387px;width:1px;background:linear-gradient(#7610ea 0%,#7610ea 10%,#770fe8 20%,#7710e9 27%,#7112ec 33%,#5b19f4 40%,#461ffa 47%,#3d22fb 52%,#3425fd 57%,#2928ff 63%,#2729ff 70%,#222eff 78%,#1e32ff 86%,#1b35ff 93%,#1d33ff 100%)"></i>
<i style="left:388px;width:1px;background:linear-gradient(#7710e8 0%,#780fe6 10%,#790ee3 20%,#790ee2 27%,#7710e8 33%,#6017f2 40%,#491ef9 47%,#4221fb 52%,#3b23fc 57%,#3225fd 63%,#3126fe 70%,#2d27fe 78%,#2828ff 86%,#252bff 93%,#262aff 100%)"></i>
<i style="left:389px;width:1px;background:linear-gradient(#7112ec 0%,#6f12ed 10%,#6d13ed 20%,#6815ef 27%,#6217f2 33%,#4f1df8 40%,#4420fa 47%,#3b22fc 52%,#3425fd 57%,#3325fd 63%,#3026fe 70%,#2828ff 78%,#262aff 86%,#242cff 93%,#232dff 100%)"></i>
<i style="left:390px;width:1px;background:linear-gradient(#7b0ddd 0%,#7c0cdc 10%,#7d0bd8 20%,#7d0bd8 27%,#7b0cdd 33%,#780fe6 40%,#6c13ee 47%,#6316f1 52%,#5c19f4 57%,#531cf8 63%,#4f1df8 70%,#4f1df8 78%,#4620fa 86%,#3d22fb 93%,#3c22fc 100%)"></i>
<i style="left:391px;width:1px;background:linear-gradient(#790ee2 0%,#780fe5 10%,#780fe6 20%,#7411eb 27%,#7012ec 33%,#6615f0 40%,#5d18f4 47%,#581af6 52%,#571af6 57%,#511cf8 63%,#501df8 70%,#4e1df9 78%,#471ffa 86%,#4021fb 93%,#4121fb 100%)"></i>
<i style="left:392px;width:1px;background:linear-gradient(#7d0bd9 0%,#7c0cdc 10%,#7b0cdc 20%,#7b0dde 27%,#790ee2 33%,#7211ec 40%,#6615f0 47%,#6117f2 52%,#5a19f5 57%,#511cf8 63%,#4f1df8 70%,#551bf7 78%,#4e1df9 86%,#491ef9 93%,#4d1df9 100%)"></i>
<i style="left:393px;width:1px;background:linear-gradient(#770fe8 0%,#780fe6 10%,#780ee4 20%,#790ee4 27%,#780fe6 33%,#6a14ef 40%,#6217f2 47%,#5d18f4 52%,#551bf7 57%,#4d1ef9 63%,#541bf7 70%,#511cf8 78%,#4a1ef9 86%,#461ffa 93%,#481ffa 100%)"></i>
<i style="left:394px;width:1px;background:linear-gradient(#7b0ddd 0%,#7b0ddf 10%,#7a0de0 20%,#790ee4 27%,#790ee3 33%,#7112ec 40%,#6914ef 47%,#6615f0 52%,#6416f1 57%,#5c19f4 63%,#5f18f3 70%,#5f18f3 78%,#5a19f5 86%,#531cf7 93%,#571af6 100%)"></i>
<i style="left:395px;width:1px;background:linear-gradient(#7d0cd9 0%,#7b0dde 10%,#7c0cdc 20%,#7b0cdd 27%,#7b0dde 33%,#7710e8 40%,#7311eb 47%,#6e13ed 52%,#6715f0 57%,#5f18f3 63%,#6416f1 70%,#6715f0 78%,#5e18f3 86%,#581af6 93%,#581af6 100%)"></i>
<i style="left:396px;width:1px;background:linear-gradient(#7411eb 0%,#7411eb 10%,#7610ea 20%,#7510ea 27%,#7112ec 33%,#6316f1 40%,#5a19f5 47%,#591af5 52%,#551bf7 57%,#531cf8 63%,#591af5 70%,#5c19f4 78%,#541bf7 86%,#4e1df9 93%,#4d1df9 100%)"></i>
<i style="left:397px;width:1px;background:linear-gradient(#770fe7 0%,#780ee4 10%,#780fe5 20%,#770fe7 27%,#7510ea 33%,#6a14ef 40%,#5c19f4 47%,#571af6 52%,#531cf8 57%,#511cf8 63%,#521cf8 70%,#541bf7 78%,#4c1ef9 86%,#4121fb 93%,#3d22fb 100%)"></i>
<i style="left:398px;width:1px;background:linear-gradient(#790ee3 0%,#7a0ee1 10%,#7a0de0 20%,#7a0de0 27%,#790ee2 33%,#7311eb 40%,#6c13ee 47%,#6715f0 52%,#6316f2 57%,#6017f3 63%,#6117f2 70%,#5d18f4 78%,#591af5 86%,#551bf7 93%,#561bf7 100%)"></i>
<i style="left:399px;width:1px;background:linear-gradient(#7a0ee1 0%,#780fe5 10%,#770fe8 20%,#7311eb 27%,#7012ec 33%,#6416f1 40%,#5c19f4 47%,#591af5 52%,#571af6 57%,#521cf8 63%,#511cf8 70%,#511cf8 78%,#4e1df9 86%,#4a1ef9 93%,#4f1df8 100%)"></i>
<i style="left:400px;width:1px;background:linear-gradient(#780fe6 0%,#7710e8 10%,#7411eb 20%,#6f12ed 27%,#6e13ed 33%,#6117f2 40%,#581af6 47%,#591af5 52%,#571af6 57%,#541bf7 63%,#551bf7 70%,#531cf8 78%,#471ffa 86%,#3c22fc 93%,#3724fd 100%)"></i>
<i style="left:401px;width:1px;background:linear-gradient(#790ee3 0%,#7a0de1 10%,#7a0ee1 20%,#780ee4 27%,#770fe7 33%,#7311eb 40%,#6615f0 47%,#6117f2 52%,#5e18f3 57%,#5b19f4 63%,#5a19f5 70%,#531cf8 78%,#4d1df9 86%,#4520fa 93%,#4320fb 100%)"></i>
<i style="left:402px;width:1px;background:linear-gradient(#780fe6 0%,#780fe6 10%,#790ee2 20%,#790ee3 27%,#7710e8 33%,#6b14ee 40%,#6516f0 47%,#6316f1 52%,#6117f2 57%,#6217f2 63%,#5f18f3 70%,#561bf6 78%,#4b1ef9 86%,#4221fb 93%,#3e22fb 100%)"></i>
<i style="left:403px;width:1px;background:linear-gradient(#7311eb 0%,#7510ea 10%,#7710e8 20%,#770fe8 27%,#7610ea 33%,#6e13ed 40%,#6516f0 47%,#6117f2 52%,#5f18f3 57%,#591af5 63%,#511cf8 70%,#4c1ef9 78%,#471ffa 86%,#3f21fb 93%,#3f21fb 100%)"></i>
<i style="left:404px;width:1px;background:linear-gradient(#6d13ed 0%,#6e13ed 10%,#6e13ed 20%,#6d13ed 27%,#6914ef 33%,#5c19f4 40%,#4f1df8 47%,#4d1df9 52%,#4a1ef9 57%,#4520fa 63%,#4121fb 70%,#3f21fb 78%,#3823fc 86%,#2f26fe 93%,#2e26fe 100%)"></i>
<i style="left:405px;width:1px;background:linear-gradient(#780fe6 0%,#780ee4 10%,#780fe5 20%,#770fe7 27%,#7610e9 33%,#7112ec 40%,#6715f0 47%,#6715f0 52%,#6217f2 57%,#5a19f5 63%,#511cf8 70%,#4a1ef9 78%,#3f21fb 86%,#3923fc 93%,#3b23fc 100%)"></i>
<i style="left:406px;width:1px;background:linear-gradient(#7211ec 0%,#7510eb 10%,#7610ea 20%,#7112ec 27%,#7012ec 33%,#6017f3 40%,#551bf7 47%,#511cf8 52%,#521cf8 57%,#4f1df8 63%,#4a1ef9 70%,#4121fb 78%,#3923fc 86%,#3125fe 93%,#2f26fe 100%)"></i>
<i style="left:407px;width:1px;background:linear-gradient(#7411eb 0%,#7710e8 10%,#770fe7 20%,#7610e9 27%,#7610ea 33%,#6b14ee 40%,#5b19f4 47%,#541bf7 52%,#501cf8 57%,#491ffa 63%,#4220fb 70%,#3c22fc 78%,#3724fd 86%,#2e26fe 93%,#2e26fe 100%)"></i>
<i style="left:408px;width:1px;background:linear-gradient(#7510ea 0%,#7510ea 10%,#7610ea 20%,#7211ec 27%,#7012ec 33%,#6815ef 40%,#5f18f3 47%,#571af6 52%,#531cf8 57%,#4b1ef9 63%,#4320fb 70%,#3624fd 78%,#3424fd 86%,#3125fe 93%,#3225fd 100%)"></i>
<i style="left:409px;width:1px;background:linear-gradient(#7112ec 0%,#7012ec 10%,#7510ea 20%,#7112ec 27%,#6f12ed 33%,#6715f0 40%,#6017f3 47%,#541bf7 52%,#501df8 57%,#4620fa 63%,#3d22fc 70%,#2d27fe 78%,#2e26fe 86%,#3026fe 93%,#3425fd 100%)"></i>
<i style="left:410px;width:1px;background:linear-gradient(#780fe5 0%,#790ee2 10%,#7a0de0 20%,#7a0ddf 27%,#790ee2 33%,#7610ea 40%,#6c13ee 47%,#6615f0 52%,#5c19f4 57%,#561bf6 63%,#4d1df9 70%,#3f21fb 78%,#4021fb 86%,#4221fb 93%,#4220fb 100%)"></i>
<i style="left:411px;width:1px;background:linear-gradient(#7c0cdb 0%,#7a0de0 10%,#780ee4 20%,#7510eb 27%,#7510eb 33%,#6316f2 40%,#561bf6 47%,#4e1df9 52%,#491ffa 57%,#4121fb 63%,#3a23fc 70%,#2928ff 78%,#2729ff 86%,#252bff 93%,#242cff 100%)"></i>
<i style="left:412px;width:1px;background:linear-gradient(#7710e9 0%,#7510ea 10%,#7211ec 20%,#6d13ed 27%,#6615f0 33%,#5b19f5 40%,#4f1df9 47%,#491ff9 52%,#4420fa 57%,#3d22fb 63%,#2e26fe 70%,#222eff 78%,#222eff 86%,#2030ff 93%,#2030ff 100%)"></i>
<i style="left:413px;width:1px;background:linear-gradient(#6217f2 0%,#6914ef 10%,#7012ec 20%,#6e13ed 27%,#6d13ed 33%,#5b19f4 40%,#481ffa 47%,#3f21fb 52%,#3d22fc 57%,#3225fd 63%,#2729ff 70%,#1e32ff 78%,#1c34ff 86%,#1a36ff 93%,#1a36ff 100%)"></i>
<i style="left:414px;width:1px;background:linear-gradient(#6b14ee 0%,#6b14ee 10%,#6a14ef 20%,#6516f1 27%,#5e18f3 33%,#4e1df9 40%,#3d22fc 47%,#3923fc 52%,#3125fe 57%,#2729ff 63%,#1f31ff 70%,#173eff 78%,#1642ff 86%,#1643ff 93%,#1643ff 100%)"></i>
<i style="left:415px;width:1px;background:linear-gradient(#5d1af3 0%,#571cf5 10%,#561cf6 20%,#4d21f8 27%,#4225fa 33%,#322afd 40%,#2530ff 47%,#2134fe 52%,#1c39fe 57%,#183dfc 63%,#154bfa 70%,#125df8 78%,#1265f8 86%,#126af8 93%,#1371f7 100%)"></i>
<i style="left:416px;width:1px;background:linear-gradient(#4824f9 0%,#4327fa 10%,#3f2bfa 20%,#3834fc 27%,#2d3ffd 33%,#2247ff 40%,#1a50fd 47%,#1656fc 52%,#135cf7 57%,#116aed 63%,#0f76e2 70%,#1188db 78%,#1690d9 86%,#1b99d7 93%,#1f9dd5 100%)"></i>
<i style="left:417px;width:1px;background:linear-gradient(#2736fd 0%,#233ffe 10%,#1f48fe 20%,#1a61ff 27%,#167aff 33%,#1388fe 40%,#0e96f9 47%,#0aa2f5 52%,#08ace7 57%,#07b7c8 63%,#07c8a5 70%,#12d590 78%,#23db89 86%,#31e183 93%,#3fe67d 100%)"></i>
<i style="left:418px;width:1px;background:linear-gradient(#1745ff 0%,#1553ff 10%,#1161ff 20%,#1188ff 27%,#10acff 33%,#0fc1fd 40%,#09d1f5 47%,#04ddee 52%,#01e7d7 57%,#01eea2 63%,#01f666 70%,#14fb41 78%,#30fc36 86%,#48fd2c 93%,#60fd22 100%)"></i>
<i style="left:419px;width:1px;background:linear-gradient(#1943ff 0%,#1650ff 10%,#135eff 20%,#1283ff 27%,#11a6ff 33%,#10bafd 40%,#09c9f5 47%,#05d6ef 52%,#02e0d9 57%,#02e7a7 63%,#02f06f 70%,#14f64c 78%,#2ff841 86%,#45f938 93%,#5bfa2f 100%)"></i>
<i style="left:420px;width:1px;background:linear-gradient(#3331fc 0%,#2d39fc 10%,#2841fd 20%,#2255fe 27%,#1c6aff 33%,#1877fe 40%,#1281fa 47%,#0e8cf7 52%,#0b96eb 57%,#0aa1d1 63%,#08acb4 70%,#12b6a2 78%,#20be9c 86%,#2cc697 93%,#37cb93 100%)"></i>
<i style="left:421px;width:1px;background:linear-gradient(#571df4 0%,#5320f5 10%,#5023f6 20%,#472bf9 27%,#4232fa 33%,#3d37fa 40%,#363afa 47%,#2f3efb 52%,#2a40f8 57%,#2145f2 63%,#1d4be9 70%,#1a50e4 78%,#1c55e2 86%,#1d5de1 93%,#2061e0 100%)"></i>
<i style="left:422px;width:1px;background:linear-gradient(#7212eb 0%,#6f13ec 10%,#6816ef 20%,#6219f1 27%,#5f1af2 33%,#5b1cf4 40%,#551ef6 47%,#571ef5 52%,#4f21f7 57%,#4424f8 63%,#4325f7 70%,#3e27f7 78%,#332af8 86%,#312bf9 93%,#2f2bf9 100%)"></i>
<i style="left:423px;width:1px;background:linear-gradient(#780fe6 0%,#770fe7 10%,#770fe7 20%,#7610ea 27%,#7411eb 33%,#7112ec 40%,#7112ec 47%,#6b14ee 52%,#6914ef 57%,#5f18f3 63%,#5b19f5 70%,#591af5 78%,#511cf8 86%,#4a1ef9 93%,#471ffa 100%)"></i>
<i style="left:424px;width:1px;background:linear-gradient(#8009d0 0%,#8009d1 10%,#8009d1 20%,#7f0ad3 27%,#7f0ad4 33%,#7e0bd7 40%,#7e0bd7 47%,#7c0cdb 52%,#7b0ddf 57%,#790ee2 63%,#7b0dde 70%,#7a0de0 78%,#7a0ee1 86%,#790ee2 93%,#7a0ee1 100%)"></i>
<i style="left:425px;width:1px;background:linear-gradient(#7e0bd7 0%,#7e0bd6 10%,#7e0bd6 20%,#7d0bd9 27%,#7c0cdc 33%,#7c0cdb 40%,#7b0ddd 47%,#7a0ee1 52%,#790ee1 57%,#790ee1 63%,#790ee2 70%,#780fe5 78%,#7610e9 86%,#7411eb 93%,#7211ec 100%)"></i>
<i style="left:426px;width:1px;background:linear-gradient(#7b0ddd 0%,#7c0cdb 10%,#7d0bd8 20%,#7d0bd7 27%,#800ad2 33%,#8009d1 40%,#800ad2 47%,#7d0bd8 52%,#7c0cdb 57%,#7a0de0 63%,#780fe5 70%,#780ee4 78%,#790ee3 86%,#7a0de1 93%,#7a0ddf 100%)"></i>
<i style="left:427px;width:1px;background:linear-gradient(#8208cc 0%,#8009d0 10%,#8009d1 20%,#7f0ad3 27%,#7f0ad3 33%,#7d0cd9 40%,#7e0ad5 47%,#7d0bd9 52%,#7c0cdb 57%,#7c0cdc 63%,#7d0bd8 70%,#7d0bd9 78%,#7c0cdb 86%,#7b0ddd 93%,#7b0dde 100%)"></i>
<i style="left:428px;width:1px;background:linear-gradient(#7c0cdb 0%,#7c0cdb 10%,#7c0cdc 20%,#7b0dde 27%,#7b0ddd 33%,#7b0ddd 40%,#7b0ddd 47%,#7a0de0 52%,#7b0ddd 57%,#7b0ddf 63%,#7b0ddf 70%,#7a0de0 78%,#790ee2 86%,#770fe6 93%,#780fe5 100%)"></i>
<i style="left:429px;width:1px;background:linear-gradient(#7a0ddf 0%,#7b0dde 10%,#7a0ddf 20%,#7a0de0 27%,#7a0de0 33%,#7a0de0 40%,#7a0de0 47%,#790ee2 52%,#780fe6 57%,#7610ea 63%,#7610e9 70%,#770fe7 78%,#7710e9 86%,#7710e8 93%,#770fe6 100%)"></i>
<i style="left:430px;width:1px;background:linear-gradient(#7c0cda 0%,#7e0bd6 10%,#7e0bd6 20%,#7f0ad4 27%,#7f0ad4 33%,#7e0bd5 40%,#7e0bd6 47%,#7e0ad5 52%,#7e0bd6 57%,#7e0bd6 63%,#7e0bd5 70%,#7e0bd7 78%,#7b0cdd 86%,#790ee1 93%,#780fe5 100%)"></i>
<i style="left:431px;width:1px;background:linear-gradient(#800ad2 0%,#7e0bd5 10%,#7f0ad5 20%,#7d0bd8 27%,#7e0bd6 33%,#800ad2 40%,#7f0ad3 47%,#7c0cdc 52%,#7c0cdb 57%,#7a0de1 63%,#7a0ee1 70%,#7c0cdb 78%,#7d0bd9 86%,#7c0cdc 93%,#7c0cda 100%)"></i>
<i style="left:432px;width:1px;background:linear-gradient(#7a0de0 0%,#7a0de0 10%,#7a0de0 20%,#7a0ddf 27%,#7a0ddf 33%,#7a0ddf 40%,#790ee2 47%,#790ee3 52%,#780ee4 57%,#770fe7 63%,#780fe5 70%,#790ee2 78%,#780fe4 86%,#770fe7 93%,#780fe5 100%)"></i>
<i style="left:433px;width:1px;background:linear-gradient(#7d0bd9 0%,#7e0bd7 10%,#7f0ad3 20%,#8109cf 27%,#8109ce 33%,#8208cb 40%,#8208cb 47%,#8208ca 52%,#8009d0 57%,#8109ce 63%,#8109cf 70%,#8009d0 78%,#7d0bd7 86%,#7d0bd9 93%,#7b0cdc 100%);opacity:0.80"></i>
<i style="left:483px;width:1px;background:linear-gradient(#6f12ed 0%,#6f12ed 10%,#6a14ef 20%,#6b14ee 27%,#6d13ee 33%,#7610ea 40%,#7a0de0 47%,#7f0ad3 52%,#8108c4 57%,#8007b7 63%,#7f06a6 70%,#770593 78%,#72058c 86%,#710589 93%,#710589 100%);opacity:0.30"></i>
<i style="left:484px;width:1px;background:linear-gradient(#6815ef 0%,#6c13ee 10%,#6b14ee 20%,#7211ec 27%,#7311eb 33%,#770fe7 40%,#7a0ee1 47%,#7f0ad2 52%,#8208c8 57%,#8007b3 63%,#7e06a3 70%,#74058e 78%,#6e0584 86%,#670478 93%,#660476 100%)"></i>
<i style="left:485px;width:1px;background:linear-gradient(#6e13ed 0%,#6d13ed 10%,#6a14ee 20%,#6f12ed 27%,#7112ec 33%,#7610ea 40%,#780fe4 47%,#7e0ad5 52%,#8208ca 57%,#8007ba 63%,#7e06a2 70%,#73058d 78%,#710589 86%,#6e0585 93%,#6d0582 100%)"></i>
<i style="left:486px;width:1px;background:linear-gradient(#6416f1 0%,#6715f0 10%,#6b14ee 20%,#7211ec 27%,#7710e9 33%,#790ee3 40%,#7b0dde 47%,#8009d1 52%,#8108c6 57%,#8007b9 63%,#7f06a7 70%,#74058e 78%,#72058a 86%,#6e0584 93%,#6d0582 100%)"></i>
<i style="left:487px;width:1px;background:linear-gradient(#6316f1 0%,#6615f0 10%,#6815ef 20%,#6914ef 27%,#6e13ed 33%,#7510ea 40%,#7a0ee1 47%,#7f0ad4 52%,#8208cd 57%,#8107be 63%,#7f06a8 70%,#790698 78%,#780595 86%,#72058a 93%,#72058b 100%)"></i>
<i style="left:488px;width:1px;background:linear-gradient(#5a19f5 0%,#551bf7 10%,#531cf8 20%,#571af6 27%,#5b19f4 33%,#6a14ef 40%,#7510ea 47%,#7a0ddf 52%,#7e0bd7 57%,#8208ca 63%,#8107c0 70%,#7f07ac 78%,#7f06a7 86%,#7e06a1 93%,#7e06a2 100%)"></i>
<i style="left:489px;width:1px;background:linear-gradient(#6f12ed 0%,#7012ec 10%,#7610ea 20%,#780ee4 27%,#790ee3 33%,#7d0bd9 40%,#8109cf 47%,#8108c6 52%,#8007b6 57%,#7f06a8 63%,#7e06a0 70%,#73058d 78%,#6c0581 86%,#69047b 93%,#660477 100%)"></i>
<i style="left:490px;width:1px;background:linear-gradient(#7211ec 0%,#7211ec 10%,#6f12ed 20%,#7112ec 27%,#7610ea 33%,#7a0de0 40%,#7d0bd7 47%,#8208cb 52%,#8107c0 57%,#8007b4 63%,#7f06a8 70%,#780595 78%,#750590 86%,#710589 93%,#71058a 100%)"></i>
<i style="left:491px;width:1px;background:linear-gradient(#6416f1 0%,#6615f0 10%,#6715f0 20%,#6c13ee 27%,#6f12ed 33%,#7710e8 40%,#7b0cdd 47%,#8009d1 52%,#8108c2 57%,#8007b4 63%,#7e06a5 70%,#7a0699 78%,#760591 86%,#72058b 93%,#710589 100%)"></i>
<i style="left:492px;width:1px;background:linear-gradient(#6516f1 0%,#6815ef 10%,#6b14ee 20%,#6f12ed 27%,#7311eb 33%,#790ee3 40%,#7d0bd8 47%,#8108ce 52%,#8107be 57%,#7f07ae 63%,#7e06a3 70%,#790697 78%,#760591 86%,#74058e 93%,#760593 100%)"></i>
<i style="left:493px;width:1px;background:linear-gradient(#6914ef 0%,#6914ef 10%,#6815ef 20%,#6c13ee 27%,#7211ec 33%,#780fe5 40%,#7c0cdc 47%,#7f0ad3 52%,#8208c7 57%,#8007b6 63%,#7f06a9 70%,#7a0699 78%,#750590 86%,#73058c 93%,#750590 100%)"></i>
<i style="left:494px;width:1px;background:linear-gradient(#6017f3 0%,#5f18f3 10%,#5d18f4 20%,#6416f1 27%,#6914ef 33%,#770fe8 40%,#7b0dde 47%,#8208cc 52%,#8108c1 57%,#7f07b0 63%,#7f06a6 70%,#790697 78%,#770594 86%,#74058e 93%,#750590 100%)"></i>
<i style="left:495px;width:1px;background:linear-gradient(#6615f0 0%,#6117f2 10%,#5e18f3 20%,#6017f3 27%,#6914ef 33%,#7211eb 40%,#790ee2 47%,#7f0ad4 52%,#8108c4 57%,#8007b7 63%,#7f06a7 70%,#770593 78%,#750590 86%,#74058f 93%,#750590 100%)"></i>
<i style="left:496px;width:1px;background:linear-gradient(#541bf7 0%,#551bf7 10%,#541bf7 20%,#571af6 27%,#571af6 33%,#6a14ef 40%,#7610e9 47%,#7d0bd9 52%,#8208cc 57%,#8007bb 63%,#8007b4 70%,#7e06a4 78%,#7c069d 86%,#780595 93%,#770594 100%)"></i>
<i style="left:497px;width:1px;background:linear-gradient(#4522fa 0%,#4821f9 10%,#4b1ff8 20%,#501df6 27%,#551bf5 33%,#6c14ed 40%,#750fe4 47%,#7c0bd8 52%,#8009cd 57%,#8008c4 63%,#8008bd 70%,#7f06ac 78%,#7d06a0 86%,#760595 93%,#72058b 100%)"></i>
<i style="left:498px;width:1px;background:linear-gradient(#1b3dfe 0%,#1c37fe 10%,#1f33fe 20%,#2231fe 27%,#242ffe 33%,#3923fc 40%,#541bf7 47%,#6a13ed 52%,#7710e8 57%,#7a0ddf 63%,#7e0bd4 70%,#8208c6 78%,#7f07b7 86%,#7e07ab 93%,#7d069f 100%)"></i>
<i style="left:499px;width:1px;background:linear-gradient(#3a2afb 0%,#3c27fa 10%,#3e26fa 20%,#4024fa 27%,#4322f9 33%,#531bf5 40%,#6516f0 47%,#7310e6 52%,#7b0cdc 57%,#7f0ad3 63%,#8009c7 70%,#8007b8 78%,#7e06aa 86%,#7b069f 93%,#780596 100%)"></i>
<i style="left:500px;width:1px;background:linear-gradient(#511cf8 0%,#4f1cf8 10%,#4d1df9 20%,#501cf8 27%,#561af6 33%,#6515f0 40%,#7710e9 47%,#7d0cda 52%,#8208cd 57%,#8107c0 63%,#8007b6 70%,#7f06a9 78%,#7d069f 86%,#790697 93%,#770594 100%)"></i>
<i style="left:501px;width:1px;background:linear-gradient(#541bf7 0%,#571af6 10%,#5a19f5 20%,#6017f3 27%,#6516f1 33%,#7211ec 40%,#790ee2 47%,#7e0ad5 52%,#8208cd 57%,#8107bf 63%,#7f07af 70%,#7d069f 78%,#7b069b 86%,#770593 93%,#770593 100%)"></i>
<i style="left:502px;width:1px;background:linear-gradient(#780fe6 0%,#7510ea 10%,#7411eb 20%,#7610e9 27%,#7710e8 33%,#7b0ddd 40%,#7f0ad3 47%,#8208c7 52%,#8107bf 57%,#7f07ad 63%,#7e06a4 70%,#770595 78%,#73058d 86%,#6d0583 93%,#6e0583 100%)"></i>
<i style="left:503px;width:1px;background:linear-gradient(#571af6 0%,#551bf7 10%,#551bf7 20%,#551bf7 27%,#591af5 33%,#6416f1 40%,#7311eb 47%,#790ee2 52%,#7e0bd7 57%,#8108c5 63%,#8007b9 70%,#7f06aa 78%,#7e06a0 86%,#790697 93%,#7b069a 100%)"></i>
<i style="left:504px;width:1px;background:linear-gradient(#5c19f4 0%,#5e18f3 10%,#5b19f4 20%,#5a19f5 27%,#6316f1 33%,#6d13ed 40%,#7610ea 47%,#7b0ddd 52%,#8208cc 57%,#8108c3 63%,#8007ba 70%,#7f06ab 78%,#7e06a4 86%,#7e06a1 93%,#7e06a2 100%)"></i>
<i style="left:505px;width:1px;background:linear-gradient(#6117f2 0%,#6017f3 10%,#6017f2 20%,#5d18f4 27%,#6416f1 33%,#6f12ed 40%,#7510ea 47%,#7a0ee1 52%,#7f0ad3 57%,#8208ca 63%,#8107be 70%,#7f07b0 78%,#7f06a9 86%,#7e06a1 93%,#7e069f 100%)"></i>
<i style="left:506px;width:1px;background:linear-gradient(#2d36fe 0%,#3134fd 10%,#3532fc 20%,#3c30fb 27%,#402ffb 33%,#482bfa 40%,#4f28f7 47%,#5923f3 52%,#631ff0 57%,#6d1ae9 63%,#7017e1 70%,#7612d3 78%,#7711ce 86%,#7611cb 93%,#7611cc 100%)"></i>
<i style="left:507px;width:1px;background:linear-gradient(#16a1ff 0%,#179cff 10%,#1798ff 20%,#1994fe 27%,#1a92fe 33%,#1c88fe 40%,#1e7ffd 47%,#2177fd 52%,#236ffc 57%,#2566fb 63%,#275cfa 70%,#2950f6 78%,#2950f5 86%,#294ff4 93%,#294ff4 100%)"></i>
<i style="left:508px;width:1px;background:linear-gradient(#1aa0fe 0%,#199bfe 10%,#1997fe 20%,#1994fe 27%,#1a92fe 33%,#1b88fe 40%,#1e7ffe 47%,#2177fd 52%,#246ffb 57%,#2765fa 63%,#285cf7 70%,#2950f4 78%,#2950f4 86%,#2a4ff4 93%,#2950f4 100%)"></i>
<i style="left:509px;width:1px;background:linear-gradient(#3832fc 0%,#3932fb 10%,#3931fb 20%,#3c30fb 27%,#422efb 33%,#4c2af9 40%,#5625f4 47%,#6021f1 52%,#6b1ced 57%,#6f18e4 63%,#7315db 70%,#7711ce 78%,#7611c8 86%,#7610c4 93%,#7610c3 100%)"></i>
<i style="left:510px;width:1px;background:linear-gradient(#4520fa 0%,#491ffa 10%,#481ffa 20%,#4e1df9 27%,#511cf8 33%,#5e18f3 40%,#6715f0 47%,#7710e9 52%,#7a0de0 57%,#7e0bd6 63%,#8208cb 70%,#8107be 78%,#8107be 86%,#8107bc 93%,#8007bb 100%)"></i>
<i style="left:511px;width:1px;background:linear-gradient(#551bf7 0%,#551bf7 10%,#551bf7 20%,#5a19f5 27%,#6117f2 33%,#6d13ed 40%,#7610ea 47%,#7b0ddd 52%,#7e0ad5 57%,#8208ca 63%,#8107be 70%,#7f07ad 78%,#7f07ac 86%,#7f06a8 93%,#7f07ad 100%)"></i>
<i style="left:512px;width:1px;background:linear-gradient(#4c1ef9 0%,#4c1ef9 10%,#4d1df9 20%,#561bf6 27%,#581af6 33%,#6715f0 40%,#7610e9 47%,#7b0dde 52%,#7f0ad4 57%,#8108c6 63%,#8107bd 70%,#7f07ad 78%,#7f06a7 86%,#7e06a3 93%,#7e06a2 100%)"></i>
<i style="left:513px;width:1px;background:linear-gradient(#591af5 0%,#5c19f4 10%,#5d18f4 20%,#6316f1 27%,#6715f0 33%,#7610ea 40%,#790ee4 47%,#7d0cda 52%,#8009d0 57%,#8108c1 63%,#8007b8 70%,#7f06a9 78%,#7e06a1 86%,#7b069a 93%,#790698 100%)"></i>
<i style="left:514px;width:1px;background:linear-gradient(#591af5 0%,#5a19f5 10%,#5a19f5 20%,#6117f2 27%,#6117f2 33%,#6d13ed 40%,#7510ea 47%,#7a0de0 52%,#7d0cd9 57%,#8208cc 63%,#8107c1 70%,#7f07ad 78%,#7f06a9 86%,#7e06a3 93%,#7e06a1 100%)"></i>
<i style="left:515px;width:1px;background:linear-gradient(#531cf8 0%,#521cf8 10%,#521cf8 20%,#561bf7 27%,#5c19f4 33%,#6715f0 40%,#7211eb 47%,#790ee3 52%,#7d0bd9 57%,#8109d0 63%,#8108c3 70%,#8007b3 78%,#7f07ad 86%,#7f06a8 93%,#7e06a4 100%)"></i>
<i style="left:516px;width:1px;background:linear-gradient(#5a19f5 0%,#571af6 10%,#511cf8 20%,#521cf8 27%,#531cf7 33%,#6416f1 40%,#6f12ed 47%,#7a0de0 52%,#7f0ad4 57%,#8108c3 63%,#8007b9 70%,#7f07ae 78%,#7f06ab 86%,#7f06a8 93%,#7f06a7 100%)"></i>
<i style="left:517px;width:1px;background:linear-gradient(#551bf7 0%,#511cf8 10%,#4e1df9 20%,#521cf8 27%,#541bf7 33%,#6316f1 40%,#7012ec 47%,#780ee4 52%,#7d0cd9 57%,#8208cc 63%,#8107bd 70%,#7f07af 78%,#7f06a9 86%,#7f06a6 93%,#7f06a6 100%)"></i>
<i style="left:518px;width:1px;background:linear-gradient(#6416f1 0%,#6416f1 10%,#6017f2 20%,#6217f2 27%,#6815f0 33%,#7211ec 40%,#780fe5 47%,#7e0bd7 52%,#8208cc 57%,#8107bd 63%,#7f07ae 70%,#7b069b 78%,#7c069d 86%,#7c069d 93%,#7e06a2 100%)"></i>
<i style="left:519px;width:1px;background:linear-gradient(#5d18f4 0%,#5f18f3 10%,#5c19f4 20%,#5e18f3 27%,#5e18f3 33%,#6715f0 40%,#7012ec 47%,#790ee4 52%,#7d0bd8 57%,#8208ca 63%,#8107bf 70%,#7f07ad 78%,#7f06a6 86%,#7e06a0 93%,#7e06a0 100%)"></i>
<i style="left:520px;width:1px;background:linear-gradient(#581af6 0%,#571af6 10%,#531cf8 20%,#571af6 27%,#5c19f4 33%,#6615f0 40%,#7112ec 47%,#790ee2 52%,#7d0bd9 57%,#8109ce 63%,#8108c3 70%,#8007b5 78%,#7f07b0 86%,#7f07ae 93%,#7f07af 100%)"></i>
<i style="left:521px;width:1px;background:linear-gradient(#4c1ef9 0%,#511cf8 10%,#531cf8 20%,#5d18f4 27%,#6516f1 33%,#6e13ed 40%,#7411eb 47%,#7a0ee1 52%,#7b0ddd 57%,#7d0bd8 63%,#8108ce 70%,#8107bc 78%,#8007b9 86%,#8007b4 93%,#8007b3 100%)"></i>
<i style="left:522px;width:1px;background:linear-gradient(#4420fa 0%,#4221fb 10%,#4021fb 20%,#3f22fb 27%,#4121fb 33%,#4420fa 40%,#4a1ef9 47%,#4e1df9 52%,#521cf8 57%,#561bf6 63%,#6316f1 70%,#6d13ee 78%,#6c13ee 86%,#6c13ee 93%,#6815ef 100%)"></i>
<i style="left:523px;width:1px;background:linear-gradient(#3236fc 0%,#3139fc 10%,#2e3bfd 20%,#2e3dfd 27%,#2e3efd 33%,#2f4efc 40%,#2d5bfa 47%,#2867dc 52%,#2f6bbb 57%,#506cad 63%,#596bab 70%,#6869aa 78%,#6e6aaa 86%,#736aaa 93%,#756aaa 100%)"></i>
<i style="left:524px;width:1px;background:linear-gradient(#1163ff 0%,#1169ff 10%,#106fff 20%,#1073ff 27%,#1077ff 33%,#10a6ff 40%,#0ccff7 47%,#01f29b 52%,#20fc36 57%,#8bfc0b 63%,#a3fc04 70%,#bafc04 78%,#cffc04 86%,#dffc04 93%,#f0fc04 100%)"></i>
<i style="left:525px;width:1px;background:linear-gradient(#3a2dfb 0%,#3a2efc 10%,#3630fc 20%,#3630fc 27%,#3332fd 33%,#323cfd 40%,#3043fb 47%,#2d4bea 52%,#304dd7 57%,#444ecf 63%,#504bcd 70%,#5f48cb 78%,#6448cb 86%,#6648cb 93%,#654acb 100%)"></i>
<i style="left:526px;width:1px;background:linear-gradient(#491ef9 0%,#481ffa 10%,#461ffa 20%,#461ffa 27%,#481ffa 33%,#4d1df9 40%,#541bf7 47%,#5a19f5 52%,#6017f2 57%,#6316f2 63%,#6e13ed 70%,#780fe5 78%,#790ee3 86%,#790ee4 93%,#770fe6 100%)"></i>
<i style="left:527px;width:1px;background:linear-gradient(#4e1df9 0%,#4b1ef9 10%,#471ffa 20%,#4121fb 27%,#4520fa 33%,#471ffa 40%,#4f1df8 47%,#531cf7 52%,#6217f2 57%,#6715f0 63%,#7710e9 70%,#7c0cda 78%,#8109ce 86%,#8208c9 93%,#8108c6 100%)"></i>
<i style="left:528px;width:1px;background:linear-gradient(#521cf8 0%,#521cf8 10%,#551bf7 20%,#551bf7 27%,#551bf7 33%,#5d18f4 40%,#6316f1 47%,#6b14ee 52%,#7311eb 57%,#7b0dde 63%,#8009d1 70%,#8107be 78%,#8007b3 86%,#7f06a7 93%,#7f06aa 100%)"></i>
<i style="left:529px;width:1px;background:linear-gradient(#521cf8 0%,#521cf8 10%,#541bf7 20%,#561bf6 27%,#541bf7 33%,#6017f3 40%,#6914ef 47%,#7411eb 52%,#780fe5 57%,#7e0bd7 63%,#8208cb 70%,#8007b8 78%,#7f07b0 86%,#7f06a8 93%,#7f06aa 100%)"></i>
<i style="left:530px;width:1px;background:linear-gradient(#3225fd 0%,#3624fd 10%,#3923fc 20%,#3d22fc 27%,#4021fb 33%,#4a1ef9 40%,#4f1df9 47%,#5d18f4 52%,#6715f0 57%,#7411eb 63%,#790ee3 70%,#8009d0 78%,#8208cc 86%,#8108c3 93%,#8108c3 100%)"></i>
<i style="left:531px;width:1px;background:linear-gradient(#3d22fb 0%,#3f21fb 10%,#4221fb 20%,#461ffa 27%,#4420fa 33%,#4a1ef9 40%,#541bf7 47%,#6117f2 52%,#6c13ee 57%,#7510ea 63%,#7b0ddd 70%,#8208cd 78%,#8108c5 86%,#8107bd 93%,#8007ba 100%)"></i>
<i style="left:532px;width:1px;background:linear-gradient(#3724fc 0%,#3b23fc 10%,#3e22fb 20%,#4520fa 27%,#4420fa 33%,#491ff9 40%,#501df8 47%,#5a19f5 52%,#6017f2 57%,#6e13ed 63%,#790ee2 70%,#8009d0 78%,#8208c7 86%,#8107bf 93%,#8107bf 100%)"></i>
<i style="left:533px;width:1px;background:linear-gradient(#3c22fc 0%,#3d22fc 10%,#3d22fb 20%,#3d22fb 27%,#3b23fc 33%,#4420fa 40%,#4c1ef9 47%,#5a19f5 52%,#6a14ef 57%,#770fe7 63%,#7b0cdc 70%,#8208cd 78%,#8208c7 86%,#8108c3 93%,#8108c4 100%)"></i>
<i style="left:534px;width:1px;background:linear-gradient(#481ffa 0%,#491ff9 10%,#481ffa 20%,#461ffa 27%,#471ffa 33%,#4a1ef9 40%,#4e1df9 47%,#5a19f5 52%,#6715f0 57%,#7411eb 63%,#7c0cdb 70%,#8208cb 78%,#8208c7 86%,#8108c4 93%,#8208c8 100%)"></i>
<i style="left:535px;width:1px;background:linear-gradient(#3f21fb 0%,#4021fb 10%,#3e22fb 20%,#4121fb 27%,#4021fb 33%,#481ffa 40%,#4d1df9 47%,#5c19f4 52%,#6117f2 57%,#6b14ee 63%,#770fe6 70%,#7f0ad3 78%,#8009d1 86%,#8208cc 93%,#8208cc 100%)"></i>
<i style="left:536px;width:1px;background:linear-gradient(#4420fa 0%,#4520fa 10%,#4121fb 20%,#3e22fb 27%,#3d22fc 33%,#4121fb 40%,#4b1ef9 47%,#5b19f5 52%,#6914ef 57%,#7012ec 63%,#7a0ee1 70%,#8009d1 78%,#8109cf 86%,#8108cd 93%,#8208cd 100%)"></i>
<i style="left:537px;width:1px;background:linear-gradient(#4e1df9 0%,#4c1ef9 10%,#4a1ef9 20%,#481ffa 27%,#491ffa 33%,#4e1df9 40%,#561bf6 47%,#5f18f3 52%,#6914ef 57%,#770fe7 63%,#7e0bd5 70%,#8107bf 78%,#8007b5 86%,#7f07ac 93%,#7f07af 100%)"></i>
<i style="left:538px;width:1px;background:linear-gradient(#3d22fb 0%,#3d22fc 10%,#4021fb 20%,#4420fa 27%,#4021fb 33%,#461ffa 40%,#501df8 47%,#571af6 52%,#6117f2 57%,#6b14ee 63%,#790ee3 70%,#8208cd 78%,#8108c5 86%,#8107c0 93%,#8107bc 100%)"></i>
<i style="left:539px;width:1px;background:linear-gradient(#3524fd 0%,#3823fc 10%,#3b23fc 20%,#4021fb 27%,#3f21fb 33%,#491ff9 40%,#4e1df9 47%,#541bf7 52%,#591af5 57%,#6316f1 63%,#7311eb 70%,#7e0ad5 78%,#8009d1 86%,#8108cd 93%,#8109cf 100%)"></i>
<i style="left:540px;width:1px;background:linear-gradient(#3e22fb 0%,#4021fb 10%,#4021fb 20%,#4221fb 27%,#4021fb 33%,#4320fb 40%,#4520fa 47%,#4a1ef9 52%,#501df8 57%,#571af6 63%,#7112ec 70%,#7f0ad3 78%,#8108c3 86%,#8007b7 93%,#8007b2 100%)"></i>
<i style="left:541px;width:1px;background:linear-gradient(#3d22fc 0%,#3724fd 10%,#2e26fe 20%,#2928ff 27%,#2828ff 33%,#2928ff 40%,#2b27fe 47%,#3225fd 52%,#3524fd 57%,#3524fd 63%,#4b1ef9 70%,#6516f1 78%,#7610ea 86%,#7b0dde 93%,#7b0cdd 100%)"></i>
<i style="left:542px;width:1px;background:linear-gradient(#481ffa 0%,#461ffa 10%,#4320fa 20%,#3b22fc 27%,#3824fc 33%,#3524fd 40%,#2f26fe 47%,#2c27fe 52%,#2b27ff 57%,#2b27fe 63%,#3d22fc 70%,#521cf8 78%,#6f12ed 86%,#7c0cda 93%,#7c0cda 100%)"></i>
<i style="left:543px;width:1px;background:linear-gradient(#4320fb 0%,#3e22fb 10%,#3a23fc 20%,#3624fd 27%,#3624fd 33%,#2c28fe 40%,#2729ff 47%,#242dff 52%,#2031ff 57%,#1f33ff 63%,#262cff 70%,#3429fd 78%,#5220f7 86%,#6c19ec 93%,#681bee 100%)"></i>
<i style="left:544px;width:1px;background:linear-gradient(#3724fd 0%,#3225fd 10%,#3724fd 20%,#3225fd 27%,#232dff 33%,#1d33ff 40%,#1838ff 47%,#144bff 52%,#144fff 57%,#115bff 63%,#1164ff 70%,#1169ff 78%,#166bff 86%,#1b70fe 93%,#1c76fe 100%)"></i>
<i style="left:545px;width:1px;background:linear-gradient(#1937ff 0%,#173dff 10%,#1d33ff 20%,#1f31ff 27%,#212fff 33%,#1b35ff 40%,#1937ff 47%,#1641ff 52%,#1547ff 57%,#1350ff 63%,#1652ff 70%,#1b54ff 78%,#2458fd 86%,#295bfc 93%,#2462fd 100%)"></i>
<i style="left:546px;width:1px;background:linear-gradient(#3823fc 0%,#2b27fe 10%,#232dff 20%,#1d33ff 27%,#1d33ff 33%,#1642ff 40%,#1547ff 47%,#1450ff 52%,#1352ff 57%,#1066ff 63%,#1356ff 70%,#1647ff 78%,#252cff 86%,#3527fd 93%,#3a26fc 100%)"></i>
<i style="left:547px;width:1px;background:linear-gradient(#212fff 0%,#222eff 10%,#1e32ff 20%,#1839ff 27%,#1937ff 33%,#1450ff 40%,#115fff 47%,#125aff 52%,#1354ff 57%,#1161ff 63%,#1645ff 70%,#1d33ff 78%,#3026fe 86%,#4021fb 93%,#3624fd 100%)"></i>
<i style="left:548px;width:1px;background:linear-gradient(#2030ff 0%,#222eff 10%,#2030ff 20%,#1e32ff 27%,#1641ff 33%,#144cff 40%,#1257ff 47%,#1064ff 52%,#1074ff 57%,#1075ff 63%,#1160ff 70%,#1064ff 78%,#173eff 86%,#212fff 93%,#1e32ff 100%)"></i>
<i style="left:549px;width:1px;background:linear-gradient(#0f71ea 0%,#1366ea 10%,#175de9 20%,#1960e7 27%,#1b6ce6 33%,#1e76e4 40%,#2284e4 47%,#2389e4 52%,#257be4 57%,#2684e4 63%,#2678e4 70%,#286ee4 78%,#2b5fe4 86%,#2c5ce4 93%,#2c62e4 100%)"></i>
<i style="left:550px;width:1px;background:linear-gradient(#06d68b 0%,#12d786 10%,#1fd081 20%,#31d07a 27%,#43d973 33%,#61da67 40%,#76de64 47%,#7ce864 52%,#83eb63 57%,#89ed62 63%,#8bef60 70%,#90ea63 78%,#94dd64 86%,#97d564 93%,#9ad164 100%)"></i>
<i style="left:551px;width:1px;background:linear-gradient(#00fe41 0%,#14fe39 10%,#28fe31 20%,#46fe25 27%,#63ff19 33%,#95ff06 40%,#b7ff01 47%,#c2ff01 52%,#ceff01 57%,#daff01 63%,#dfff01 70%,#e4ff01 78%,#e9ff02 86%,#eeff02 93%,#f2ff02 100%)"></i>
<i style="left:552px;width:1px;background:linear-gradient(#09aba4 0%,#12b2a1 10%,#1bb89d 20%,#2ac897 27%,#38c992 33%,#4fd888 40%,#60df86 47%,#63e584 52%,#67ea80 57%,#6af07d 63%,#6fe881 70%,#75de86 78%,#77d686 86%,#7acd86 93%,#7cd186 100%)"></i>
<i style="left:553px;width:1px;background:linear-gradient(#0f74f2 0%,#1079f2 10%,#1278f1 20%,#1484f1 27%,#1686f0 33%,#1996ef 40%,#1b9eee 47%,#1cb4ee 52%,#1aceeb 57%,#14dfe0 63%,#1ec8ee 70%,#1eaeee 78%,#1ea5ee 86%,#1f96ee 93%,#1f9aee 100%)"></i>
<i style="left:554px;width:1px;background:linear-gradient(#2828ff 0%,#262aff 10%,#232dff 20%,#1b35ff 27%,#1e32ff 33%,#1645ff 40%,#1069ff 47%,#1081ff 52%,#108fff 57%,#10abff 63%,#108bff 70%,#1061ff 78%,#1259ff 86%,#1257ff 93%,#1160ff 100%)"></i>
<i style="left:555px;width:1px;background:linear-gradient(#1937ff 0%,#1937ff 10%,#1838ff 20%,#1547ff 27%,#1838ff 33%,#1354ff 40%,#1072ff 47%,#107eff 52%,#1097ff 57%,#10b8ff 63%,#109dff 70%,#1081ff 78%,#106cff 86%,#144fff 93%,#144eff 100%)"></i>
<i style="left:556px;width:1px;background:linear-gradient(#2030ff 0%,#2828ff 10%,#2928ff 20%,#262aff 27%,#242cff 33%,#173bff 40%,#115dff 47%,#107eff 52%,#1092ff 57%,#10a0ff 63%,#108bff 70%,#107bff 78%,#1548ff 86%,#1e32ff 93%,#1d33ff 100%)"></i>
<i style="left:557px;width:1px;background:linear-gradient(#1f31ff 0%,#1b35ff 10%,#1f31ff 20%,#1937ff 27%,#1642ff 33%,#154bff 40%,#1161ff 47%,#107bff 52%,#1088ff 57%,#109fff 63%,#10a0ff 70%,#108fff 78%,#1063ff 86%,#1546ff 93%,#1546ff 100%)"></i>
<i style="left:558px;width:1px;background:linear-gradient(#173fff 0%,#1643ff 10%,#1644ff 20%,#1643ff 27%,#1548ff 33%,#1066ff 40%,#1089ff 47%,#10a2ff 52%,#10c4ff 57%,#07dbf2 63%,#0bd1f8 70%,#10bfff 78%,#10a0ff 86%,#1085ff 93%,#108cff 100%)"></i>
<i style="left:559px;width:1px;background:linear-gradient(#144cff 0%,#1547ff 10%,#1642ff 20%,#144bff 27%,#1258ff 33%,#115fff 40%,#1080ff 47%,#10a3ff 52%,#10b8ff 57%,#0ad2f7 63%,#07dcf1 70%,#04e1ee 78%,#0ec8fd 86%,#10abff 93%,#10a8ff 100%)"></i>
<i style="left:560px;width:1px;background:linear-gradient(#4021fb 0%,#4021fb 10%,#2928ff 20%,#252bff 27%,#173cff 33%,#1062ff 40%,#108dff 47%,#1084ff 52%,#1092ff 57%,#10a8ff 63%,#10a1ff 70%,#107dff 78%,#1084ff 86%,#1092ff 93%,#1095ff 100%)"></i>
<i style="left:561px;width:1px;background:linear-gradient(#2030ff 0%,#1d33ff 10%,#183bff 20%,#1549ff 27%,#115eff 33%,#1075ff 40%,#109aff 47%,#10aaff 52%,#10b5ff 57%,#0ccff9 63%,#0bd1f7 70%,#0ccdfa 78%,#0ccff9 86%,#09d6f5 93%,#0ccdfa 100%)"></i>
<i style="left:562px;width:1px;background:linear-gradient(#1356ff 0%,#1549ff 10%,#1641ff 20%,#173bff 27%,#1546ff 33%,#1069ff 40%,#1088ff 47%,#109dff 52%,#10a2ff 57%,#0fc0fd 63%,#0fc2fd 70%,#0ec3fd 78%,#0ebcfc 86%,#0ec6fb 93%,#0ebbfa 100%)"></i>
<i style="left:563px;width:1px;background:linear-gradient(#3724fc 0%,#2b27ff 10%,#222eff 20%,#1937ff 27%,#1640ff 33%,#116fff 40%,#108dff 47%,#10a6ff 52%,#0ebbfc 57%,#07d0f3 63%,#06d4f1 70%,#04dbee 78%,#04dee7 86%,#04e2df 93%,#03e6d7 100%)"></i>
<i style="left:564px;width:1px;background:linear-gradient(#173dff 0%,#1547ff 10%,#1161ff 20%,#1078ff 27%,#1082ff 33%,#1096ff 40%,#10b1ff 47%,#10b9ff 52%,#0ad4f6 57%,#05e1ef 63%,#03e3ed 70%,#01e9ea 78%,#01ebe3 86%,#01ebdb 93%,#01edd3 100%)"></i>
<i style="left:565px;width:1px;background:linear-gradient(#4d1df9 0%,#4a1ef9 10%,#3a23fc 20%,#2e26fe 27%,#1f32ff 33%,#144cff 40%,#107aff 47%,#108cff 52%,#10b4ff 57%,#09d6f4 63%,#0dcdfa 70%,#0eb9fd 78%,#0ebcfc 86%,#0eb7fb 93%,#0eb5fa 100%)"></i>
<i style="left:566px;width:1px;background:linear-gradient(#1f31ff 0%,#2928ff 10%,#2828ff 20%,#232dff 27%,#1839ff 33%,#125bff 40%,#1085ff 47%,#1098ff 52%,#10a5ff 57%,#10c5fe 63%,#10beff 70%,#10c1ff 78%,#10b9ff 86%,#10b9ff 93%,#10acff 100%)"></i>
<i style="left:567px;width:1px;background:linear-gradient(#3c22fc 0%,#3624fd 10%,#3225fd 20%,#242cff 27%,#2030ff 33%,#1353ff 40%,#106bff 47%,#108aff 52%,#10a0ff 57%,#10b0ff 63%,#10aeff 70%,#10aeff 78%,#10a3ff 86%,#1099ff 93%,#10adff 100%)"></i>
<i style="left:568px;width:1px;background:linear-gradient(#4520fa 0%,#4420fa 10%,#461ffa 20%,#3125fe 27%,#1c34ff 33%,#154aff 40%,#106fff 47%,#1093ff 52%,#10a0ff 57%,#10bfff 63%,#0fc6fe 70%,#0fc7fd 78%,#0fc6fe 86%,#0fc6fe 93%,#10b9ff 100%)"></i>
<i style="left:569px;width:1px;background:linear-gradient(#1d33ff 0%,#1f31ff 10%,#1937ff 20%,#173fff 27%,#1546ff 33%,#1161ff 40%,#1086ff 47%,#1099ff 52%,#10bcff 57%,#0ad2f7 63%,#10baff 70%,#10c2ff 78%,#10b6ff 86%,#10abff 93%,#109eff 100%)"></i>
<i style="left:570px;width:1px;background:linear-gradient(#3026fe 0%,#262aff 10%,#252bff 20%,#1937ff 27%,#173eff 33%,#1258ff 40%,#106fff 47%,#1089ff 52%,#109eff 57%,#10a1ff 63%,#10a9ff 70%,#10b9ff 78%,#10bfff 86%,#10bbff 93%,#0fc6fe 100%)"></i>
<i style="left:571px;width:1px;background:linear-gradient(#3b23fc 0%,#2828ff 10%,#1c34ff 20%,#1258ff 27%,#1068ff 33%,#1090ff 40%,#10b3ff 47%,#10c1ff 52%,#10c1ff 57%,#0ccff9 63%,#0bd0f8 70%,#08d8f3 78%,#04e2ee 86%,#00ece4 93%,#00ece5 100%)"></i>
<i style="left:572px;width:1px;background:linear-gradient(#481ffa 0%,#3325fd 10%,#2729ff 20%,#1b35ff 27%,#1549ff 33%,#1067ff 40%,#108cff 47%,#1095ff 52%,#10abff 57%,#0fc7fd 63%,#0bcff8 70%,#0dcbfb 78%,#06def0 86%,#03e4ec 93%,#05e0ef 100%)"></i>
<i style="left:573px;width:1px;background:linear-gradient(#6117f2 0%,#561bf7 10%,#4221fb 20%,#2828ff 27%,#1f31ff 33%,#1641ff 40%,#1066ff 47%,#107eff 52%,#1098ff 57%,#0fc6fe 63%,#0fc7fd 70%,#0bd0f8 78%,#0bcff9 86%,#0ccff9 93%,#10bcff 100%)"></i>
<i style="left:574px;width:1px;background:linear-gradient(#242cff 0%,#262aff 10%,#2729ff 20%,#2030ff 27%,#1b35ff 33%,#144dff 40%,#1070ff 47%,#1084ff 52%,#109eff 57%,#10c2ff 63%,#0fc5fe 70%,#0dcdfa 78%,#08d8f4 86%,#08d9f3 93%,#09d4f6 100%)"></i>
<i style="left:575px;width:1px;background:linear-gradient(#511cf8 0%,#481ffa 10%,#4320fb 20%,#4021fb 27%,#3026fe 33%,#1d33ff 40%,#1645ff 47%,#1160ff 52%,#1094ff 57%,#10bdff 63%,#0ec8fd 70%,#04e2ee 78%,#00ece5 86%,#00efcb 93%,#00efca 100%)"></i>
<i style="left:576px;width:1px;background:linear-gradient(#5a19f5 0%,#5a19f5 10%,#471ffa 20%,#3e22fb 27%,#2928ff 33%,#173fff 40%,#1257ff 47%,#1063ff 52%,#1083ff 57%,#10b0ff 63%,#10b0ff 70%,#10c1ff 78%,#10c5fe 86%,#0bd0f8 93%,#0ecafc 100%)"></i>
<i style="left:577px;width:1px;background:linear-gradient(#262aff 0%,#262aff 10%,#2b27ff 20%,#252bff 27%,#173bff 33%,#1257ff 40%,#107fff 47%,#109dff 52%,#10c2ff 57%,#06ddf1 63%,#03e4ed 70%,#00ede2 78%,#00efca 86%,#00efcc 93%,#00eeda 100%)"></i>
<i style="left:578px;width:1px;background:linear-gradient(#3524fd 0%,#262aff 10%,#1c34ff 20%,#1a36ff 27%,#1644ff 33%,#115eff 40%,#1074ff 47%,#107ffe 52%,#0fa3fd 57%,#0dcbf8 63%,#06deed 70%,#00ede2 78%,#00f1c3 86%,#00f2ab 93%,#01f3aa 100%)"></i>
<i style="left:579px;width:1px;background:linear-gradient(#3624fd 0%,#2729ff 10%,#2729ff 20%,#1d33ff 27%,#144dff 33%,#107fff 40%,#0fa3fe 47%,#0acbf7 52%,#07dde4 57%,#01efbe 63%,#00f1b2 70%,#00f2a5 78%,#02ef9b 86%,#04f391 93%,#0cf18f 100%)"></i>
<i style="left:580px;width:1px;background:linear-gradient(#232dff 0%,#1b35ff 10%,#183bff 20%,#1640ff 27%,#125aff 33%,#109dff 40%,#0ec6fd 47%,#05def0 52%,#01edd0 57%,#00f598 63%,#00f784 70%,#00fa6a 78%,#00fd53 86%,#05fe45 93%,#13fe3f 100%)"></i>
<i style="left:581px;width:1px;background:linear-gradient(#4320fb 0%,#3923fc 10%,#2729ff 20%,#212fff 27%,#183eff 33%,#1263ff 40%,#1089ff 47%,#0d97fb 52%,#0cbcf4 57%,#08dae0 63%,#06e0d9 70%,#06e0d2 78%,#05e3cc 86%,#0adccc 93%,#10d4d0 100%)"></i>
<i style="left:582px;width:1px;background:linear-gradient(#8208c7 0%,#7c0cda 10%,#7a0ee1 20%,#6a14ef 27%,#551bf7 33%,#3026fe 40%,#212fff 47%,#144fff 52%,#106aff 57%,#1081ff 63%,#1094ff 70%,#10a4ff 78%,#109fff 86%,#109eff 93%,#109cff 100%)"></i>
<i style="left:583px;width:1px;background:linear-gradient(#3b23fc 0%,#2d27fe 10%,#2f26fe 20%,#2c27fe 27%,#232dff 33%,#154bff 40%,#106aff 47%,#109dff 52%,#10c0ff 57%,#0ad3f6 63%,#0ccdfa 70%,#09d6f4 78%,#0ad3f6 86%,#07d9f3 93%,#07dcf1 100%)"></i>
<i style="left:584px;width:1px;background:linear-gradient(#7710e8 0%,#6e13ed 10%,#6815ef 20%,#5a19f5 27%,#511cf8 33%,#2c27fe 40%,#1e32ff 47%,#144dff 52%,#1064ff 57%,#1089ff 63%,#1090ff 70%,#109fff 78%,#10a9ff 86%,#10b7ff 93%,#10b8ff 100%)"></i>
<i style="left:585px;width:1px;background:linear-gradient(#7a0ee1 0%,#790ee1 10%,#790ee2 20%,#780fe5 27%,#7610ea 33%,#521cf8 40%,#3125fd 47%,#1b35ff 52%,#144dff 57%,#1073ff 63%,#1083ff 70%,#1086ff 78%,#1099ff 86%,#10b4ff 93%,#0fc6fe 100%)"></i>
<i style="left:586px;width:1px;background:linear-gradient(#561bf6 0%,#541bf7 10%,#501df8 20%,#3c22fb 27%,#2b28ff 33%,#183cff 40%,#1065ff 47%,#1086ff 52%,#1099fe 57%,#10bcfd 63%,#0dccf9 70%,#0bd2f5 78%,#07dcef 86%,#02e8e7 93%,#01eae6 100%)"></i>
<i style="left:587px;width:1px;background:linear-gradient(#6f12ed 0%,#6b14ee 10%,#501df7 20%,#3429fc 27%,#2444fe 33%,#1462ff 40%,#1084fe 47%,#0c8ff9 52%,#0ab0ed 57%,#0ad2d8 63%,#0ad4d1 70%,#0adac6 78%,#03eab5 86%,#04edae 93%,#09eeab 100%)"></i>
<i style="left:588px;width:1px;background:linear-gradient(#4b1ef9 0%,#4620fa 10%,#4420fa 20%,#1838ff 27%,#1078ff 33%,#10a3ff 40%,#0ecafc 47%,#04e2ee 52%,#00efcc 57%,#00f694 63%,#00f880 70%,#00fb65 78%,#00fe4d 86%,#05ff3e 93%,#14ff38 100%)"></i>
<i style="left:589px;width:1px;background:linear-gradient(#800ad2 0%,#7610ea 10%,#571af5 20%,#3129fc 27%,#2344fe 33%,#165eff 40%,#117efe 47%,#0c97f9 52%,#0ab1ed 57%,#0ac8d8 63%,#0ac9d1 70%,#0acdc7 78%,#0ad7bf 86%,#0cd5b9 93%,#11d4b7 100%)"></i>
<i style="left:590px;width:1px;background:linear-gradient(#7a0de1 0%,#7610e9 10%,#6d13ed 20%,#6f13ec 27%,#561cf6 33%,#2b29fe 40%,#183cff 47%,#154dff 52%,#107afe 57%,#10a7fd 63%,#10aefd 70%,#10b4fc 78%,#10c6fb 86%,#0ecbf8 93%,#10c6fb 100%)"></i>
<i style="left:591px;width:1px;background:linear-gradient(#501cf8 0%,#571af6 10%,#5f18f3 20%,#5a19f5 27%,#4f1df8 33%,#3524fd 40%,#1c34ff 47%,#144fff 52%,#106aff 57%,#108bff 63%,#109cff 70%,#10baff 78%,#10bfff 86%,#10c1ff 93%,#10c2ff 100%)"></i>
<i style="left:592px;width:1px;background:linear-gradient(#6915ee 0%,#591af5 10%,#5c1af3 20%,#5120f7 27%,#4327fa 33%,#2731ff 40%,#1b3efe 47%,#1164f9 52%,#1089f3 57%,#15aff1 63%,#16b8f1 70%,#18c4f0 78%,#19c6f0 86%,#19c8ef 93%,#1bc5f0 100%)"></i>
<i style="left:593px;width:1px;background:linear-gradient(#3e25f9 0%,#3b29f9 10%,#3b30f8 20%,#3942f8 27%,#2f5dfc 33%,#1a79ff 40%,#0e92f7 47%,#09a8c8 52%,#0fc597 57%,#3dd484 63%,#48d780 70%,#57e27a 78%,#5feb73 86%,#65ed72 93%,#6af36f 100%)"></i>
<i style="left:594px;width:1px;background:linear-gradient(#2030ff 0%,#1838ff 10%,#1547ff 20%,#1068ff 27%,#1095ff 33%,#10beff 40%,#05def0 47%,#00f499 52%,#0efe3d 57%,#63fe1a 63%,#79fe11 70%,#95ff06 78%,#a9ff02 86%,#b6ff02 93%,#c3ff02 100%)"></i>
<i style="left:595px;width:1px;background:linear-gradient(#4223f9 0%,#3d26fa 10%,#3a2dfb 20%,#323cfc 27%,#2c4ffd 33%,#1b66ff 40%,#0f7ef9 47%,#0b96d7 52%,#0fa9b3 57%,#31c2a5 63%,#39c7a2 70%,#44cd9d 78%,#4ccf9c 86%,#51d19c 93%,#56d19c 100%)"></i>
<i style="left:596px;width:1px;background:linear-gradient(#6c13ee 0%,#6914ef 10%,#6816ef 20%,#6019f1 27%,#5b1cf4 33%,#3e26fb 40%,#2332ff 47%,#183dfc 52%,#1454f9 57%,#1368f8 63%,#136af7 70%,#1470f7 78%,#1576f7 86%,#1576f7 93%,#167df7 100%)"></i>
<i style="left:597px;width:1px;background:linear-gradient(#790ee3 0%,#780fe6 10%,#7411eb 20%,#6e13ed 27%,#6914ef 33%,#4d1ef9 40%,#2f26fe 47%,#242cff 52%,#1937ff 57%,#144cff 63%,#1355ff 70%,#125bff 78%,#115cff 86%,#115dff 93%,#115fff 100%)"></i>
<i style="left:598px;width:1px;background:linear-gradient(#7112ec 0%,#7012ec 10%,#6c13ee 20%,#6815ef 27%,#6416f1 33%,#471ffa 40%,#2b27fe 47%,#232dff 52%,#1c34ff 57%,#173dff 63%,#1740ff 70%,#1548ff 78%,#144cff 86%,#1352ff 93%,#1258ff 100%)"></i>
<i style="left:599px;width:1px;background:linear-gradient(#7311eb 0%,#7211eb 10%,#7510eb 20%,#6d13ed 27%,#6b14ee 33%,#4b1ef9 40%,#2d27fe 47%,#222eff 52%,#1e32ff 57%,#173dff 63%,#173bff 70%,#173fff 78%,#173fff 86%,#1641ff 93%,#1640ff 100%)"></i>
<i style="left:600px;width:1px;background:linear-gradient(#7610e9 0%,#7610e9 10%,#7710e9 20%,#7411eb 27%,#7112ec 33%,#521cf8 40%,#3125fd 47%,#262aff 52%,#2030ff 57%,#1838ff 63%,#173dff 70%,#173eff 78%,#173eff 86%,#1640ff 93%,#173eff 100%)"></i>
<i style="left:601px;width:1px;background:linear-gradient(#7610ea 0%,#7610e9 10%,#780fe6 20%,#770fe7 27%,#780fe6 33%,#5e18f3 40%,#3d22fc 47%,#2f26fe 52%,#262aff 57%,#1e32ff 63%,#1d33ff 70%,#1d33ff 78%,#1e32ff 86%,#1f31ff 93%,#1f31ff 100%)"></i>
<i style="left:602px;width:1px;background:linear-gradient(#7a0ee1 0%,#7a0de0 10%,#7a0de1 20%,#780ee4 27%,#770fe8 33%,#5e18f3 40%,#3f21fb 47%,#3425fd 52%,#2928ff 57%,#232dff 63%,#212fff 70%,#1f31ff 78%,#1d33ff 86%,#1b35ff 93%,#1937ff 100%)"></i>
<i style="left:603px;width:1px;background:linear-gradient(#7610e9 0%,#7610e9 10%,#7510ea 20%,#6d13ee 27%,#6516f1 33%,#491ef9 40%,#2d26fe 47%,#262aff 52%,#222eff 57%,#1b35ff 63%,#1937ff 70%,#183aff 78%,#183aff 86%,#1839ff 93%,#1838ff 100%)"></i>
<i style="left:604px;width:1px;background:linear-gradient(#780fe6 0%,#7610ea 10%,#7610e9 20%,#7311eb 27%,#7012ec 33%,#551bf7 40%,#3c22fc 47%,#3225fd 52%,#242cff 57%,#1d33ff 63%,#1937ff 70%,#183aff 78%,#173eff 86%,#1838ff 93%,#1937ff 100%)"></i>
<i style="left:605px;width:1px;background:linear-gradient(#7112ec 0%,#6d13ee 10%,#6914ef 20%,#6516f0 27%,#6516f1 33%,#471ffa 40%,#2c27fe 47%,#262aff 52%,#1d33ff 57%,#173bff 63%,#173cff 70%,#173fff 78%,#1643ff 86%,#1645ff 93%,#1645ff 100%)"></i>
<i style="left:606px;width:1px;background:linear-gradient(#7610ea 0%,#7610e9 10%,#7610e9 20%,#7411eb 27%,#7311eb 33%,#5d18f4 40%,#4320fa 47%,#3b23fc 52%,#2c27fe 57%,#222eff 63%,#1d33ff 70%,#1b35ff 78%,#1937ff 86%,#1a36ff 93%,#1937ff 100%)"></i>
<i style="left:607px;width:1px;background:linear-gradient(#770fe7 0%,#780ee4 10%,#780fe6 20%,#7411eb 27%,#6e13ed 33%,#581af5 40%,#3923fc 47%,#3026fe 52%,#2729ff 57%,#212fff 63%,#1d33ff 70%,#1b35ff 78%,#1839ff 86%,#173fff 93%,#1644ff 100%)"></i>
<i style="left:608px;width:1px;background:linear-gradient(#790ee2 0%,#790ee2 10%,#7a0ee1 20%,#780ee4 27%,#780fe5 33%,#6017f3 40%,#461ffa 47%,#3923fc 52%,#2928ff 57%,#1f31ff 63%,#1d33ff 70%,#1b35ff 78%,#1839ff 86%,#173bff 93%,#173cff 100%)"></i>
<i style="left:609px;width:1px;background:linear-gradient(#7b0ddd 0%,#7b0ddd 10%,#7b0ddd 20%,#7a0de0 27%,#780ee4 33%,#6217f2 40%,#491ff9 47%,#3f22fb 52%,#3425fd 57%,#2828ff 63%,#262aff 70%,#242cff 78%,#242cff 86%,#242cff 93%,#252bff 100%)"></i>
<i style="left:610px;width:1px;background:linear-gradient(#7d0cd9 0%,#7c0cdb 10%,#7c0cdc 20%,#790ee1 27%,#7710e8 33%,#6017f3 40%,#4b1ef9 47%,#4620fa 52%,#4021fb 57%,#3524fd 63%,#3823fc 70%,#3325fd 78%,#2d27fe 86%,#2828ff 93%,#2a28ff 100%)"></i>
<i style="left:611px;width:1px;background:linear-gradient(#7a0de0 0%,#780ee4 10%,#780fe5 20%,#7211eb 27%,#6f12ed 33%,#5e18f3 40%,#4f1df8 47%,#4420fa 52%,#4221fb 57%,#3524fd 63%,#2c27fe 70%,#252bff 78%,#232dff 86%,#1f31ff 93%,#1f31ff 100%)"></i>
<i style="left:612px;width:1px;background:linear-gradient(#770fe7 0%,#770fe8 10%,#7610e9 20%,#7012ec 27%,#7012ec 33%,#6017f3 40%,#4e1df9 47%,#4520fa 52%,#4121fb 57%,#3724fc 63%,#3824fc 70%,#3425fd 78%,#3225fd 86%,#2d27fe 93%,#2e26fe 100%)"></i>
<i style="left:613px;width:1px;background:linear-gradient(#7d0bd8 0%,#7d0cd9 10%,#7f0ad4 20%,#7e0bd6 27%,#7d0bd9 33%,#7a0ee1 40%,#7710e9 47%,#6c13ee 52%,#6615f0 57%,#5c19f4 63%,#531cf8 70%,#4a1ef9 78%,#471ffa 86%,#4520fa 93%,#461ffa 100%)"></i>
<i style="left:614px;width:1px;background:linear-gradient(#780fe5 0%,#780fe5 10%,#770fe7 20%,#7710e8 27%,#7610ea 33%,#6c13ee 40%,#5e18f3 47%,#5a19f5 52%,#4e1df9 57%,#4420fa 63%,#3f21fb 70%,#3a23fc 78%,#3425fd 86%,#3325fd 93%,#3325fd 100%)"></i>
<i style="left:615px;width:1px;background:linear-gradient(#7b0dde 0%,#7a0ddf 10%,#790ee2 20%,#780fe5 27%,#770fe8 33%,#6c13ee 40%,#6217f2 47%,#5e18f3 52%,#551bf7 57%,#4e1df9 63%,#4c1ef9 70%,#4221fb 78%,#3c22fc 86%,#3824fc 93%,#3724fc 100%)"></i>
<i style="left:616px;width:1px;background:linear-gradient(#7610ea 0%,#7510ea 10%,#7311eb 20%,#7012ec 27%,#6d13ed 33%,#6615f0 40%,#571af6 47%,#511cf8 52%,#461ffa 57%,#3e22fb 63%,#3524fd 70%,#3125fd 78%,#2d27fe 86%,#2b27ff 93%,#2b27ff 100%)"></i>
<i style="left:617px;width:1px;background:linear-gradient(#7f0ad5 0%,#7e0bd7 10%,#7d0bd9 20%,#7a0ee1 27%,#790ee3 33%,#7211ec 40%,#6516f1 47%,#5f18f3 52%,#5e18f3 57%,#581af6 63%,#581af6 70%,#581af6 78%,#541bf7 86%,#501df8 93%,#4e1df9 100%)"></i>
<i style="left:618px;width:1px;background:linear-gradient(#780ee4 0%,#7a0de0 10%,#7a0ee1 20%,#790ee3 27%,#780fe5 33%,#6e13ed 40%,#5f18f3 47%,#5e18f3 52%,#5d18f4 57%,#551bf7 63%,#551bf7 70%,#521cf8 78%,#4a1ef9 86%,#4021fb 93%,#3f22fb 100%)"></i>
<i style="left:619px;width:1px;background:linear-gradient(#6b14ee 0%,#6e13ed 10%,#7112ec 20%,#7012ec 27%,#6c13ee 33%,#6217f2 40%,#5a19f5 47%,#561bf6 52%,#531cf8 57%,#4b1ef9 63%,#4220fb 70%,#3524fd 78%,#3126fe 86%,#2e26fe 93%,#3325fd 100%)"></i>
<i style="left:620px;width:1px;background:linear-gradient(#770fe8 0%,#7610e9 10%,#7610ea 20%,#7510eb 27%,#7211ec 33%,#6914ef 40%,#5e18f3 47%,#561bf6 52%,#4f1df8 57%,#4d1df9 63%,#4c1ef9 70%,#4b1ef9 78%,#481ffa 86%,#4320fa 93%,#3f22fb 100%)"></i>
<i style="left:621px;width:1px;background:linear-gradient(#7d0bd8 0%,#7d0cd9 10%,#7c0cdb 20%,#7a0de0 27%,#770fe7 33%,#7012ec 40%,#6715f0 47%,#6416f1 52%,#5f18f3 57%,#591af5 63%,#581af6 70%,#531cf8 78%,#4b1ef9 86%,#491ff9 93%,#4a1ef9 100%)"></i>
<i style="left:622px;width:1px;background:linear-gradient(#7d0bd8 0%,#7c0cdc 10%,#7c0cdb 20%,#790ee1 27%,#790ee1 33%,#7610e9 40%,#6f12ed 47%,#6914ef 52%,#6615f0 57%,#5f18f3 63%,#5b19f4 70%,#531cf8 78%,#491ff9 86%,#4221fb 93%,#4021fb 100%)"></i>
<i style="left:623px;width:1px;background:linear-gradient(#7610e9 0%,#7610e9 10%,#7610ea 20%,#7311eb 27%,#7211ec 33%,#6d13ee 40%,#6416f1 47%,#6017f3 52%,#5a19f5 57%,#521cf8 63%,#4c1ef9 70%,#481ffa 78%,#4021fb 86%,#3a23fc 93%,#3c22fc 100%)"></i>
<i style="left:624px;width:1px;background:linear-gradient(#790ee4 0%,#780fe5 10%,#790ee3 20%,#780fe5 27%,#770fe7 33%,#6f12ed 40%,#6316f1 47%,#5a19f5 52%,#531cf8 57%,#4b1ef9 63%,#491ffa 70%,#471ffa 78%,#4121fb 86%,#3923fc 93%,#3c22fc 100%)"></i>
<i style="left:625px;width:1px;background:linear-gradient(#780fe5 0%,#790ee3 10%,#790ee2 20%,#790ee3 27%,#770fe7 33%,#6c13ee 40%,#6117f2 47%,#5d18f4 52%,#541bf7 57%,#4c1ef9 63%,#491ff9 70%,#4420fa 78%,#3923fc 86%,#3325fd 93%,#3026fe 100%)"></i>
<i style="left:626px;width:1px;background:linear-gradient(#7f0ad5 0%,#7e0bd6 10%,#7c0cda 20%,#7a0de0 27%,#7a0de0 33%,#7411eb 40%,#6516f0 47%,#5d18f4 52%,#571af6 57%,#4e1df9 63%,#4b1ef9 70%,#4d1df9 78%,#491ef9 86%,#4420fa 93%,#461ffa 100%)"></i>
<i style="left:627px;width:1px;background:linear-gradient(#7112ec 0%,#7311eb 10%,#7610ea 20%,#7211eb 27%,#7112ec 33%,#6914ef 40%,#5c19f4 47%,#521cf8 52%,#4c1ef9 57%,#4221fb 63%,#3f21fb 70%,#3823fc 78%,#3125fd 86%,#2c27fe 93%,#2f26fe 100%)"></i>
<i style="left:628px;width:1px;background:linear-gradient(#7a0de0 0%,#790ee2 10%,#790ee4 20%,#7710e9 27%,#7610ea 33%,#6e13ed 40%,#6117f2 47%,#551bf7 52%,#4b1ef9 57%,#4121fb 63%,#3b23fc 70%,#3923fc 78%,#3524fd 86%,#3225fd 93%,#3425fd 100%)"></i>
<i style="left:629px;width:1px;background:linear-gradient(#7a0ddf 0%,#7b0cdc 10%,#7c0cda 20%,#7c0cda 27%,#7c0cdc 33%,#7710e8 40%,#6a14ef 47%,#5e18f3 52%,#501df8 57%,#4620fa 63%,#4620fa 70%,#4021fb 78%,#3824fc 86%,#3125fe 93%,#2e26fe 100%)"></i>
<i style="left:630px;width:1px;background:linear-gradient(#8109cf 0%,#7f0ad3 10%,#7e0ad5 20%,#7d0bd8 27%,#7d0bd9 33%,#790ee3 40%,#7610e9 47%,#6c13ee 52%,#5e18f3 57%,#4f1df9 63%,#4a1ef9 70%,#481ffa 78%,#4121fb 86%,#3c22fc 93%,#3e22fb 100%)"></i>
<i style="left:631px;width:1px;background:linear-gradient(#780fe5 0%,#770fe7 10%,#7510ea 20%,#7211eb 27%,#6e13ed 33%,#6416f1 40%,#5b19f5 47%,#571af6 52%,#491ef9 57%,#4221fb 63%,#4221fb 70%,#3823fc 78%,#2d26fe 86%,#2a27ff 93%,#2a27ff 100%)"></i>
<i style="left:632px;width:1px;background:linear-gradient(#780ee4 0%,#790ee3 10%,#7a0ee1 20%,#7a0ee1 27%,#790ee3 33%,#7012ec 40%,#6416f1 47%,#581af6 52%,#4b1ef9 57%,#4021fb 63%,#3d22fb 70%,#3b22fc 78%,#3724fc 86%,#3425fd 93%,#3624fd 100%)"></i>
<i style="left:633px;width:1px;background:linear-gradient(#7510ea 0%,#7411eb 10%,#770fe8 20%,#7510ea 27%,#7411eb 33%,#6615f0 40%,#5a19f5 47%,#4e1df9 52%,#4520fa 57%,#3c22fc 63%,#3d22fc 70%,#3d22fc 78%,#3724fd 86%,#3425fd 93%,#3225fd 100%)"></i>
<i style="left:634px;width:1px;background:linear-gradient(#6c13ee 0%,#6d13ed 10%,#6f12ed 20%,#7211ec 27%,#6d13ed 33%,#6217f2 40%,#531cf8 47%,#4d1df9 52%,#4320fb 57%,#3b22fc 63%,#3a23fc 70%,#3923fc 78%,#3026fe 86%,#2828ff 93%,#2a27ff 100%)"></i>
<i style="left:635px;width:1px;background:linear-gradient(#7d0bd9 0%,#7d0bd8 10%,#7d0cd9 20%,#7b0ddd 27%,#780ee4 33%,#6b14ee 40%,#5c19f4 47%,#541bf7 52%,#4d1df9 57%,#471ffa 63%,#461ffa 70%,#3d22fb 78%,#3425fd 86%,#2b27fe 93%,#2729ff 100%)"></i>
<i style="left:636px;width:1px;background:linear-gradient(#780fe6 0%,#7311eb 10%,#6b14ee 20%,#6217f2 27%,#571af6 33%,#4a1ef9 40%,#3724fd 47%,#2f26fe 52%,#252bff 57%,#2030ff 63%,#1c34ff 70%,#1a36ff 78%,#173cff 86%,#173eff 93%,#173cff 100%)"></i>
<i style="left:637px;width:1px;background:linear-gradient(#5b19f4 0%,#571cf5 10%,#541df6 20%,#501ff8 27%,#4e1ff8 33%,#3f25fb 40%,#2b2bfe 47%,#252fff 52%,#1d37fe 57%,#173dfd 63%,#1545fb 70%,#144efa 78%,#1359fa 86%,#135ff9 93%,#1364f9 100%)"></i>
<i style="left:638px;width:1px;background:linear-gradient(#4624f9 0%,#4227fa 10%,#3d2bfb 20%,#3531fc 27%,#2f36fd 33%,#233fff 40%,#1a4bfe 47%,#1554fc 52%,#135ef9 57%,#116af2 63%,#0f74e9 70%,#0d80e1 78%,#128cdf 86%,#1699dd 93%,#1a9fdc 100%)"></i>
<i style="left:639px;width:1px;background:linear-gradient(#2736fe 0%,#233efe 10%,#1d46ff 20%,#1a56ff 27%,#1767ff 33%,#1478ff 40%,#108ffc 47%,#0b9df7 52%,#08aceb 57%,#08b8d3 63%,#08c4b9 70%,#08ce9d 78%,#17d697 86%,#24dc92 93%,#31e08c 100%)"></i>
<i style="left:640px;width:1px;background:linear-gradient(#1844ff 0%,#1652ff 10%,#1260ff 20%,#1279ff 27%,#1192ff 33%,#11a9ff 40%,#0dc5f9 47%,#06d6f0 52%,#01e5db 57%,#01ebb0 63%,#01f280 70%,#01f94e 78%,#1dfa42 86%,#34fb39 93%,#4bfb30 100%)"></i>
<i style="left:641px;width:1px;background:linear-gradient(#1844ff 0%,#1552ff 10%,#1260ff 20%,#1179ff 27%,#1192ff 33%,#10aaff 40%,#0dc5f9 47%,#06d6f0 52%,#01e4db 57%,#01eab0 63%,#01f180 70%,#01f84e 78%,#1dfa42 86%,#34fb39 93%,#4bfc2f 100%)"></i>
<i style="left:642px;width:1px;background:linear-gradient(#2736fe 0%,#243dfe 10%,#2046ff 20%,#1c55ff 27%,#1965ff 33%,#1674ff 40%,#1187fc 47%,#0d96f7 52%,#09a2eb 57%,#08aad3 63%,#08b3b9 70%,#08c09d 78%,#17c797 86%,#24cd92 93%,#31d18c 100%)"></i>
<i style="left:643px;width:1px;background:linear-gradient(#5020f7 0%,#4a24f8 10%,#4329fa 20%,#3c2ffb 27%,#3635fc 33%,#313afc 40%,#2841fd 47%,#2147fc 52%,#1c4df9 57%,#1851f2 63%,#1459e9 70%,#1361e1 78%,#1667df 86%,#196ddd 93%,#1c74dc 100%)"></i>
<i style="left:644px;width:1px;background:linear-gradient(#591af4 0%,#591bf4 10%,#551cf6 20%,#4f1ff8 27%,#4c20f9 33%,#4b21f9 40%,#4624fa 47%,#4125fb 52%,#3d27fa 57%,#3729fa 63%,#2e2cfa 70%,#2530fa 78%,#2333fa 86%,#2136f9 93%,#1f37f9 100%)"></i>
<i style="left:645px;width:1px;background:linear-gradient(#7311eb 0%,#7112ec 10%,#7112ec 20%,#6e13ed 27%,#6914ef 33%,#6615f0 40%,#6516f0 47%,#5c19f4 52%,#591af5 57%,#511cf8 63%,#4f1df8 70%,#4c1ef9 78%,#491ffa 86%,#4320fa 93%,#4420fa 100%)"></i>
<i style="left:646px;width:1px;background:linear-gradient(#770fe8 0%,#7710e8 10%,#770fe7 20%,#770fe8 27%,#770fe6 33%,#7710e8 40%,#770fe7 47%,#7211eb 52%,#6e13ed 57%,#6715f0 63%,#6815ef 70%,#6516f1 78%,#6117f2 86%,#5e18f3 93%,#5e18f3 100%)"></i>
<i style="left:647px;width:1px;background:linear-gradient(#7c0cda 0%,#7d0bd9 10%,#7d0bd9 20%,#7c0cda 27%,#7d0bd9 33%,#7c0cdb 40%,#7b0ddf 47%,#7a0ee1 52%,#790ee3 57%,#780fe5 63%,#780fe5 70%,#790ee3 78%,#7710e9 86%,#7411eb 93%,#7211ec 100%)"></i>
<i style="left:648px;width:1px;background:linear-gradient(#8009d1 0%,#8009d1 10%,#7f0ad3 20%,#7f0ad4 27%,#7d0bd9 33%,#7c0cdb 40%,#7b0dde 47%,#7b0dde 52%,#7a0ddf 57%,#790ee1 63%,#7a0de1 70%,#7c0cdc 78%,#7a0ddf 86%,#790ee3 93%,#7b0dde 100%)"></i>
<i style="left:649px;width:1px;background:linear-gradient(#790ee2 0%,#7a0de0 10%,#7a0ddf 20%,#7a0de0 27%,#7a0ddf 33%,#7a0ddf 40%,#7a0ee1 47%,#790ee2 52%,#790ee3 57%,#780fe5 63%,#780ee4 70%,#770fe7 78%,#7610ea 86%,#7411eb 93%,#7710e9 100%)"></i>
<i style="left:650px;width:1px;background:linear-gradient(#7a0ddf 0%,#7b0dde 10%,#7b0cdd 20%,#7c0cda 27%,#7c0cdb 33%,#7c0cdb 40%,#7c0cda 47%,#7c0cda 52%,#7b0dde 57%,#7a0ddf 63%,#7b0ddd 70%,#7c0cdb 78%,#790ee2 86%,#780fe5 93%,#770fe7 100%)"></i>
<i style="left:651px;width:1px;background:linear-gradient(#7d0bd8 0%,#7e0ad5 10%,#7f0ad4 20%,#8009d2 27%,#7e0ad5 33%,#7d0bd9 40%,#7d0bd8 47%,#7d0cd9 52%,#7c0cdc 57%,#7c0cdc 63%,#7e0bd6 70%,#7c0cda 78%,#7b0ddd 86%,#7a0ddf 93%,#7a0ddf 100%)"></i>
<i style="left:652px;width:1px;background:linear-gradient(#8208c7 0%,#8208c7 10%,#8208c9 20%,#8208ca 27%,#8208cb 33%,#8208cb 40%,#8208cd 47%,#8208cc 52%,#8109ce 57%,#8009d0 63%,#800ad2 70%,#8109cf 78%,#7e0bd6 86%,#7c0cdb 93%,#7b0ddd 100%)"></i>
<i style="left:653px;width:1px;background:linear-gradient(#7f0ad4 0%,#7f0ad5 10%,#7e0bd7 20%,#7e0bd6 27%,#7e0bd7 33%,#7e0bd6 40%,#7f0ad3 47%,#7e0bd6 52%,#7c0cda 57%,#7a0ddf 63%,#7b0ddf 70%,#790ee2 78%,#780fe6 86%,#7710e9 93%,#7710e8 100%)"></i>
<i style="left:654px;width:1px;background:linear-gradient(#8208ca 0%,#8208cd 10%,#8108ce 20%,#8009d0 27%,#8009d1 33%,#8009d1 40%,#8109ce 47%,#8108ce 52%,#8208cc 57%,#8208cd 63%,#8108cd 70%,#8109cf 78%,#7f0ad3 86%,#7e0bd6 93%,#7e0ad5 100%)"></i>
<i style="left:655px;width:1px;background:linear-gradient(#8109ce 0%,#8108cd 10%,#8009d0 20%,#8009d0 27%,#7e0bd6 33%,#7d0bd7 40%,#7d0bd8 47%,#7c0cdc 52%,#7b0dde 57%,#7c0cdc 63%,#7d0bd8 70%,#7d0cda 78%,#7b0dde 86%,#780ee4 93%,#770fe7 100%);opacity:0.50"></i>
<svg width="685" height="372" viewBox="0 0 685 372">
<line x1="38.2" y1="141.2" x2="39.5" y2="141.2" stroke="#444" stroke-width="0.8"/>
<line x1="37.0" y1="129.6" x2="39.5" y2="129.6" stroke="#444" stroke-width="0.8"/>
<text stroke="#000" stroke-width="0.22" transform="translate(35.3,133.3) scale(1,1.05)" font-size="11" text-anchor="end" fill="#000" >50</text>
<line x1="38.2" y1="118.0" x2="39.5" y2="118.0" stroke="#444" stroke-width="0.8"/>
<line x1="37.0" y1="106.4" x2="39.5" y2="106.4" stroke="#444" stroke-width="0.8"/>
<text stroke="#000" stroke-width="0.22" transform="translate(35.3,110.1) scale(1,1.05)" font-size="11" text-anchor="end" fill="#000" >100</text>
<line x1="38.2" y1="94.8" x2="39.5" y2="94.8" stroke="#444" stroke-width="0.8"/>
<line x1="37.0" y1="83.2" x2="39.5" y2="83.2" stroke="#444" stroke-width="0.8"/>
<text stroke="#000" stroke-width="0.22" transform="translate(35.3,86.9) scale(1,1.05)" font-size="11" text-anchor="end" fill="#000" >150</text>
<line x1="38.2" y1="71.6" x2="39.5" y2="71.6" stroke="#444" stroke-width="0.8"/>
<line x1="37.0" y1="60.0" x2="39.5" y2="60.0" stroke="#444" stroke-width="0.8"/>
<text stroke="#000" stroke-width="0.22" transform="translate(35.3,63.7) scale(1,1.05)" font-size="11" text-anchor="end" fill="#000" >200</text>
<line x1="38.2" y1="48.4" x2="39.5" y2="48.4" stroke="#444" stroke-width="0.8"/>
<line x1="37.0" y1="36.8" x2="39.5" y2="36.8" stroke="#444" stroke-width="0.8"/>
<text stroke="#000" stroke-width="0.22" transform="translate(35.3,40.5) scale(1,1.05)" font-size="11" text-anchor="end" fill="#000" >250</text>
<line x1="38.2" y1="25.2" x2="39.5" y2="25.2" stroke="#444" stroke-width="0.8"/>
<line x1="37.0" y1="13.6" x2="39.5" y2="13.6" stroke="#444" stroke-width="0.8"/>
<text stroke="#000" stroke-width="0.22" transform="translate(35.3,17.3) scale(1,1.05)" font-size="11" text-anchor="end" fill="#000" >300</text>
<line x1="38.2" y1="2.0" x2="39.5" y2="2.0" stroke="#444" stroke-width="0.8"/>
<line x1="48.1" y1="150.5" x2="48.1" y2="152.5" stroke="#444" stroke-width="0.8"/>
<text stroke="#000" stroke-width="0.22" transform="translate(48.1,163.9) scale(1,1.05)" font-size="11" text-anchor="middle" fill="#000" >100</text>
<line x1="58.5" y1="150.5" x2="58.5" y2="151.7" stroke="#444" stroke-width="0.8"/>
<line x1="69.0" y1="150.5" x2="69.0" y2="152.5" stroke="#444" stroke-width="0.8"/>
<text stroke="#000" stroke-width="0.22" transform="translate(69.0,163.9) scale(1,1.05)" font-size="11" text-anchor="middle" fill="#000" >200</text>
<line x1="79.4" y1="150.5" x2="79.4" y2="151.7" stroke="#444" stroke-width="0.8"/>
<line x1="89.8" y1="150.5" x2="89.8" y2="152.5" stroke="#444" stroke-width="0.8"/>
<text stroke="#000" stroke-width="0.22" transform="translate(89.8,163.9) scale(1,1.05)" font-size="11" text-anchor="middle" fill="#000" >300</text>
<line x1="100.2" y1="150.5" x2="100.2" y2="151.7" stroke="#444" stroke-width="0.8"/>
<line x1="110.7" y1="150.5" x2="110.7" y2="152.5" stroke="#444" stroke-width="0.8"/>
<text stroke="#000" stroke-width="0.22" transform="translate(110.7,163.9) scale(1,1.05)" font-size="11" text-anchor="middle" fill="#000" >400</text>
<line x1="121.1" y1="150.5" x2="121.1" y2="151.7" stroke="#444" stroke-width="0.8"/>
<line x1="131.5" y1="150.5" x2="131.5" y2="152.5" stroke="#444" stroke-width="0.8"/>
<text stroke="#000" stroke-width="0.22" transform="translate(131.5,163.9) scale(1,1.05)" font-size="11" text-anchor="middle" fill="#000" >500</text>
<line x1="141.9" y1="150.5" x2="141.9" y2="151.7" stroke="#444" stroke-width="0.8"/>
<line x1="152.3" y1="150.5" x2="152.3" y2="152.5" stroke="#444" stroke-width="0.8"/>
<text stroke="#000" stroke-width="0.22" transform="translate(152.3,163.9) scale(1,1.05)" font-size="11" text-anchor="middle" fill="#000" >600</text>
<line x1="162.8" y1="150.5" x2="162.8" y2="151.7" stroke="#444" stroke-width="0.8"/>
<line x1="173.2" y1="150.5" x2="173.2" y2="152.5" stroke="#444" stroke-width="0.8"/>
<text stroke="#000" stroke-width="0.22" transform="translate(173.2,163.9) scale(1,1.05)" font-size="11" text-anchor="middle" fill="#000" >700</text>
<line x1="183.6" y1="150.5" x2="183.6" y2="151.7" stroke="#444" stroke-width="0.8"/>
<line x1="194.0" y1="150.5" x2="194.0" y2="152.5" stroke="#444" stroke-width="0.8"/>
<text stroke="#000" stroke-width="0.22" transform="translate(194.0,163.9) scale(1,1.05)" font-size="11" text-anchor="middle" fill="#000" >800</text>
<line x1="204.5" y1="150.5" x2="204.5" y2="151.7" stroke="#444" stroke-width="0.8"/>
<text stroke="#000" stroke-width="0.22" x="125.1" y="179.4" font-size="12.7" text-anchor="middle" fill="#000" >Raman Shift (cm<tspan font-size="8.5" dy="-4.5">-1</tspan><tspan dy="4.5">)</tspan></text>
<text stroke="#000" stroke-width="0.22" transform="translate(14.0,70.0) rotate(-90)" font-size="13" text-anchor="middle" x="0" y="0">Temperature (K)</text>
<line x1="39.6" y1="83.0" x2="212.0" y2="83.0" stroke="#e0204a" stroke-width="1.8" stroke-dasharray="4.5 3.47"/>
<line x1="259.9" y1="141.2" x2="261.2" y2="141.2" stroke="#444" stroke-width="0.8"/>
<line x1="258.7" y1="129.6" x2="261.2" y2="129.6" stroke="#444" stroke-width="0.8"/>
<text stroke="#000" stroke-width="0.22" transform="translate(257.0,133.3) scale(1,1.05)" font-size="11" text-anchor="end" fill="#000" >50</text>
<line x1="259.9" y1="118.0" x2="261.2" y2="118.0" stroke="#444" stroke-width="0.8"/>
<line x1="258.7" y1="106.4" x2="261.2" y2="106.4" stroke="#444" stroke-width="0.8"/>
<text stroke="#000" stroke-width="0.22" transform="translate(257.0,110.1) scale(1,1.05)" font-size="11" text-anchor="end" fill="#000" >100</text>
<line x1="259.9" y1="94.8" x2="261.2" y2="94.8" stroke="#444" stroke-width="0.8"/>
<line x1="258.7" y1="83.2" x2="261.2" y2="83.2" stroke="#444" stroke-width="0.8"/>
<text stroke="#000" stroke-width="0.22" transform="translate(257.0,86.9) scale(1,1.05)" font-size="11" text-anchor="end" fill="#000" >150</text>
<line x1="259.9" y1="71.6" x2="261.2" y2="71.6" stroke="#444" stroke-width="0.8"/>
<line x1="258.7" y1="60.0" x2="261.2" y2="60.0" stroke="#444" stroke-width="0.8"/>
<text stroke="#000" stroke-width="0.22" transform="translate(257.0,63.7) scale(1,1.05)" font-size="11" text-anchor="end" fill="#000" >200</text>
<line x1="259.9" y1="48.4" x2="261.2" y2="48.4" stroke="#444" stroke-width="0.8"/>
<line x1="258.7" y1="36.8" x2="261.2" y2="36.8" stroke="#444" stroke-width="0.8"/>
<text stroke="#000" stroke-width="0.22" transform="translate(257.0,40.5) scale(1,1.05)" font-size="11" text-anchor="end" fill="#000" >250</text>
<line x1="259.9" y1="25.2" x2="261.2" y2="25.2" stroke="#444" stroke-width="0.8"/>
<line x1="258.7" y1="13.6" x2="261.2" y2="13.6" stroke="#444" stroke-width="0.8"/>
<text stroke="#000" stroke-width="0.22" transform="translate(257.0,17.3) scale(1,1.05)" font-size="11" text-anchor="end" fill="#000" >300</text>
<line x1="259.9" y1="2.0" x2="261.2" y2="2.0" stroke="#444" stroke-width="0.8"/>
<line x1="269.8" y1="150.5" x2="269.8" y2="152.5" stroke="#444" stroke-width="0.8"/>
<text stroke="#000" stroke-width="0.22" transform="translate(269.8,163.9) scale(1,1.05)" font-size="11" text-anchor="middle" fill="#000" >100</text>
<line x1="280.2" y1="150.5" x2="280.2" y2="151.7" stroke="#444" stroke-width="0.8"/>
<line x1="290.7" y1="150.5" x2="290.7" y2="152.5" stroke="#444" stroke-width="0.8"/>
<text stroke="#000" stroke-width="0.22" transform="translate(290.7,163.9) scale(1,1.05)" font-size="11" text-anchor="middle" fill="#000" >200</text>
<line x1="301.1" y1="150.5" x2="301.1" y2="151.7" stroke="#444" stroke-width="0.8"/>
<line x1="311.5" y1="150.5" x2="311.5" y2="152.5" stroke="#444" stroke-width="0.8"/>
<text stroke="#000" stroke-width="0.22" transform="translate(311.5,163.9) scale(1,1.05)" font-size="11" text-anchor="middle" fill="#000" >300</text>
<line x1="321.9" y1="150.5" x2="321.9" y2="151.7" stroke="#444" stroke-width="0.8"/>
<line x1="332.4" y1="150.5" x2="332.4" y2="152.5" stroke="#444" stroke-width="0.8"/>
<text stroke="#000" stroke-width="0.22" transform="translate(332.4,163.9) scale(1,1.05)" font-size="11" text-anchor="middle" fill="#000" >400</text>
<line x1="342.8" y1="150.5" x2="342.8" y2="151.7" stroke="#444" stroke-width="0.8"/>
<line x1="353.2" y1="150.5" x2="353.2" y2="152.5" stroke="#444" stroke-width="0.8"/>
<text stroke="#000" stroke-width="0.22" transform="translate(353.2,163.9) scale(1,1.05)" font-size="11" text-anchor="middle" fill="#000" >500</text>
<line x1="363.6" y1="150.5" x2="363.6" y2="151.7" stroke="#444" stroke-width="0.8"/>
<line x1="374.1" y1="150.5" x2="374.1" y2="152.5" stroke="#444" stroke-width="0.8"/>
<text stroke="#000" stroke-width="0.22" transform="translate(374.1,163.9) scale(1,1.05)" font-size="11" text-anchor="middle" fill="#000" >600</text>
<line x1="384.5" y1="150.5" x2="384.5" y2="151.7" stroke="#444" stroke-width="0.8"/>
<line x1="394.9" y1="150.5" x2="394.9" y2="152.5" stroke="#444" stroke-width="0.8"/>
<text stroke="#000" stroke-width="0.22" transform="translate(394.9,163.9) scale(1,1.05)" font-size="11" text-anchor="middle" fill="#000" >700</text>
<line x1="405.3" y1="150.5" x2="405.3" y2="151.7" stroke="#444" stroke-width="0.8"/>
<line x1="415.8" y1="150.5" x2="415.8" y2="152.5" stroke="#444" stroke-width="0.8"/>
<text stroke="#000" stroke-width="0.22" transform="translate(415.8,163.9) scale(1,1.05)" font-size="11" text-anchor="middle" fill="#000" >800</text>
<line x1="426.2" y1="150.5" x2="426.2" y2="151.7" stroke="#444" stroke-width="0.8"/>
<text stroke="#000" stroke-width="0.22" x="352.0" y="179.4" font-size="12.7" text-anchor="middle" fill="#000" >Raman Shift (cm<tspan font-size="8.5" dy="-4.5">-1</tspan><tspan dy="4.5">)</tspan></text>
<text stroke="#000" stroke-width="0.22" transform="translate(235.7,74.5) rotate(-90)" font-size="13" text-anchor="middle" x="0" y="0">Temperature (K)</text>
<line x1="261.3" y1="83.0" x2="433.8" y2="83.0" stroke="#e0204a" stroke-width="1.8" stroke-dasharray="4.5 3.47"/>
<line x1="482.4" y1="141.2" x2="483.7" y2="141.2" stroke="#444" stroke-width="0.8"/>
<line x1="481.2" y1="129.6" x2="483.7" y2="129.6" stroke="#444" stroke-width="0.8"/>
<text stroke="#000" stroke-width="0.22" transform="translate(479.5,133.3) scale(1,1.05)" font-size="11" text-anchor="end" fill="#000" >50</text>
<line x1="482.4" y1="118.0" x2="483.7" y2="118.0" stroke="#444" stroke-width="0.8"/>
<line x1="481.2" y1="106.4" x2="483.7" y2="106.4" stroke="#444" stroke-width="0.8"/>
<text stroke="#000" stroke-width="0.22" transform="translate(479.5,110.1) scale(1,1.05)" font-size="11" text-anchor="end" fill="#000" >100</text>
<line x1="482.4" y1="94.8" x2="483.7" y2="94.8" stroke="#444" stroke-width="0.8"/>
<line x1="481.2" y1="83.2" x2="483.7" y2="83.2" stroke="#444" stroke-width="0.8"/>
<text stroke="#000" stroke-width="0.22" transform="translate(479.5,86.9) scale(1,1.05)" font-size="11" text-anchor="end" fill="#000" >150</text>
<line x1="482.4" y1="71.6" x2="483.7" y2="71.6" stroke="#444" stroke-width="0.8"/>
<line x1="481.2" y1="60.0" x2="483.7" y2="60.0" stroke="#444" stroke-width="0.8"/>
<text stroke="#000" stroke-width="0.22" transform="translate(479.5,63.7) scale(1,1.05)" font-size="11" text-anchor="end" fill="#000" >200</text>
<line x1="482.4" y1="48.4" x2="483.7" y2="48.4" stroke="#444" stroke-width="0.8"/>
<line x1="481.2" y1="36.8" x2="483.7" y2="36.8" stroke="#444" stroke-width="0.8"/>
<text stroke="#000" stroke-width="0.22" transform="translate(479.5,40.5) scale(1,1.05)" font-size="11" text-anchor="end" fill="#000" >250</text>
<line x1="482.4" y1="25.2" x2="483.7" y2="25.2" stroke="#444" stroke-width="0.8"/>
<line x1="481.2" y1="13.6" x2="483.7" y2="13.6" stroke="#444" stroke-width="0.8"/>
<text stroke="#000" stroke-width="0.22" transform="translate(479.5,17.3) scale(1,1.05)" font-size="11" text-anchor="end" fill="#000" >300</text>
<line x1="482.4" y1="2.0" x2="483.7" y2="2.0" stroke="#444" stroke-width="0.8"/>
<line x1="492.3" y1="150.5" x2="492.3" y2="152.5" stroke="#444" stroke-width="0.8"/>
<text stroke="#000" stroke-width="0.22" transform="translate(492.3,163.9) scale(1,1.05)" font-size="11" text-anchor="middle" fill="#000" >100</text>
<line x1="502.7" y1="150.5" x2="502.7" y2="151.7" stroke="#444" stroke-width="0.8"/>
<line x1="513.1" y1="150.5" x2="513.1" y2="152.5" stroke="#444" stroke-width="0.8"/>
<text stroke="#000" stroke-width="0.22" transform="translate(513.1,163.9) scale(1,1.05)" font-size="11" text-anchor="middle" fill="#000" >200</text>
<line x1="523.6" y1="150.5" x2="523.6" y2="151.7" stroke="#444" stroke-width="0.8"/>
<line x1="534.0" y1="150.5" x2="534.0" y2="152.5" stroke="#444" stroke-width="0.8"/>
<text stroke="#000" stroke-width="0.22" transform="translate(534.0,163.9) scale(1,1.05)" font-size="11" text-anchor="middle" fill="#000" >300</text>
<line x1="544.4" y1="150.5" x2="544.4" y2="151.7" stroke="#444" stroke-width="0.8"/>
<line x1="554.9" y1="150.5" x2="554.9" y2="152.5" stroke="#444" stroke-width="0.8"/>
<text stroke="#000" stroke-width="0.22" transform="translate(554.9,163.9) scale(1,1.05)" font-size="11" text-anchor="middle" fill="#000" >400</text>
<line x1="565.3" y1="150.5" x2="565.3" y2="151.7" stroke="#444" stroke-width="0.8"/>
<line x1="575.7" y1="150.5" x2="575.7" y2="152.5" stroke="#444" stroke-width="0.8"/>
<text stroke="#000" stroke-width="0.22" transform="translate(575.7,163.9) scale(1,1.05)" font-size="11" text-anchor="middle" fill="#000" >500</text>
<line x1="586.1" y1="150.5" x2="586.1" y2="151.7" stroke="#444" stroke-width="0.8"/>
<line x1="596.5" y1="150.5" x2="596.5" y2="152.5" stroke="#444" stroke-width="0.8"/>
<text stroke="#000" stroke-width="0.22" transform="translate(596.5,163.9) scale(1,1.05)" font-size="11" text-anchor="middle" fill="#000" >600</text>
<line x1="607.0" y1="150.5" x2="607.0" y2="151.7" stroke="#444" stroke-width="0.8"/>
<line x1="617.4" y1="150.5" x2="617.4" y2="152.5" stroke="#444" stroke-width="0.8"/>
<text stroke="#000" stroke-width="0.22" transform="translate(617.4,163.9) scale(1,1.05)" font-size="11" text-anchor="middle" fill="#000" >700</text>
<line x1="627.8" y1="150.5" x2="627.8" y2="151.7" stroke="#444" stroke-width="0.8"/>
<line x1="638.2" y1="150.5" x2="638.2" y2="152.5" stroke="#444" stroke-width="0.8"/>
<text stroke="#000" stroke-width="0.22" transform="translate(638.2,163.9) scale(1,1.05)" font-size="11" text-anchor="middle" fill="#000" >800</text>
<line x1="648.7" y1="150.5" x2="648.7" y2="151.7" stroke="#444" stroke-width="0.8"/>
<text stroke="#000" stroke-width="0.22" x="577.0" y="179.4" font-size="12.7" text-anchor="middle" fill="#000" >Raman Shift (cm<tspan font-size="8.5" dy="-4.5">-1</tspan><tspan dy="4.5">)</tspan></text>
<text stroke="#000" stroke-width="0.22" transform="translate(459.5,69.8) rotate(-90)" font-size="13" text-anchor="middle" x="0" y="0">Temperature (K)</text>
<line x1="483.8" y1="83.0" x2="655.5" y2="83.0" stroke="#e0204a" stroke-width="1.8" stroke-dasharray="4.5 3.47"/>
<text stroke="#fff" stroke-width="0.22" transform="translate(42.6,15.6) scale(1,1.12)" font-size="15" text-anchor="start" fill="#fff" >(a)</text>
<text stroke="#fff" stroke-width="0.22" transform="translate(265.6,14.7) scale(1,1.12)" font-size="15" text-anchor="start" fill="#fff" >(b)</text>
<text stroke="#fff" stroke-width="0.22" transform="translate(485.3,15.2) scale(1,1.12)" font-size="15.6" text-anchor="start" fill="#fff" >(c)</text>
<text stroke="#fff" stroke-width="0.22" transform="translate(207.4,14.2) scale(1,1.12)" font-size="12.5" text-anchor="end" fill="#fff" >x=0.03</text>
<text stroke="#fff" stroke-width="0.22" transform="translate(431.5,14.2) scale(1,1.12)" font-size="12.5" text-anchor="end" fill="#fff" >x=0.06</text>
<text stroke="#fff" stroke-width="0.22" transform="translate(651.3,14.2) scale(1,1.12)" font-size="12.5" text-anchor="end" fill="#fff" >x=0.09</text>
<text stroke="#fff" stroke-width="0.22" transform="translate(57.9,51.8) scale(1,1.12)" font-size="12.5" fill="#fff">B<tspan font-size="8.5" dy="-5.8">2</tspan><tspan font-size="8.5" dy="8.4">g</tspan></text>
<text stroke="#fff" stroke-width="0.22" transform="translate(281.2,39.9) scale(1,1.12)" font-size="12.5" fill="#fff">B<tspan font-size="8.5" dy="-5.2">2</tspan><tspan font-size="8.5" dy="8.6">g</tspan></text>
<text stroke="#fff" stroke-width="0.22" transform="translate(503.8,37.8) scale(1,1.12)" font-size="12.5" fill="#fff">B<tspan font-size="8.5" dy="-5.7">2</tspan><tspan font-size="8.5" dy="8.9">g</tspan></text>
<text stroke="#fff" stroke-width="0.22" transform="translate(130.0,27.1) scale(1,1.12)" font-size="12.5" fill="#fff">B<tspan font-size="8.5" dy="-5.6">5</tspan><tspan font-size="8.5" dy="9.3">g</tspan></text>
<text stroke="#fff" stroke-width="0.22" transform="translate(352.2,30.1) scale(1,1.12)" font-size="11.5" fill="#fff" style="font-family:'Liberation Sans'">B<tspan font-size="8.0" dy="-4.9">5</tspan><tspan font-size="8.0" dy="8.9">g</tspan></text>
<text stroke="#fff" stroke-width="0.22" transform="translate(574.0,30.1) scale(1,1.12)" font-size="12.5" fill="#fff">B<tspan font-size="8.5" dy="-4.7">5</tspan><tspan font-size="8.5" dy="8.1">g</tspan></text>
<line x1="138.7" y1="27.9" x2="141.5" y2="35.9" stroke="#fff" stroke-width="1.1"/>
<polygon points="143.5,41.6 139.9,36.5 143.1,35.4" fill="#fff"/>
<line x1="360.4" y1="32.3" x2="363.1" y2="39.1" stroke="#fff" stroke-width="1.1"/>
<polygon points="365.3,44.7 361.5,39.7 364.7,38.5" fill="#fff"/>
<line x1="582.3" y1="32.5" x2="585.4" y2="40.5" stroke="#fff" stroke-width="1.1"/>
<polygon points="587.5,46.1 583.8,41.1 586.9,39.9" fill="#fff"/>
<text stroke="#fff" stroke-width="0.22" x="42.6" y="97.9" font-size="13.5" fill="#fff" font-style="italic">T<tspan font-size="8.3" dx="-0.9" dy="2.6" font-style="normal" style="font-weight:normal">N</tspan></text>
<text stroke="#fff" stroke-width="0.22" x="263.8" y="96.2" font-size="13.5" fill="#fff" font-style="italic">T<tspan font-size="8.3" dx="-0.9" dy="2.9" font-style="normal" style="font-weight:normal">N</tspan></text>
<text stroke="#fff" stroke-width="0.22" x="488.3" y="97.9" font-size="12.5" fill="#fff" font-style="italic" style="font-family:'Liberation Sans'">T<tspan font-size="8.5" dx="0.0" dy="2.9" font-style="normal" style="font-weight:normal">N</tspan></text>
<text stroke="#000" stroke-width="0.22" transform="translate(120.3,116.0) scale(1,1.12)" font-size="12" text-anchor="start" fill="#000" >2M</text>
<text stroke="#000" stroke-width="0.22" transform="translate(347.5,118.5) scale(1,1.12)" font-size="12" text-anchor="start" fill="#000" >2M</text>
<text stroke="#000" stroke-width="0.22" transform="translate(571.0,114.8) scale(1,1.12)" font-size="12" text-anchor="start" fill="#000" >2M</text>
<defs><linearGradient id="cb" x1="0" y1="1" x2="0" y2="0"><stop offset="0.000" stop-color="#580078"/><stop offset="0.084" stop-color="#6410e6"/><stop offset="0.160" stop-color="#1818ff"/><stop offset="0.260" stop-color="#00e8ff"/><stop offset="0.330" stop-color="#00ff50"/><stop offset="0.410" stop-color="#a0ff00"/><stop offset="0.490" stop-color="#ffff00"/><stop offset="0.580" stop-color="#ff8000"/><stop offset="0.650" stop-color="#ff0000"/><stop offset="0.810" stop-color="#ff0000"/><stop offset="1.000" stop-color="#4a0000"/></linearGradient></defs>
<rect x="660" y="15.2" width="19.5" height="124" fill="url(#cb)" stroke="#222" stroke-width="0.6"/>
<text stroke="#000" stroke-width="0.22" transform="translate(658.7,11.6) scale(1,1.12)" font-size="12.9" text-anchor="start" fill="#000" >High</text>
<text stroke="#000" stroke-width="0.22" transform="translate(659.0,151.0) scale(1,1.12)" font-size="12.9" text-anchor="start" fill="#000" >Low</text>
<rect x="114.2" y="190.9" width="8.5" height="151.1" fill="#ffff00"/>
<line x1="118.6" y1="192.8" x2="118.6" y2="342.0" stroke="#ff0000" stroke-width="1.9" stroke-dasharray="7.8 6.7"/>
<line x1="47.0" y1="342.0" x2="47.0" y2="345.7" stroke="#222" stroke-width="0.9"/>
<text stroke="#000" stroke-width="0.22" transform="translate(47.0,357.4) scale(1,1.05)" font-size="11" text-anchor="middle" fill="#000" >0</text>
<line x1="70.8" y1="342.0" x2="70.8" y2="343.6" stroke="#222" stroke-width="0.9"/>
<line x1="94.7" y1="342.0" x2="94.7" y2="345.7" stroke="#222" stroke-width="0.9"/>
<text stroke="#000" stroke-width="0.22" transform="translate(94.7,357.4) scale(1,1.05)" font-size="11" text-anchor="middle" fill="#000" >100</text>
<line x1="118.5" y1="342.0" x2="118.5" y2="343.6" stroke="#222" stroke-width="0.9"/>
<line x1="142.4" y1="342.0" x2="142.4" y2="345.7" stroke="#222" stroke-width="0.9"/>
<text stroke="#000" stroke-width="0.22" transform="translate(142.4,357.4) scale(1,1.05)" font-size="11" text-anchor="middle" fill="#000" >200</text>
<line x1="166.2" y1="342.0" x2="166.2" y2="343.6" stroke="#222" stroke-width="0.9"/>
<line x1="190.1" y1="342.0" x2="190.1" y2="345.7" stroke="#222" stroke-width="0.9"/>
<text stroke="#000" stroke-width="0.22" transform="translate(190.1,357.4) scale(1,1.05)" font-size="11" text-anchor="middle" fill="#000" >300</text>
<text stroke="#000" stroke-width="0.22" x="126.4" y="369.0" font-size="13" text-anchor="middle" fill="#000" >Temperature (K)</text>
<rect x="336.0" y="190.9" width="9.3" height="151.1" fill="#ffff00"/>
<line x1="340.6" y1="192.8" x2="340.6" y2="342.0" stroke="#ff0000" stroke-width="1.9" stroke-dasharray="7.8 6.7"/>
<line x1="268.7" y1="342.0" x2="268.7" y2="345.7" stroke="#222" stroke-width="0.9"/>
<text stroke="#000" stroke-width="0.22" transform="translate(268.7,357.4) scale(1,1.05)" font-size="11" text-anchor="middle" fill="#000" >0</text>
<line x1="292.6" y1="342.0" x2="292.6" y2="343.6" stroke="#222" stroke-width="0.9"/>
<line x1="316.4" y1="342.0" x2="316.4" y2="345.7" stroke="#222" stroke-width="0.9"/>
<text stroke="#000" stroke-width="0.22" transform="translate(316.4,357.4) scale(1,1.05)" font-size="11" text-anchor="middle" fill="#000" >100</text>
<line x1="340.2" y1="342.0" x2="340.2" y2="343.6" stroke="#222" stroke-width="0.9"/>
<line x1="364.1" y1="342.0" x2="364.1" y2="345.7" stroke="#222" stroke-width="0.9"/>
<text stroke="#000" stroke-width="0.22" transform="translate(364.1,357.4) scale(1,1.05)" font-size="11" text-anchor="middle" fill="#000" >200</text>
<line x1="387.9" y1="342.0" x2="387.9" y2="343.6" stroke="#222" stroke-width="0.9"/>
<line x1="411.8" y1="342.0" x2="411.8" y2="345.7" stroke="#222" stroke-width="0.9"/>
<text stroke="#000" stroke-width="0.22" transform="translate(411.8,357.4) scale(1,1.05)" font-size="11" text-anchor="middle" fill="#000" >300</text>
<text stroke="#000" stroke-width="0.22" x="341.5" y="369.0" font-size="13" text-anchor="middle" fill="#000" >Temperature (K)</text>
<rect x="557.3" y="190.9" width="9.5" height="151.1" fill="#ffff00"/>
<line x1="562.9" y1="192.8" x2="562.9" y2="342.0" stroke="#ff0000" stroke-width="1.9" stroke-dasharray="7.8 6.7"/>
<line x1="491.2" y1="342.0" x2="491.2" y2="345.7" stroke="#222" stroke-width="0.9"/>
<text stroke="#000" stroke-width="0.22" transform="translate(491.2,357.4) scale(1,1.05)" font-size="11" text-anchor="middle" fill="#000" >0</text>
<line x1="515.0" y1="342.0" x2="515.0" y2="343.6" stroke="#222" stroke-width="0.9"/>
<line x1="538.9" y1="342.0" x2="538.9" y2="345.7" stroke="#222" stroke-width="0.9"/>
<text stroke="#000" stroke-width="0.22" transform="translate(538.9,357.4) scale(1,1.05)" font-size="11" text-anchor="middle" fill="#000" >100</text>
<line x1="562.8" y1="342.0" x2="562.8" y2="343.6" stroke="#222" stroke-width="0.9"/>
<line x1="586.6" y1="342.0" x2="586.6" y2="345.7" stroke="#222" stroke-width="0.9"/>
<text stroke="#000" stroke-width="0.22" transform="translate(586.6,357.4) scale(1,1.05)" font-size="11" text-anchor="middle" fill="#000" >200</text>
<line x1="610.5" y1="342.0" x2="610.5" y2="343.6" stroke="#222" stroke-width="0.9"/>
<line x1="634.3" y1="342.0" x2="634.3" y2="345.7" stroke="#222" stroke-width="0.9"/>
<text stroke="#000" stroke-width="0.22" transform="translate(634.3,357.4) scale(1,1.05)" font-size="11" text-anchor="middle" fill="#000" >300</text>
<text stroke="#000" stroke-width="0.22" x="569.8" y="369.0" font-size="13" text-anchor="middle" fill="#000" >Temperature (K)</text>
<line x1="37.9" y1="333.5" x2="39.5" y2="333.5" stroke="#222" stroke-width="0.9"/>
<line x1="36.0" y1="319.7" x2="39.5" y2="319.7" stroke="#222" stroke-width="0.9"/>
<text stroke="#000" stroke-width="0.22" transform="translate(33.0,323.4) scale(1,1.05)" font-size="11" text-anchor="end" fill="#000" >420</text>
<line x1="37.9" y1="306.0" x2="39.5" y2="306.0" stroke="#222" stroke-width="0.9"/>
<line x1="36.0" y1="292.2" x2="39.5" y2="292.2" stroke="#222" stroke-width="0.9"/>
<text stroke="#000" stroke-width="0.22" transform="translate(33.0,295.9) scale(1,1.05)" font-size="11" text-anchor="end" fill="#000" >450</text>
<line x1="37.9" y1="278.5" x2="39.5" y2="278.5" stroke="#222" stroke-width="0.9"/>
<line x1="36.0" y1="264.7" x2="39.5" y2="264.7" stroke="#222" stroke-width="0.9"/>
<text stroke="#000" stroke-width="0.22" transform="translate(33.0,268.4) scale(1,1.05)" font-size="11" text-anchor="end" fill="#000" >480</text>
<line x1="37.9" y1="251.0" x2="39.5" y2="251.0" stroke="#222" stroke-width="0.9"/>
<line x1="36.0" y1="237.2" x2="39.5" y2="237.2" stroke="#222" stroke-width="0.9"/>
<text stroke="#000" stroke-width="0.22" transform="translate(33.0,240.9) scale(1,1.05)" font-size="11" text-anchor="end" fill="#000" >510</text>
<line x1="37.9" y1="223.5" x2="39.5" y2="223.5" stroke="#222" stroke-width="0.9"/>
<line x1="36.0" y1="209.7" x2="39.5" y2="209.7" stroke="#222" stroke-width="0.9"/>
<text stroke="#000" stroke-width="0.22" transform="translate(33.0,213.4) scale(1,1.05)" font-size="11" text-anchor="end" fill="#000" >540</text>
<line x1="37.9" y1="195.9" x2="39.5" y2="195.9" stroke="#222" stroke-width="0.9"/>
<line x1="258.0" y1="333.3" x2="261.5" y2="333.3" stroke="#222" stroke-width="0.9"/>
<text stroke="#000" stroke-width="0.22" transform="translate(255.0,337.0) scale(1,1.05)" font-size="11" text-anchor="end" fill="#000" >0.00</text>
<line x1="259.9" y1="320.7" x2="261.5" y2="320.7" stroke="#222" stroke-width="0.9"/>
<line x1="258.0" y1="308.2" x2="261.5" y2="308.2" stroke="#222" stroke-width="0.9"/>
<text stroke="#000" stroke-width="0.22" transform="translate(255.0,311.9) scale(1,1.05)" font-size="11" text-anchor="end" fill="#000" >0.03</text>
<line x1="259.9" y1="295.6" x2="261.5" y2="295.6" stroke="#222" stroke-width="0.9"/>
<line x1="258.0" y1="283.1" x2="261.5" y2="283.1" stroke="#222" stroke-width="0.9"/>
<text stroke="#000" stroke-width="0.22" transform="translate(255.0,286.8) scale(1,1.05)" font-size="11" text-anchor="end" fill="#000" >0.06</text>
<line x1="259.9" y1="270.5" x2="261.5" y2="270.5" stroke="#222" stroke-width="0.9"/>
<line x1="258.0" y1="258.0" x2="261.5" y2="258.0" stroke="#222" stroke-width="0.9"/>
<text stroke="#000" stroke-width="0.22" transform="translate(255.0,261.7) scale(1,1.05)" font-size="11" text-anchor="end" fill="#000" >0.09</text>
<line x1="259.9" y1="245.4" x2="261.5" y2="245.4" stroke="#222" stroke-width="0.9"/>
<line x1="258.0" y1="232.9" x2="261.5" y2="232.9" stroke="#222" stroke-width="0.9"/>
<text stroke="#000" stroke-width="0.22" transform="translate(255.0,236.6) scale(1,1.05)" font-size="11" text-anchor="end" fill="#000" >0.12</text>
<line x1="259.9" y1="220.3" x2="261.5" y2="220.3" stroke="#222" stroke-width="0.9"/>
<line x1="258.0" y1="207.8" x2="261.5" y2="207.8" stroke="#222" stroke-width="0.9"/>
<text stroke="#000" stroke-width="0.22" transform="translate(255.0,211.5) scale(1,1.05)" font-size="11" text-anchor="end" fill="#000" >0.15</text>
<line x1="259.9" y1="195.2" x2="261.5" y2="195.2" stroke="#222" stroke-width="0.9"/>
<line x1="480.4" y1="331.0" x2="483.9" y2="331.0" stroke="#222" stroke-width="0.9"/>
<text stroke="#000" stroke-width="0.22" transform="translate(477.4,334.7) scale(1,1.05)" font-size="11" text-anchor="end" fill="#000" >0.00</text>
<line x1="482.3" y1="314.0" x2="483.9" y2="314.0" stroke="#222" stroke-width="0.9"/>
<line x1="480.4" y1="297.0" x2="483.9" y2="297.0" stroke="#222" stroke-width="0.9"/>
<text stroke="#000" stroke-width="0.22" transform="translate(477.4,300.7) scale(1,1.05)" font-size="11" text-anchor="end" fill="#000" >0.15</text>
<line x1="482.3" y1="280.0" x2="483.9" y2="280.0" stroke="#222" stroke-width="0.9"/>
<line x1="480.4" y1="263.0" x2="483.9" y2="263.0" stroke="#222" stroke-width="0.9"/>
<text stroke="#000" stroke-width="0.22" transform="translate(477.4,266.7) scale(1,1.05)" font-size="11" text-anchor="end" fill="#000" >0.30</text>
<line x1="482.3" y1="246.0" x2="483.9" y2="246.0" stroke="#222" stroke-width="0.9"/>
<line x1="480.4" y1="229.0" x2="483.9" y2="229.0" stroke="#222" stroke-width="0.9"/>
<text stroke="#000" stroke-width="0.22" transform="translate(477.4,232.7) scale(1,1.05)" font-size="11" text-anchor="end" fill="#000" >0.45</text>
<line x1="482.3" y1="212.0" x2="483.9" y2="212.0" stroke="#222" stroke-width="0.9"/>
<line x1="480.4" y1="195.0" x2="483.9" y2="195.0" stroke="#222" stroke-width="0.9"/>
<text stroke="#000" stroke-width="0.22" transform="translate(477.4,198.7) scale(1,1.05)" font-size="11" text-anchor="end" fill="#000" >0.60</text>
<text stroke="#000" stroke-width="0.22" transform="translate(12.3,261.0) rotate(-90)" font-size="13.2" text-anchor="middle"><tspan font-style="italic">ω</tspan><tspan font-size="8.5" dy="2.2" font-style="italic">2M</tspan><tspan dy="-2.2"> (cm</tspan><tspan font-size="8.5" dy="-4.5">-1</tspan><tspan dy="4.5">)</tspan></text>
<text stroke="#000" stroke-width="0.22" transform="translate(229.2,267.0) rotate(-90)" font-size="12.9" text-anchor="middle">Coupling coefficient (1/|q|)</text>
<text stroke="#000" stroke-width="0.22" transform="translate(451.4,264.6) rotate(-90)" font-size="12.75" text-anchor="middle">Coupling coefficient (1/|q|)</text>
<text stroke="#000" stroke-width="0.22" transform="translate(40.8,206.5) scale(1,1.12)" font-size="15" text-anchor="start" fill="#000" >(d)</text>
<text stroke="#000" stroke-width="0.22" transform="translate(262.5,206.5) scale(1,1.12)" font-size="15" text-anchor="start" fill="#000" >(e)</text>
<text stroke="#000" stroke-width="0.22" transform="translate(485.4,206.5) scale(1,1.12)" font-size="15" text-anchor="start" fill="#000" >(f)</text>
<text stroke="#000" stroke-width="0.22" transform="translate(363.0,204.7) scale(1,1.12)" font-size="12.5" fill="#000">B<tspan font-size="8.5" dy="-5.3">2</tspan><tspan font-size="8.5" dy="8.5">g</tspan></text>
<text stroke="#000" stroke-width="0.22" transform="translate(637.3,204.9) scale(1,1.12)" font-size="12.5" fill="#000">B<tspan font-size="8.5" dy="-5.6">5</tspan><tspan font-size="8.5" dy="8.7">g</tspan></text>
<text stroke="#000" stroke-width="0.22" x="123.0" y="334.8" font-size="13.5" fill="#000" font-style="italic">T<tspan font-size="9.0" dx="-0.6" dy="3.2" font-style="normal" style="font-weight:bold">N</tspan></text>
<text stroke="#000" stroke-width="0.22" x="346.3" y="336.0" font-size="13.5" fill="#000" font-style="italic">T<tspan font-size="9.0" dx="-0.6" dy="2.9" font-style="normal" style="font-weight:bold">N</tspan></text>
<text stroke="#000" stroke-width="0.22" x="570.9" y="333.5" font-size="13.5" fill="#000" font-style="italic">T<tspan font-size="9.0" dx="-0.6" dy="3.2" font-style="normal" style="font-weight:bold">N</tspan></text>
<defs><radialGradient id="ball" cx="0.4" cy="0.3" r="0.8" fx="0.38" fy="0.28"><stop offset="0" stop-color="#ffffff"/><stop offset="0.14" stop-color="#ffb0b0"/><stop offset="0.32" stop-color="#ff2a2a"/><stop offset="0.75" stop-color="#f00000"/><stop offset="1" stop-color="#c80000"/></radialGradient></defs>
<rect x="51.9" y="293.1" width="5.8" height="5.8" fill="#000"/>
<circle cx="54.8" cy="312.0" r="3.7" fill="url(#ball)"/>
<polygon points="54.8,323.4 50.6,330.6 59.0,330.6" fill="#0000ff"/>
<text stroke="#000" stroke-width="0.22" x="71.9" y="299.6" font-size="13" text-anchor="start" fill="#000" >0.03</text>
<text stroke="#000" stroke-width="0.22" x="71.9" y="315.6" font-size="13" text-anchor="start" fill="#000" >0.06</text>
<text stroke="#000" stroke-width="0.22" x="71.9" y="331.3" font-size="13" text-anchor="start" fill="#000" >0.09</text>
<rect x="385.2" y="295.6" width="5.8" height="5.8" fill="#000"/>
<circle cx="388.1" cy="314.5" r="3.7" fill="url(#ball)"/>
<polygon points="388.1,325.9 383.9,333.1 392.3,333.1" fill="#0000ff"/>
<text stroke="#000" stroke-width="0.22" x="405.4" y="303.0" font-size="13" text-anchor="start" fill="#000" >0.03</text>
<text stroke="#000" stroke-width="0.22" x="405.4" y="319.0" font-size="13" text-anchor="start" fill="#000" >0.06</text>
<text stroke="#000" stroke-width="0.22" x="405.4" y="334.7" font-size="13" text-anchor="start" fill="#000" >0.09</text>
<rect x="499.4" y="296.4" width="5.8" height="5.8" fill="#000"/>
<circle cx="502.3" cy="315.3" r="3.7" fill="url(#ball)"/>
<polygon points="502.3,326.7 498.1,333.9 506.5,333.9" fill="#0000ff"/>
<text stroke="#000" stroke-width="0.22" x="519.6" y="303.8" font-size="13" text-anchor="start" fill="#000" >0.03</text>
<text stroke="#000" stroke-width="0.22" x="519.6" y="319.8" font-size="13" text-anchor="start" fill="#000" >0.06</text>
<text stroke="#000" stroke-width="0.22" x="519.6" y="335.5" font-size="13" text-anchor="start" fill="#000" >0.09</text>
<defs><clipPath id="cd"><rect x="39.5" y="190.9" width="172.3" height="151.1"/></clipPath><clipPath id="ce"><rect x="261.8" y="190.9" width="172.2" height="151.1"/></clipPath><clipPath id="cf"><rect x="483.9" y="190.9" width="171.9" height="151.1"/></clipPath></defs>
<g clip-path="url(#cd)">
<rect x="45.1" y="219.0" width="5.6" height="5.6" fill="#000"/>
<rect x="51.5" y="219.0" width="5.6" height="5.6" fill="#000"/>
<rect x="58.0" y="219.0" width="5.6" height="5.6" fill="#000"/>
<rect x="65.2" y="219.0" width="5.6" height="5.6" fill="#000"/>
<rect x="72.5" y="219.0" width="5.6" height="5.6" fill="#000"/>
<rect x="79.4" y="222.2" width="5.6" height="5.6" fill="#000"/>
<rect x="86.2" y="226.2" width="5.6" height="5.6" fill="#000"/>
<rect x="93.5" y="238.2" width="5.6" height="5.6" fill="#000"/>
<rect x="99.9" y="240.7" width="5.6" height="5.6" fill="#000"/>
<rect x="112.4" y="274.0" width="5.6" height="5.6" fill="#000"/>
<rect x="122.8" y="284.0" width="5.6" height="5.6" fill="#000"/>
<rect x="129.3" y="298.4" width="5.6" height="5.6" fill="#000"/>
<rect x="137.2" y="296.1" width="5.6" height="5.6" fill="#000"/>
<circle cx="47.9" cy="211.3" r="3.5" fill="url(#ball)"/>
<circle cx="53.5" cy="209.7" r="3.5" fill="url(#ball)"/>
<circle cx="60.8" cy="212.3" r="3.5" fill="url(#ball)"/>
<circle cx="68.0" cy="212.3" r="3.5" fill="url(#ball)"/>
<circle cx="75.3" cy="212.3" r="3.5" fill="url(#ball)"/>
<circle cx="82.2" cy="213.5" r="3.5" fill="url(#ball)"/>
<circle cx="89.8" cy="217.0" r="3.5" fill="url(#ball)"/>
<circle cx="115.2" cy="273.0" r="3.5" fill="url(#ball)"/>
<circle cx="126.5" cy="282.3" r="3.5" fill="url(#ball)"/>
<circle cx="139.8" cy="300.6" r="3.5" fill="url(#ball)"/>
<polygon points="47.9,209.5 43.8,216.5 52.0,216.5" fill="#0000ff"/>
<polygon points="54.3,209.5 50.2,216.5 58.4,216.5" fill="#0000ff"/>
<polygon points="60.8,209.5 56.7,216.5 64.9,216.5" fill="#0000ff"/>
<polygon points="68.0,209.5 63.9,216.5 72.1,216.5" fill="#0000ff"/>
<polygon points="75.3,209.5 71.2,216.5 79.4,216.5" fill="#0000ff"/>
<polygon points="82.2,211.1 78.1,218.1 86.3,218.1" fill="#0000ff"/>
<polygon points="95.5,227.8 91.4,234.8 99.6,234.8" fill="#0000ff"/>
<polygon points="104.3,230.5 100.2,237.5 108.4,237.5" fill="#0000ff"/>
<polygon points="110.3,256.8 106.2,263.8 114.4,263.8" fill="#0000ff"/>
<polygon points="116.8,256.8 112.7,263.8 120.9,263.8" fill="#0000ff"/>
<polygon points="119.2,278.5 115.1,285.5 123.3,285.5" fill="#0000ff"/>
<polygon points="124.0,287.4 119.9,294.4 128.1,294.4" fill="#0000ff"/>
<polygon points="133.4,288.2 129.3,295.2 137.5,295.2" fill="#0000ff"/>
<polygon points="141.2,305.1 137.1,312.1 145.3,312.1" fill="#0000ff"/>
<path d="M47.4 216.8C50.1 216.9 58.5 217.2 63.7 217.4C68.9 217.7 74.5 217.7 78.4 218.3C82.3 219.0 84.6 219.8 87.3 221.3C90.0 222.8 92.5 225.0 94.7 227.2C96.9 229.4 98.6 231.6 100.6 234.6C102.6 237.6 104.7 241.2 106.5 244.9C108.3 248.6 110.0 252.8 111.6 256.7C113.2 260.6 114.7 264.9 116.3 268.6C117.9 272.3 119.2 275.2 121.3 278.9C123.4 282.6 126.5 287.0 128.7 290.7C130.9 294.4 132.7 297.9 134.6 301.1C136.5 304.3 139.0 308.5 139.9 310.0" fill="none" stroke="#f27c1e" stroke-opacity="0.82" stroke-width="4.8" stroke-linecap="butt"/>
</g>
<g clip-path="url(#ce)">
<rect x="334.9" y="317.5" width="5.6" height="5.6" fill="#000"/>
<rect x="340.8" y="293.8" width="5.6" height="5.6" fill="#000"/>
<rect x="345.2" y="297.5" width="5.6" height="5.6" fill="#000"/>
<rect x="351.9" y="276.7" width="5.6" height="5.6" fill="#000"/>
<rect x="359.3" y="262.7" width="5.6" height="5.6" fill="#000"/>
<rect x="366.4" y="252.5" width="5.6" height="5.6" fill="#000"/>
<rect x="373.7" y="247.5" width="5.6" height="5.6" fill="#000"/>
<rect x="380.8" y="231.7" width="5.6" height="5.6" fill="#000"/>
<rect x="387.8" y="228.3" width="5.6" height="5.6" fill="#000"/>
<rect x="394.9" y="224.1" width="5.6" height="5.6" fill="#000"/>
<rect x="402.0" y="228.9" width="5.6" height="5.6" fill="#000"/>
<rect x="409.0" y="224.1" width="5.6" height="5.6" fill="#000"/>
<rect x="416.3" y="230.3" width="5.6" height="5.6" fill="#000"/>
<rect x="424.0" y="216.2" width="5.6" height="5.6" fill="#000"/>
<circle cx="304.4" cy="334.3" r="3.5" fill="url(#ball)"/>
<circle cx="311.5" cy="334.3" r="3.5" fill="url(#ball)"/>
<circle cx="318.9" cy="334.3" r="3.5" fill="url(#ball)"/>
<circle cx="326.2" cy="334.3" r="3.5" fill="url(#ball)"/>
<circle cx="333.7" cy="334.3" r="3.5" fill="url(#ball)"/>
<circle cx="338.7" cy="334.3" r="3.5" fill="url(#ball)"/>
<circle cx="339.9" cy="312.2" r="3.5" fill="url(#ball)"/>
<circle cx="343.6" cy="321.8" r="3.5" fill="url(#ball)"/>
<circle cx="348.0" cy="311.4" r="3.5" fill="url(#ball)"/>
<circle cx="354.7" cy="287.6" r="3.5" fill="url(#ball)"/>
<circle cx="362.1" cy="283.2" r="3.5" fill="url(#ball)"/>
<circle cx="376.5" cy="261.6" r="3.5" fill="url(#ball)"/>
<circle cx="383.6" cy="247.2" r="3.5" fill="url(#ball)"/>
<circle cx="390.6" cy="243.0" r="3.5" fill="url(#ball)"/>
<circle cx="397.7" cy="244.4" r="3.5" fill="url(#ball)"/>
<circle cx="404.8" cy="231.7" r="3.5" fill="url(#ball)"/>
<circle cx="411.8" cy="219.0" r="3.5" fill="url(#ball)"/>
<circle cx="419.1" cy="241.5" r="3.5" fill="url(#ball)"/>
<circle cx="426.8" cy="245.8" r="3.5" fill="url(#ball)"/>
<polygon points="304.4,328.7 300.3,335.7 308.5,335.7" fill="#0000ff"/>
<polygon points="311.5,328.7 307.4,335.7 315.6,335.7" fill="#0000ff"/>
<polygon points="318.9,328.7 314.8,335.7 323.0,335.7" fill="#0000ff"/>
<polygon points="326.2,328.7 322.1,335.7 330.3,335.7" fill="#0000ff"/>
<polygon points="333.7,328.7 329.6,335.7 337.8,335.7" fill="#0000ff"/>
<polygon points="338.7,328.7 334.6,335.7 342.8,335.7" fill="#0000ff"/>
<polygon points="342.9,306.5 338.8,313.5 347.0,313.5" fill="#0000ff"/>
<polygon points="347.6,285.0 343.5,292.0 351.7,292.0" fill="#0000ff"/>
<polygon points="354.7,272.9 350.6,279.9 358.8,279.9" fill="#0000ff"/>
<polygon points="362.1,268.9 358.0,275.9 366.2,275.9" fill="#0000ff"/>
<polygon points="369.2,266.4 365.1,273.4 373.3,273.4" fill="#0000ff"/>
<polygon points="376.5,247.2 372.4,254.2 380.6,254.2" fill="#0000ff"/>
<polygon points="383.6,238.8 379.5,245.8 387.7,245.8" fill="#0000ff"/>
<polygon points="390.6,226.1 386.5,233.1 394.7,233.1" fill="#0000ff"/>
<polygon points="397.7,227.5 393.6,234.5 401.8,234.5" fill="#0000ff"/>
<polygon points="404.8,233.1 400.7,240.1 408.9,240.1" fill="#0000ff"/>
<polygon points="411.8,223.2 407.7,230.2 415.9,230.2" fill="#0000ff"/>
<polygon points="419.1,223.2 415.0,230.2 423.2,230.2" fill="#0000ff"/>
<polygon points="426.8,213.4 422.7,220.4 430.9,220.4" fill="#0000ff"/>
<path d="M337.7 317.3V323.3M336.2 317.3h3M336.2 323.3h3" stroke="#000" stroke-width="0.8" fill="none"/>
<path d="M343.6 292.6V300.6M342.1 292.6h3M342.1 300.6h3" stroke="#000" stroke-width="0.8" fill="none"/>
<path d="M348.0 296.3V304.3M346.5 296.3h3M346.5 304.3h3" stroke="#000" stroke-width="0.8" fill="none"/>
<path d="M354.7 274.5V284.5M353.2 274.5h3M353.2 284.5h3" stroke="#000" stroke-width="0.8" fill="none"/>
<path d="M362.1 258.5V272.5M360.6 258.5h3M360.6 272.5h3" stroke="#000" stroke-width="0.8" fill="none"/>
<path d="M369.2 248.3V262.3M367.7 248.3h3M367.7 262.3h3" stroke="#000" stroke-width="0.8" fill="none"/>
<path d="M376.5 244.3V256.3M375.0 244.3h3M375.0 256.3h3" stroke="#000" stroke-width="0.8" fill="none"/>
<path d="M383.6 228.5V240.5M382.1 228.5h3M382.1 240.5h3" stroke="#000" stroke-width="0.8" fill="none"/>
<path d="M390.6 224.1V238.1M389.1 224.1h3M389.1 238.1h3" stroke="#000" stroke-width="0.8" fill="none"/>
<path d="M397.7 219.9V233.9M396.2 219.9h3M396.2 233.9h3" stroke="#000" stroke-width="0.8" fill="none"/>
<path d="M404.8 224.7V238.7M403.3 224.7h3M403.3 238.7h3" stroke="#000" stroke-width="0.8" fill="none"/>
<path d="M411.8 219.9V233.9M410.3 219.9h3M410.3 233.9h3" stroke="#000" stroke-width="0.8" fill="none"/>
<path d="M419.1 225.1V241.1M417.6 225.1h3M417.6 241.1h3" stroke="#000" stroke-width="0.8" fill="none"/>
<path d="M426.8 211.0V227.0M425.3 211.0h3M425.3 227.0h3" stroke="#000" stroke-width="0.8" fill="none"/>
<path d="M339.9 306.2V318.2M338.4 306.2h3M338.4 318.2h3" stroke="#ff0000" stroke-width="0.8" fill="none"/>
<path d="M343.6 316.8V326.8M342.1 316.8h3M342.1 326.8h3" stroke="#ff0000" stroke-width="0.8" fill="none"/>
<path d="M348.0 303.4V319.4M346.5 303.4h3M346.5 319.4h3" stroke="#ff0000" stroke-width="0.8" fill="none"/>
<path d="M354.7 280.6V294.6M353.2 280.6h3M353.2 294.6h3" stroke="#ff0000" stroke-width="0.8" fill="none"/>
<path d="M362.1 270.2V296.2M360.6 270.2h3M360.6 296.2h3" stroke="#ff0000" stroke-width="0.8" fill="none"/>
<path d="M376.5 247.6V275.6M375.0 247.6h3M375.0 275.6h3" stroke="#ff0000" stroke-width="0.8" fill="none"/>
<path d="M383.6 231.2V263.2M382.1 231.2h3M382.1 263.2h3" stroke="#ff0000" stroke-width="0.8" fill="none"/>
<path d="M390.6 228.0V258.0M389.1 228.0h3M389.1 258.0h3" stroke="#ff0000" stroke-width="0.8" fill="none"/>
<path d="M397.7 230.4V258.4M396.2 230.4h3M396.2 258.4h3" stroke="#ff0000" stroke-width="0.8" fill="none"/>
<path d="M404.8 217.7V245.7M403.3 217.7h3M403.3 245.7h3" stroke="#ff0000" stroke-width="0.8" fill="none"/>
<path d="M411.8 204.0V234.0M410.3 204.0h3M410.3 234.0h3" stroke="#ff0000" stroke-width="0.8" fill="none"/>
<path d="M419.1 227.5V255.5M417.6 227.5h3M417.6 255.5h3" stroke="#ff0000" stroke-width="0.8" fill="none"/>
<path d="M426.8 232.8V258.8M425.3 232.8h3M425.3 258.8h3" stroke="#ff0000" stroke-width="0.8" fill="none"/>
<path d="M333.7 320.9V344.9M332.2 320.9h3M332.2 344.9h3" stroke="#0000ff" stroke-width="0.8" fill="none"/>
<path d="M338.7 323.9V341.9M337.2 323.9h3M337.2 341.9h3" stroke="#0000ff" stroke-width="0.8" fill="none"/>
<path d="M342.9 302.7V318.7M341.4 302.7h3M341.4 318.7h3" stroke="#0000ff" stroke-width="0.8" fill="none"/>
<path d="M347.6 275.2V303.2M346.1 275.2h3M346.1 303.2h3" stroke="#0000ff" stroke-width="0.8" fill="none"/>
<path d="M354.7 262.1V292.1M353.2 262.1h3M353.2 292.1h3" stroke="#0000ff" stroke-width="0.8" fill="none"/>
<path d="M362.1 260.1V286.1M360.6 260.1h3M360.6 286.1h3" stroke="#0000ff" stroke-width="0.8" fill="none"/>
<path d="M369.2 254.6V286.6M367.7 254.6h3M367.7 286.6h3" stroke="#0000ff" stroke-width="0.8" fill="none"/>
<path d="M376.5 238.4V264.4M375.0 238.4h3M375.0 264.4h3" stroke="#0000ff" stroke-width="0.8" fill="none"/>
<path d="M383.6 227.0V259.0M382.1 227.0h3M382.1 259.0h3" stroke="#0000ff" stroke-width="0.8" fill="none"/>
<path d="M390.6 215.3V245.3M389.1 215.3h3M389.1 245.3h3" stroke="#0000ff" stroke-width="0.8" fill="none"/>
<path d="M397.7 217.7V245.7M396.2 217.7h3M396.2 245.7h3" stroke="#0000ff" stroke-width="0.8" fill="none"/>
<path d="M404.8 221.3V253.3M403.3 221.3h3M403.3 253.3h3" stroke="#0000ff" stroke-width="0.8" fill="none"/>
<path d="M411.8 212.4V242.4M410.3 212.4h3M410.3 242.4h3" stroke="#0000ff" stroke-width="0.8" fill="none"/>
<path d="M419.1 213.4V241.4M417.6 213.4h3M417.6 241.4h3" stroke="#0000ff" stroke-width="0.8" fill="none"/>
<path d="M426.8 200.6V234.6M425.3 200.6h3M425.3 234.6h3" stroke="#0000ff" stroke-width="0.8" fill="none"/>
</g>
<g clip-path="url(#cf)">
<rect x="489.7" y="225.2" width="5.6" height="5.6" fill="#000"/>
<rect x="495.5" y="227.4" width="5.6" height="5.6" fill="#000"/>
<rect x="502.6" y="234.2" width="5.6" height="5.6" fill="#000"/>
<rect x="509.5" y="234.2" width="5.6" height="5.6" fill="#000"/>
<rect x="516.6" y="225.2" width="5.6" height="5.6" fill="#000"/>
<rect x="524.1" y="225.2" width="5.6" height="5.6" fill="#000"/>
<rect x="531.0" y="223.5" width="5.6" height="5.6" fill="#000"/>
<rect x="538.5" y="234.9" width="5.6" height="5.6" fill="#000"/>
<rect x="545.6" y="245.6" width="5.6" height="5.6" fill="#000"/>
<rect x="552.5" y="238.1" width="5.6" height="5.6" fill="#000"/>
<rect x="557.8" y="256.6" width="5.6" height="5.6" fill="#000"/>
<rect x="562.6" y="269.1" width="5.6" height="5.6" fill="#000"/>
<rect x="567.1" y="237.0" width="5.6" height="5.6" fill="#000"/>
<rect x="574.0" y="249.9" width="5.6" height="5.6" fill="#000"/>
<rect x="595.3" y="289.7" width="5.6" height="5.6" fill="#000"/>
<rect x="609.8" y="276.4" width="5.6" height="5.6" fill="#000"/>
<rect x="617.0" y="298.2" width="5.6" height="5.6" fill="#000"/>
<rect x="624.3" y="297.7" width="5.6" height="5.6" fill="#000"/>
<rect x="631.6" y="292.1" width="5.6" height="5.6" fill="#000"/>
<rect x="638.8" y="294.5" width="5.6" height="5.6" fill="#000"/>
<rect x="646.1" y="294.5" width="5.6" height="5.6" fill="#000"/>
<circle cx="492.5" cy="217.7" r="3.5" fill="url(#ball)"/>
<circle cx="498.3" cy="217.3" r="3.5" fill="url(#ball)"/>
<circle cx="505.4" cy="222.8" r="3.5" fill="url(#ball)"/>
<circle cx="512.3" cy="223.3" r="3.5" fill="url(#ball)"/>
<circle cx="519.4" cy="222.2" r="3.5" fill="url(#ball)"/>
<circle cx="526.9" cy="206.5" r="3.5" fill="url(#ball)"/>
<circle cx="533.8" cy="234.9" r="3.5" fill="url(#ball)"/>
<circle cx="541.3" cy="220.5" r="3.5" fill="url(#ball)"/>
<circle cx="548.4" cy="240.9" r="3.5" fill="url(#ball)"/>
<circle cx="555.3" cy="247.4" r="3.5" fill="url(#ball)"/>
<circle cx="560.6" cy="252.7" r="3.5" fill="url(#ball)"/>
<circle cx="564.2" cy="276.8" r="3.5" fill="url(#ball)"/>
<circle cx="569.8" cy="284.0" r="3.5" fill="url(#ball)"/>
<circle cx="577.0" cy="289.4" r="3.5" fill="url(#ball)"/>
<circle cx="584.3" cy="275.6" r="3.5" fill="url(#ball)"/>
<circle cx="591.5" cy="267.6" r="3.5" fill="url(#ball)"/>
<circle cx="598.1" cy="298.5" r="3.5" fill="url(#ball)"/>
<circle cx="605.8" cy="291.8" r="3.5" fill="url(#ball)"/>
<circle cx="612.6" cy="299.8" r="3.5" fill="url(#ball)"/>
<circle cx="619.8" cy="288.9" r="3.5" fill="url(#ball)"/>
<circle cx="627.1" cy="276.0" r="3.5" fill="url(#ball)"/>
<circle cx="634.4" cy="297.3" r="3.5" fill="url(#ball)"/>
<circle cx="641.6" cy="288.9" r="3.5" fill="url(#ball)"/>
<circle cx="648.9" cy="292.5" r="3.5" fill="url(#ball)"/>
<polygon points="492.5,224.9 488.4,231.9 496.6,231.9" fill="#0000ff"/>
<polygon points="498.3,221.7 494.2,228.7 502.4,228.7" fill="#0000ff"/>
<polygon points="505.4,237.8 501.3,244.8 509.5,244.8" fill="#0000ff"/>
<polygon points="512.3,232.4 508.2,239.4 516.4,239.4" fill="#0000ff"/>
<polygon points="519.4,223.8 515.3,230.8 523.5,230.8" fill="#0000ff"/>
<polygon points="526.9,237.8 522.8,244.8 531.0,244.8" fill="#0000ff"/>
<polygon points="533.8,235.6 529.7,242.6 537.9,242.6" fill="#0000ff"/>
<polygon points="541.3,248.5 537.2,255.5 545.4,255.5" fill="#0000ff"/>
<polygon points="548.4,219.5 544.3,226.5 552.5,226.5" fill="#0000ff"/>
<polygon points="555.3,248.5 551.2,255.5 559.4,255.5" fill="#0000ff"/>
<polygon points="560.6,268.2 556.5,275.2 564.7,275.2" fill="#0000ff"/>
<polygon points="565.4,259.3 561.3,266.3 569.5,266.3" fill="#0000ff"/>
<polygon points="569.8,296.3 565.7,303.3 573.9,303.3" fill="#0000ff"/>
<polygon points="577.0,270.2 572.9,277.2 581.1,277.2" fill="#0000ff"/>
<polygon points="584.3,265.3 580.2,272.3 588.4,272.3" fill="#0000ff"/>
<polygon points="590.8,267.3 586.7,274.3 594.9,274.3" fill="#0000ff"/>
<polygon points="598.1,276.2 594.0,283.2 602.2,283.2" fill="#0000ff"/>
<polygon points="605.3,274.3 601.2,281.3 609.4,281.3" fill="#0000ff"/>
<polygon points="612.6,279.4 608.5,286.4 616.7,286.4" fill="#0000ff"/>
<polygon points="619.8,311.3 615.7,318.3 623.9,318.3" fill="#0000ff"/>
<polygon points="627.1,322.2 623.0,329.2 631.2,329.2" fill="#0000ff"/>
<polygon points="634.4,304.5 630.3,311.5 638.5,311.5" fill="#0000ff"/>
<polygon points="648.9,308.1 644.8,315.1 653.0,315.1" fill="#0000ff"/>
<path d="M492.5 219.7V236.3M491.0 219.7h3M491.0 236.3h3" stroke="#000" stroke-width="0.8" fill="none"/>
<path d="M498.3 222.6V237.8M496.8 222.6h3M496.8 237.8h3" stroke="#000" stroke-width="0.8" fill="none"/>
<path d="M505.4 227.4V246.6M503.9 227.4h3M503.9 246.6h3" stroke="#000" stroke-width="0.8" fill="none"/>
<path d="M512.3 229.7V244.3M510.8 229.7h3M510.8 244.3h3" stroke="#000" stroke-width="0.8" fill="none"/>
<path d="M519.4 218.9V237.1M517.9 218.9h3M517.9 237.1h3" stroke="#000" stroke-width="0.8" fill="none"/>
<path d="M526.9 219.5V236.5M525.4 219.5h3M525.4 236.5h3" stroke="#000" stroke-width="0.8" fill="none"/>
<path d="M533.8 219.1V233.5M532.3 219.1h3M532.3 233.5h3" stroke="#000" stroke-width="0.8" fill="none"/>
<path d="M541.3 228.7V246.7M539.8 228.7h3M539.8 246.7h3" stroke="#000" stroke-width="0.8" fill="none"/>
<path d="M548.4 241.3V255.5M546.9 241.3h3M546.9 255.5h3" stroke="#000" stroke-width="0.8" fill="none"/>
<path d="M555.3 232.2V249.6M553.8 232.2h3M553.8 249.6h3" stroke="#000" stroke-width="0.8" fill="none"/>
<path d="M560.6 252.1V266.7M559.1 252.1h3M559.1 266.7h3" stroke="#000" stroke-width="0.8" fill="none"/>
<path d="M565.4 264.5V279.3M563.9 264.5h3M563.9 279.3h3" stroke="#000" stroke-width="0.8" fill="none"/>
<path d="M569.9 231.1V248.5M568.4 231.1h3M568.4 248.5h3" stroke="#000" stroke-width="0.8" fill="none"/>
<path d="M576.8 242.4V263.0M575.3 242.4h3M575.3 263.0h3" stroke="#000" stroke-width="0.8" fill="none"/>
<path d="M598.1 285.0V300.0M596.6 285.0h3M596.6 300.0h3" stroke="#000" stroke-width="0.8" fill="none"/>
<path d="M612.6 271.3V287.1M611.1 271.3h3M611.1 287.1h3" stroke="#000" stroke-width="0.8" fill="none"/>
<path d="M619.8 291.5V310.5M618.3 291.5h3M618.3 310.5h3" stroke="#000" stroke-width="0.8" fill="none"/>
<path d="M627.1 289.7V311.3M625.6 289.7h3M625.6 311.3h3" stroke="#000" stroke-width="0.8" fill="none"/>
<path d="M634.4 285.6V304.2M632.9 285.6h3M632.9 304.2h3" stroke="#000" stroke-width="0.8" fill="none"/>
<path d="M641.6 288.7V305.9M640.1 288.7h3M640.1 305.9h3" stroke="#000" stroke-width="0.8" fill="none"/>
<path d="M648.9 286.4V308.2M647.4 286.4h3M647.4 308.2h3" stroke="#000" stroke-width="0.8" fill="none"/>
<path d="M492.5 207.5V227.9M491.0 207.5h3M491.0 227.9h3" stroke="#ff0000" stroke-width="0.8" fill="none"/>
<path d="M498.3 203.0V231.6M496.8 203.0h3M496.8 231.6h3" stroke="#ff0000" stroke-width="0.8" fill="none"/>
<path d="M505.4 211.4V234.2M503.9 211.4h3M503.9 234.2h3" stroke="#ff0000" stroke-width="0.8" fill="none"/>
<path d="M512.3 212.6V234.0M510.8 212.6h3M510.8 234.0h3" stroke="#ff0000" stroke-width="0.8" fill="none"/>
<path d="M519.4 211.6V232.8M517.9 211.6h3M517.9 232.8h3" stroke="#ff0000" stroke-width="0.8" fill="none"/>
<path d="M526.9 195.0V218.0M525.4 195.0h3M525.4 218.0h3" stroke="#ff0000" stroke-width="0.8" fill="none"/>
<path d="M533.8 220.8V249.0M532.3 220.8h3M532.3 249.0h3" stroke="#ff0000" stroke-width="0.8" fill="none"/>
<path d="M541.3 209.6V231.4M539.8 209.6h3M539.8 231.4h3" stroke="#ff0000" stroke-width="0.8" fill="none"/>
<path d="M548.4 228.0V253.8M546.9 228.0h3M546.9 253.8h3" stroke="#ff0000" stroke-width="0.8" fill="none"/>
<path d="M555.3 234.2V260.6M553.8 234.2h3M553.8 260.6h3" stroke="#ff0000" stroke-width="0.8" fill="none"/>
<path d="M560.6 240.8V264.6M559.1 240.8h3M559.1 264.6h3" stroke="#ff0000" stroke-width="0.8" fill="none"/>
<path d="M564.2 264.1V289.5M562.7 264.1h3M562.7 289.5h3" stroke="#ff0000" stroke-width="0.8" fill="none"/>
<path d="M569.8 273.7V294.3M568.3 273.7h3M568.3 294.3h3" stroke="#ff0000" stroke-width="0.8" fill="none"/>
<path d="M577.0 279.1V299.7M575.5 279.1h3M575.5 299.7h3" stroke="#ff0000" stroke-width="0.8" fill="none"/>
<path d="M584.3 264.6V286.6M582.8 264.6h3M582.8 286.6h3" stroke="#ff0000" stroke-width="0.8" fill="none"/>
<path d="M591.5 254.2V281.0M590.0 254.2h3M590.0 281.0h3" stroke="#ff0000" stroke-width="0.8" fill="none"/>
<path d="M598.1 286.4V310.6M596.6 286.4h3M596.6 310.6h3" stroke="#ff0000" stroke-width="0.8" fill="none"/>
<path d="M605.8 280.2V303.4M604.3 280.2h3M604.3 303.4h3" stroke="#ff0000" stroke-width="0.8" fill="none"/>
<path d="M612.6 286.9V312.7M611.1 286.9h3M611.1 312.7h3" stroke="#ff0000" stroke-width="0.8" fill="none"/>
<path d="M619.8 276.6V301.2M618.3 276.6h3M618.3 301.2h3" stroke="#ff0000" stroke-width="0.8" fill="none"/>
<path d="M627.1 264.5V287.5M625.6 264.5h3M625.6 287.5h3" stroke="#ff0000" stroke-width="0.8" fill="none"/>
<path d="M634.4 283.3V311.3M632.9 283.3h3M632.9 311.3h3" stroke="#ff0000" stroke-width="0.8" fill="none"/>
<path d="M641.6 275.4V302.4M640.1 275.4h3M640.1 302.4h3" stroke="#ff0000" stroke-width="0.8" fill="none"/>
<path d="M648.9 281.3V303.7M647.4 281.3h3M647.4 303.7h3" stroke="#ff0000" stroke-width="0.8" fill="none"/>
<path d="M492.5 215.2V243.0M491.0 215.2h3M491.0 243.0h3" stroke="#0000ff" stroke-width="0.8" fill="none"/>
<path d="M498.3 212.3V239.5M496.8 212.3h3M496.8 239.5h3" stroke="#0000ff" stroke-width="0.8" fill="none"/>
<path d="M505.4 226.6V257.4M503.9 226.6h3M503.9 257.4h3" stroke="#0000ff" stroke-width="0.8" fill="none"/>
<path d="M512.3 222.0V251.2M510.8 222.0h3M510.8 251.2h3" stroke="#0000ff" stroke-width="0.8" fill="none"/>
<path d="M519.4 215.6V240.4M517.9 215.6h3M517.9 240.4h3" stroke="#0000ff" stroke-width="0.8" fill="none"/>
<path d="M526.9 226.1V257.9M525.4 226.1h3M525.4 257.9h3" stroke="#0000ff" stroke-width="0.8" fill="none"/>
<path d="M533.8 228.2V251.4M532.3 228.2h3M532.3 251.4h3" stroke="#0000ff" stroke-width="0.8" fill="none"/>
<path d="M541.3 239.6V265.8M539.8 239.6h3M539.8 265.8h3" stroke="#0000ff" stroke-width="0.8" fill="none"/>
<path d="M548.4 208.9V238.5M546.9 208.9h3M546.9 238.5h3" stroke="#0000ff" stroke-width="0.8" fill="none"/>
<path d="M555.3 240.9V264.5M553.8 240.9h3M553.8 264.5h3" stroke="#0000ff" stroke-width="0.8" fill="none"/>
<path d="M560.6 259.0V285.8M559.1 259.0h3M559.1 285.8h3" stroke="#0000ff" stroke-width="0.8" fill="none"/>
<path d="M565.4 252.3V274.7M563.9 252.3h3M563.9 274.7h3" stroke="#0000ff" stroke-width="0.8" fill="none"/>
<path d="M569.8 286.2V314.8M568.3 286.2h3M568.3 314.8h3" stroke="#0000ff" stroke-width="0.8" fill="none"/>
<path d="M577.0 259.6V289.2M575.5 259.6h3M575.5 289.2h3" stroke="#0000ff" stroke-width="0.8" fill="none"/>
<path d="M584.3 255.6V283.4M582.8 255.6h3M582.8 283.4h3" stroke="#0000ff" stroke-width="0.8" fill="none"/>
<path d="M590.8 256.1V286.9M589.3 256.1h3M589.3 286.9h3" stroke="#0000ff" stroke-width="0.8" fill="none"/>
<path d="M598.1 267.8V293.0M596.6 267.8h3M596.6 293.0h3" stroke="#0000ff" stroke-width="0.8" fill="none"/>
<path d="M605.3 264.0V293.0M603.8 264.0h3M603.8 293.0h3" stroke="#0000ff" stroke-width="0.8" fill="none"/>
<path d="M612.6 269.6V297.6M611.1 269.6h3M611.1 297.6h3" stroke="#0000ff" stroke-width="0.8" fill="none"/>
<path d="M619.8 301.6V329.4M618.3 301.6h3M618.3 329.4h3" stroke="#0000ff" stroke-width="0.8" fill="none"/>
<path d="M627.1 313.1V339.7M625.6 313.1h3M625.6 339.7h3" stroke="#0000ff" stroke-width="0.8" fill="none"/>
<path d="M634.4 293.5V323.9M632.9 293.5h3M632.9 323.9h3" stroke="#0000ff" stroke-width="0.8" fill="none"/>
<path d="M648.9 296.6V328.0M647.4 296.6h3M647.4 328.0h3" stroke="#0000ff" stroke-width="0.8" fill="none"/>
</g>
<rect x="39.5" y="190.9" width="172.3" height="151.1" fill="none" stroke="#3a3a3a" stroke-width="1.2"/>
<rect x="261.8" y="190.9" width="172.2" height="151.1" fill="none" stroke="#3a3a3a" stroke-width="1.2"/>
<rect x="483.9" y="190.9" width="171.9" height="151.1" fill="none" stroke="#3a3a3a" stroke-width="1.2"/>
</svg></div></body></html>
